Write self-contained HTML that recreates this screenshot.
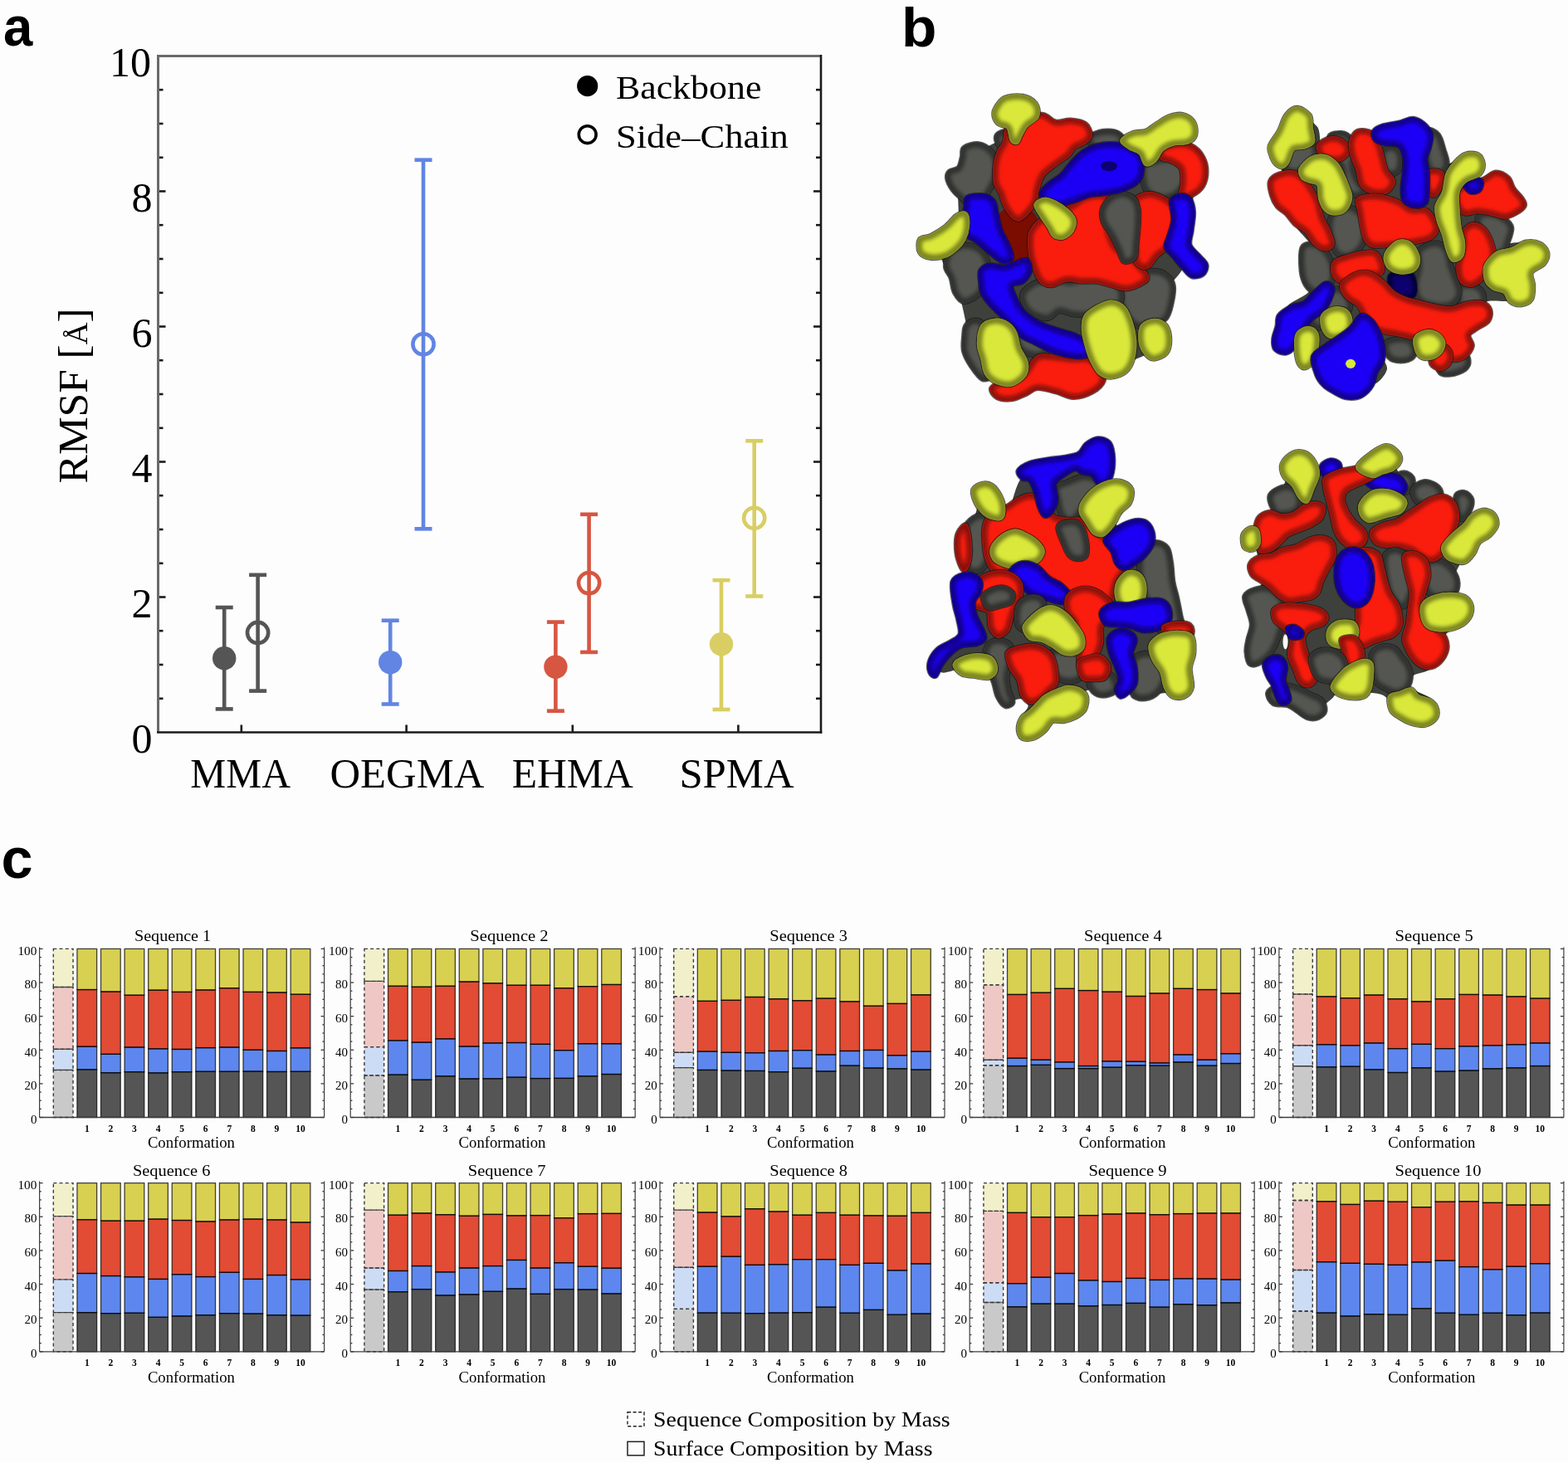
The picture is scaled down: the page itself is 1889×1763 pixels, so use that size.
<!DOCTYPE html>
<html><head><meta charset="utf-8"><title>Figure</title>
<style>html,body{margin:0;padding:0;background:#fdfdfd;} svg{display:block;}</style></head>
<body><svg width="1889" height="1763" viewBox="0 0 1889 1763">
<rect width="1889" height="1763" fill="#fdfdfd"/>
<text transform="translate(4.1,54.9) scale(0.94,1)" font-family="'Liberation Sans', Arial, sans-serif" font-size="67.5" font-weight="bold">a</text>
<text transform="translate(1086.0,56.0) scale(1.03,1)" font-family="'Liberation Sans', Arial, sans-serif" font-size="67.5" font-weight="bold">b</text>
<text transform="translate(1.5,1057.6)" font-family="'Liberation Sans', Arial, sans-serif" font-size="68.4" font-weight="bold">c</text>
<line x1="190.5" y1="841.8" x2="196.5" y2="841.8" stroke="#1a1a1a" stroke-width="2.6"/>
<line x1="989.0" y1="841.8" x2="983.0" y2="841.8" stroke="#1a1a1a" stroke-width="2.6"/>
<line x1="190.5" y1="801.0" x2="196.5" y2="801.0" stroke="#1a1a1a" stroke-width="2.6"/>
<line x1="989.0" y1="801.0" x2="983.0" y2="801.0" stroke="#1a1a1a" stroke-width="2.6"/>
<line x1="190.5" y1="760.2" x2="196.5" y2="760.2" stroke="#1a1a1a" stroke-width="2.6"/>
<line x1="989.0" y1="760.2" x2="983.0" y2="760.2" stroke="#1a1a1a" stroke-width="2.6"/>
<line x1="190.5" y1="719.5" x2="199.5" y2="719.5" stroke="#1a1a1a" stroke-width="2.6"/>
<line x1="989.0" y1="719.5" x2="980.0" y2="719.5" stroke="#1a1a1a" stroke-width="2.6"/>
<line x1="190.5" y1="678.8" x2="196.5" y2="678.8" stroke="#1a1a1a" stroke-width="2.6"/>
<line x1="989.0" y1="678.8" x2="983.0" y2="678.8" stroke="#1a1a1a" stroke-width="2.6"/>
<line x1="190.5" y1="638.0" x2="196.5" y2="638.0" stroke="#1a1a1a" stroke-width="2.6"/>
<line x1="989.0" y1="638.0" x2="983.0" y2="638.0" stroke="#1a1a1a" stroke-width="2.6"/>
<line x1="190.5" y1="597.2" x2="196.5" y2="597.2" stroke="#1a1a1a" stroke-width="2.6"/>
<line x1="989.0" y1="597.2" x2="983.0" y2="597.2" stroke="#1a1a1a" stroke-width="2.6"/>
<line x1="190.5" y1="556.5" x2="199.5" y2="556.5" stroke="#1a1a1a" stroke-width="2.6"/>
<line x1="989.0" y1="556.5" x2="980.0" y2="556.5" stroke="#1a1a1a" stroke-width="2.6"/>
<line x1="190.5" y1="515.8" x2="196.5" y2="515.8" stroke="#1a1a1a" stroke-width="2.6"/>
<line x1="989.0" y1="515.8" x2="983.0" y2="515.8" stroke="#1a1a1a" stroke-width="2.6"/>
<line x1="190.5" y1="475.0" x2="196.5" y2="475.0" stroke="#1a1a1a" stroke-width="2.6"/>
<line x1="989.0" y1="475.0" x2="983.0" y2="475.0" stroke="#1a1a1a" stroke-width="2.6"/>
<line x1="190.5" y1="434.2" x2="196.5" y2="434.2" stroke="#1a1a1a" stroke-width="2.6"/>
<line x1="989.0" y1="434.2" x2="983.0" y2="434.2" stroke="#1a1a1a" stroke-width="2.6"/>
<line x1="190.5" y1="393.5" x2="199.5" y2="393.5" stroke="#1a1a1a" stroke-width="2.6"/>
<line x1="989.0" y1="393.5" x2="980.0" y2="393.5" stroke="#1a1a1a" stroke-width="2.6"/>
<line x1="190.5" y1="352.8" x2="196.5" y2="352.8" stroke="#1a1a1a" stroke-width="2.6"/>
<line x1="989.0" y1="352.8" x2="983.0" y2="352.8" stroke="#1a1a1a" stroke-width="2.6"/>
<line x1="190.5" y1="312.0" x2="196.5" y2="312.0" stroke="#1a1a1a" stroke-width="2.6"/>
<line x1="989.0" y1="312.0" x2="983.0" y2="312.0" stroke="#1a1a1a" stroke-width="2.6"/>
<line x1="190.5" y1="271.2" x2="196.5" y2="271.2" stroke="#1a1a1a" stroke-width="2.6"/>
<line x1="989.0" y1="271.2" x2="983.0" y2="271.2" stroke="#1a1a1a" stroke-width="2.6"/>
<line x1="190.5" y1="230.5" x2="199.5" y2="230.5" stroke="#1a1a1a" stroke-width="2.6"/>
<line x1="989.0" y1="230.5" x2="980.0" y2="230.5" stroke="#1a1a1a" stroke-width="2.6"/>
<line x1="190.5" y1="189.8" x2="196.5" y2="189.8" stroke="#1a1a1a" stroke-width="2.6"/>
<line x1="989.0" y1="189.8" x2="983.0" y2="189.8" stroke="#1a1a1a" stroke-width="2.6"/>
<line x1="190.5" y1="149.0" x2="196.5" y2="149.0" stroke="#1a1a1a" stroke-width="2.6"/>
<line x1="989.0" y1="149.0" x2="983.0" y2="149.0" stroke="#1a1a1a" stroke-width="2.6"/>
<line x1="190.5" y1="108.2" x2="196.5" y2="108.2" stroke="#1a1a1a" stroke-width="2.6"/>
<line x1="989.0" y1="108.2" x2="983.0" y2="108.2" stroke="#1a1a1a" stroke-width="2.6"/>
<line x1="290.8" y1="882.5" x2="290.8" y2="873.5" stroke="#1a1a1a" stroke-width="2.6"/>
<line x1="489.6" y1="882.5" x2="489.6" y2="873.5" stroke="#1a1a1a" stroke-width="2.6"/>
<line x1="689.8" y1="882.5" x2="689.8" y2="873.5" stroke="#1a1a1a" stroke-width="2.6"/>
<line x1="889.4" y1="882.5" x2="889.4" y2="873.5" stroke="#1a1a1a" stroke-width="2.6"/>
<line x1="190.5" y1="67.5" x2="190.5" y2="882.5" stroke="#6a6a6a" stroke-width="3"/>
<line x1="189.0" y1="67.5" x2="990.0" y2="67.5" stroke="#6a6a6a" stroke-width="3"/>
<line x1="989.0" y1="66.0" x2="989.0" y2="883.8" stroke="#1a1a1a" stroke-width="2.6"/>
<line x1="189.0" y1="882.5" x2="990.3" y2="882.5" stroke="#1a1a1a" stroke-width="2.6"/>
<text x="183.5" y="906.5" font-family="'Liberation Serif', 'DejaVu Serif', serif" font-size="50" font-weight="normal" text-anchor="end" fill="#000">0</text>
<text x="183.5" y="743.5" font-family="'Liberation Serif', 'DejaVu Serif', serif" font-size="50" font-weight="normal" text-anchor="end" fill="#000">2</text>
<text x="183.5" y="580.5" font-family="'Liberation Serif', 'DejaVu Serif', serif" font-size="50" font-weight="normal" text-anchor="end" fill="#000">4</text>
<text x="183.5" y="417.5" font-family="'Liberation Serif', 'DejaVu Serif', serif" font-size="50" font-weight="normal" text-anchor="end" fill="#000">6</text>
<text x="183.5" y="254.5" font-family="'Liberation Serif', 'DejaVu Serif', serif" font-size="50" font-weight="normal" text-anchor="end" fill="#000">8</text>
<text x="182.0" y="91.5" font-family="'Liberation Serif', 'DejaVu Serif', serif" font-size="50" font-weight="normal" text-anchor="end" fill="#000" textLength="50.0" lengthAdjust="spacingAndGlyphs">10</text>
<text transform="translate(104.6,476.9) rotate(-90)" x="0" y="0" font-family="'Liberation Serif', 'DejaVu Serif', serif" font-size="50" text-anchor="middle" textLength="211" lengthAdjust="spacingAndGlyphs">RMSF [<tspan font-size="36">Å</tspan>]</text>
<text x="289.7" y="948.8" font-family="'Liberation Serif', 'DejaVu Serif', serif" font-size="51" font-weight="normal" text-anchor="middle" fill="#000" textLength="120.7" lengthAdjust="spacingAndGlyphs">MMA</text>
<text x="490.4" y="948.8" font-family="'Liberation Serif', 'DejaVu Serif', serif" font-size="51" font-weight="normal" text-anchor="middle" fill="#000" textLength="185.8" lengthAdjust="spacingAndGlyphs">OEGMA</text>
<text x="689.7" y="948.8" font-family="'Liberation Serif', 'DejaVu Serif', serif" font-size="51" font-weight="normal" text-anchor="middle" fill="#000" textLength="146.1" lengthAdjust="spacingAndGlyphs">EHMA</text>
<text x="887.5" y="948.8" font-family="'Liberation Serif', 'DejaVu Serif', serif" font-size="51" font-weight="normal" text-anchor="middle" fill="#000" textLength="138.2" lengthAdjust="spacingAndGlyphs">SPMA</text>
<line x1="270.2" y1="732.0" x2="270.2" y2="854.4" stroke="#555555" stroke-width="4.6"/>
<line x1="259.7" y1="732.0" x2="280.7" y2="732.0" stroke="#555555" stroke-width="4.6"/>
<line x1="259.7" y1="854.4" x2="280.7" y2="854.4" stroke="#555555" stroke-width="4.6"/>
<line x1="310.6" y1="692.8" x2="310.6" y2="832.6" stroke="#555555" stroke-width="4.6"/>
<line x1="300.1" y1="692.8" x2="321.1" y2="692.8" stroke="#555555" stroke-width="4.6"/>
<line x1="300.1" y1="832.6" x2="321.1" y2="832.6" stroke="#555555" stroke-width="4.6"/>
<circle cx="270.2" cy="793.2" r="14.2" fill="#555555"/>
<circle cx="310.6" cy="762.5" r="12.6" fill="none" stroke="#555555" stroke-width="4.6"/>
<line x1="470.2" y1="747.7" x2="470.2" y2="848.5" stroke="#6285e3" stroke-width="4.6"/>
<line x1="459.7" y1="747.7" x2="480.7" y2="747.7" stroke="#6285e3" stroke-width="4.6"/>
<line x1="459.7" y1="848.5" x2="480.7" y2="848.5" stroke="#6285e3" stroke-width="4.6"/>
<line x1="510.0" y1="192.7" x2="510.0" y2="637.3" stroke="#6285e3" stroke-width="4.6"/>
<line x1="499.5" y1="192.7" x2="520.5" y2="192.7" stroke="#6285e3" stroke-width="4.6"/>
<line x1="499.5" y1="637.3" x2="520.5" y2="637.3" stroke="#6285e3" stroke-width="4.6"/>
<circle cx="470.2" cy="798.1" r="14.2" fill="#6285e3"/>
<circle cx="510.0" cy="414.8" r="12.6" fill="none" stroke="#6285e3" stroke-width="4.6"/>
<line x1="669.4" y1="749.6" x2="669.4" y2="856.7" stroke="#d65642" stroke-width="4.6"/>
<line x1="658.9" y1="749.6" x2="679.9" y2="749.6" stroke="#d65642" stroke-width="4.6"/>
<line x1="658.9" y1="856.7" x2="679.9" y2="856.7" stroke="#d65642" stroke-width="4.6"/>
<line x1="709.6" y1="619.8" x2="709.6" y2="785.9" stroke="#d65642" stroke-width="4.6"/>
<line x1="699.1" y1="619.8" x2="720.1" y2="619.8" stroke="#d65642" stroke-width="4.6"/>
<line x1="699.1" y1="785.9" x2="720.1" y2="785.9" stroke="#d65642" stroke-width="4.6"/>
<circle cx="669.4" cy="803.6" r="14.2" fill="#d65642"/>
<circle cx="709.6" cy="702.6" r="12.6" fill="none" stroke="#d65642" stroke-width="4.6"/>
<line x1="869.0" y1="699.2" x2="869.0" y2="855.0" stroke="#d8ce64" stroke-width="4.6"/>
<line x1="858.5" y1="699.2" x2="879.5" y2="699.2" stroke="#d8ce64" stroke-width="4.6"/>
<line x1="858.5" y1="855.0" x2="879.5" y2="855.0" stroke="#d8ce64" stroke-width="4.6"/>
<line x1="908.7" y1="531.3" x2="908.7" y2="718.5" stroke="#d8ce64" stroke-width="4.6"/>
<line x1="898.2" y1="531.3" x2="919.2" y2="531.3" stroke="#d8ce64" stroke-width="4.6"/>
<line x1="898.2" y1="718.5" x2="919.2" y2="718.5" stroke="#d8ce64" stroke-width="4.6"/>
<circle cx="869.0" cy="776.3" r="14.2" fill="#d8ce64"/>
<circle cx="908.7" cy="624.3" r="12.6" fill="none" stroke="#d8ce64" stroke-width="4.6"/>
<circle cx="707.7" cy="103.7" r="12.6" fill="#000"/>
<circle cx="707.7" cy="162.2" r="10.4" fill="none" stroke="#000" stroke-width="3.6"/>
<text x="741.9" y="118.5" font-family="'Liberation Serif', 'DejaVu Serif', serif" font-size="41" font-weight="normal" text-anchor="start" fill="#000" textLength="175.5" lengthAdjust="spacingAndGlyphs">Backbone</text>
<text x="741.9" y="177.9" font-family="'Liberation Serif', 'DejaVu Serif', serif" font-size="41" font-weight="normal" text-anchor="start" fill="#000" textLength="208.0" lengthAdjust="spacingAndGlyphs">Side–Chain</text>
<defs><filter id="soft" x="-5%" y="-5%" width="110%" height="110%"><feGaussianBlur stdDeviation="3"/></filter><filter id="ish" x="-20%" y="-20%" width="140%" height="140%"><feGaussianBlur stdDeviation="9"/></filter></defs>
<defs><path id="p1" d="M300,330C315,318 355,307 380,310C405,313 433,332 450,350C467,368 477,395 480,420C483,445 477,477 470,500C463,523 452,540 440,560C428,580 418,607 400,620C382,633 350,643 330,640C310,637 295,613 280,600C265,587 252,577 240,560C228,543 213,517 210,500C207,483 210,470 220,460C230,450 258,453 270,440C282,427 285,398 290,380C295,362 285,342 300,330Z"/><path id="p2" d="M480,260C488,250 515,238 530,240C545,242 565,255 570,270C575,285 570,318 560,330C550,342 523,345 510,340C497,335 485,313 480,300C475,287 472,270 480,260Z"/><path id="p3" d="M980,270C992,259 1033,243 1060,240C1087,237 1122,240 1140,250C1158,260 1177,287 1170,300C1163,313 1125,325 1100,330C1075,335 1039,334 1020,330C1001,326 992,315 985,305C978,295 968,281 980,270Z"/><path id="p4" d="M220,900C237,880 273,863 300,860C327,857 358,865 380,880C402,895 423,922 430,950C437,978 428,1020 420,1050C412,1080 400,1110 380,1130C360,1150 322,1172 300,1170C278,1168 262,1142 250,1120C238,1098 238,1063 230,1040C222,1017 202,1003 200,980C198,957 203,920 220,900Z"/><path id="p5" d="M310,1300C320,1285 343,1270 360,1270C377,1270 398,1278 410,1300C422,1322 427,1367 430,1400C433,1433 427,1472 430,1500C433,1528 455,1555 450,1570C445,1585 418,1598 400,1590C382,1582 357,1545 340,1520C323,1495 307,1467 300,1440C293,1413 298,1383 300,1360C302,1337 300,1315 310,1300Z"/><path id="p6" d="M1160,1060C1175,1037 1212,1030 1240,1020C1268,1010 1303,1000 1330,1000C1357,1000 1382,1007 1400,1020C1418,1033 1435,1053 1440,1080C1445,1107 1437,1150 1430,1180C1423,1210 1418,1240 1400,1260C1382,1280 1347,1293 1320,1300C1293,1307 1263,1310 1240,1300C1217,1290 1195,1263 1180,1240C1165,1217 1153,1190 1150,1160C1147,1130 1145,1083 1160,1060Z"/><path id="p7" d="M620,1120C632,1098 670,1072 700,1060C730,1048 770,1050 800,1050C830,1050 853,1062 880,1060C907,1058 930,1043 960,1040C990,1037 1030,1033 1060,1040C1090,1047 1123,1060 1140,1080C1157,1100 1167,1137 1160,1160C1153,1183 1127,1207 1100,1220C1073,1233 1033,1237 1000,1240C967,1243 930,1243 900,1240C870,1237 843,1217 820,1220C797,1223 783,1257 760,1260C737,1263 702,1252 680,1240C658,1228 640,1210 630,1190C620,1170 608,1142 620,1120Z"/><path id="p8" d="M600,1330C615,1325 653,1355 680,1370C707,1385 753,1405 760,1420C767,1435 740,1455 720,1460C700,1465 662,1460 640,1450C618,1440 597,1420 590,1400C583,1380 585,1335 600,1330Z"/><path id="p9" d="M1280,420C1292,407 1317,405 1340,400C1363,395 1395,387 1420,390C1445,393 1475,402 1490,420C1505,438 1512,477 1510,500C1508,523 1495,543 1480,560C1465,577 1442,593 1420,600C1398,607 1372,607 1350,600C1328,593 1303,580 1290,560C1277,540 1272,503 1270,480C1268,457 1268,433 1280,420Z"/><path id="p10" d="M540,210C557,187 588,170 620,160C652,150 700,145 730,150C760,155 775,185 800,190C825,195 853,178 880,180C907,182 942,187 960,200C978,213 990,243 990,260C990,277 975,288 960,300C945,312 915,318 900,330C885,342 887,355 870,370C853,385 823,402 800,420C777,438 747,457 730,480C713,503 707,537 700,560C693,583 698,600 690,620C682,640 665,663 650,680C635,697 615,717 600,720C585,723 573,713 560,700C547,687 530,660 520,640C510,620 508,600 500,580C492,560 475,547 470,520C465,493 467,448 470,420C473,392 482,370 490,350C498,330 512,323 520,300C528,277 523,233 540,210Z"/><path id="p11" d="M660,800C667,773 683,757 700,740C717,723 740,710 760,700C780,690 797,690 820,680C843,670 877,653 900,640C923,627 933,608 960,600C987,592 1037,583 1060,590C1083,597 1097,618 1100,640C1103,662 1082,693 1080,720C1078,747 1082,773 1090,800C1098,827 1112,860 1130,880C1148,900 1178,903 1200,920C1222,937 1243,960 1260,980C1277,1000 1302,1023 1300,1040C1298,1057 1270,1070 1250,1080C1230,1090 1205,1100 1180,1100C1155,1100 1127,1087 1100,1080C1073,1073 1047,1063 1020,1060C993,1057 967,1062 940,1060C913,1058 887,1047 860,1050C833,1053 803,1078 780,1080C757,1082 737,1077 720,1060C703,1043 690,1007 680,980C670,953 663,930 660,900C657,870 653,827 660,800Z"/><path id="p12" d="M1220,620C1237,600 1273,583 1300,580C1327,577 1355,587 1380,600C1405,613 1435,637 1450,660C1465,683 1472,713 1470,740C1468,767 1452,797 1440,820C1428,843 1415,863 1400,880C1385,897 1367,903 1350,920C1333,937 1318,973 1300,980C1282,987 1252,980 1240,960C1228,940 1233,890 1230,860C1227,830 1225,807 1220,780C1215,753 1200,727 1200,700C1200,673 1203,640 1220,620Z"/><path id="p13" d="M1370,340C1382,327 1422,313 1450,310C1478,307 1515,308 1540,320C1565,332 1587,357 1600,380C1613,403 1620,433 1620,460C1620,487 1613,518 1600,540C1587,562 1560,580 1540,590C1520,600 1488,612 1480,600C1472,588 1490,547 1490,520C1490,493 1492,460 1480,440C1468,420 1437,408 1420,400C1403,392 1388,400 1380,390C1372,380 1358,353 1370,340Z"/><path id="p14" d="M450,1640C457,1625 492,1612 520,1600C548,1588 590,1592 620,1570C650,1548 670,1487 700,1470C730,1453 767,1468 800,1470C833,1472 870,1478 900,1480C930,1482 957,1470 980,1480C1003,1490 1027,1520 1040,1540C1053,1560 1067,1580 1060,1600C1053,1620 1027,1645 1000,1660C973,1675 933,1690 900,1690C867,1690 833,1668 800,1660C767,1652 727,1638 700,1640C673,1642 663,1660 640,1670C617,1680 587,1697 560,1700C533,1703 498,1700 480,1690C462,1680 443,1655 450,1640Z"/><path id="p15" d="M1080,620C1097,603 1127,583 1150,580C1173,577 1203,587 1220,600C1237,613 1245,633 1250,660C1255,687 1252,727 1250,760C1248,793 1243,832 1240,860C1237,888 1242,915 1230,930C1218,945 1185,958 1170,950C1155,942 1152,905 1140,880C1128,855 1113,823 1100,800C1087,777 1068,760 1060,740C1052,720 1047,700 1050,680C1053,660 1063,637 1080,620Z"/><path id="p16" d="M720,580C722,563 742,547 760,530C778,513 810,498 830,480C850,462 862,440 880,420C898,400 917,377 940,360C963,343 990,328 1020,320C1050,312 1090,308 1120,310C1150,312 1177,318 1200,330C1223,342 1248,358 1260,380C1272,402 1273,437 1270,460C1267,483 1258,503 1240,520C1222,537 1190,550 1160,560C1130,570 1090,575 1060,580C1030,585 1007,583 980,590C953,597 927,612 900,620C873,628 845,638 820,640C795,642 767,640 750,630C733,620 718,597 720,580Z"/><path id="p17" d="M320,600C335,590 377,587 400,590C423,593 447,602 460,620C473,638 473,673 480,700C487,727 490,753 500,780C510,807 530,835 540,860C550,885 565,915 560,930C555,945 530,955 510,950C490,945 463,918 440,900C417,882 392,857 370,840C348,823 322,820 310,800C298,780 300,745 300,720C300,695 307,670 310,650C313,630 305,610 320,600Z"/><path id="p18" d="M1430,620C1437,598 1463,592 1480,590C1497,588 1518,595 1530,610C1542,625 1548,652 1550,680C1552,708 1543,750 1540,780C1537,810 1523,837 1530,860C1537,883 1565,902 1580,920C1595,938 1617,953 1620,970C1623,987 1613,1010 1600,1020C1587,1030 1558,1037 1540,1030C1522,1023 1507,998 1490,980C1473,962 1455,938 1440,920C1425,902 1403,890 1400,870C1397,850 1413,825 1420,800C1427,775 1438,750 1440,720C1442,690 1423,642 1430,620Z"/><path id="p19" d="M390,1000C398,985 418,973 440,970C462,967 497,982 520,980C543,978 560,967 580,960C600,953 627,933 640,940C653,947 663,980 660,1000C657,1020 637,1047 620,1060C603,1073 567,1065 560,1080C553,1095 570,1127 580,1150C590,1173 600,1198 620,1220C640,1242 670,1263 700,1280C730,1297 767,1308 800,1320C833,1332 870,1337 900,1350C930,1363 965,1383 980,1400C995,1417 997,1438 990,1450C983,1462 963,1468 940,1470C917,1472 880,1467 850,1460C820,1453 788,1442 760,1430C732,1418 703,1402 680,1390C657,1378 640,1375 620,1360C600,1345 580,1320 560,1300C540,1280 520,1260 500,1240C480,1220 457,1200 440,1180C423,1160 408,1140 400,1120C392,1100 392,1080 390,1060C388,1040 382,1015 390,1000Z"/><path id="p20" d="M470,120C479,103 495,72 520,60C545,48 592,45 620,50C648,55 677,72 690,90C703,108 708,140 700,160C692,180 655,193 640,210C625,227 618,245 610,260C602,275 598,295 590,300C582,305 568,303 560,290C552,277 552,235 540,220C528,205 502,210 490,200C478,190 468,173 465,160C462,147 461,137 470,120Z"/><path id="p21" d="M60,830C70,815 97,822 120,810C143,798 177,778 200,760C223,742 242,712 260,700C278,688 300,680 310,690C320,700 322,737 320,760C318,783 310,810 300,830C290,850 277,865 260,880C243,895 223,912 200,920C177,928 143,933 120,930C97,927 70,917 60,900C50,883 50,845 60,830Z"/><path id="p22" d="M690,640C693,625 722,612 740,610C758,608 780,620 800,630C820,640 843,655 860,670C877,685 895,702 900,720C905,738 900,763 890,780C880,797 857,815 840,820C823,825 803,820 790,810C777,800 772,778 760,760C748,742 732,720 720,700C708,680 687,655 690,640Z"/><path id="p23" d="M1160,290C1163,277 1198,258 1220,250C1242,242 1268,248 1290,240C1312,232 1328,213 1350,200C1372,187 1397,168 1420,160C1443,152 1468,145 1490,150C1512,155 1538,172 1550,190C1562,208 1565,242 1560,260C1555,278 1540,292 1520,300C1500,308 1463,303 1440,310C1417,317 1397,325 1380,340C1363,355 1355,387 1340,400C1325,413 1303,427 1290,420C1277,413 1275,375 1260,360C1245,345 1217,342 1200,330C1183,318 1157,303 1160,290Z"/><path id="p24" d="M400,1300C415,1278 447,1272 470,1270C493,1268 522,1278 540,1290C558,1302 570,1318 580,1340C590,1362 590,1393 600,1420C610,1447 635,1475 640,1500C645,1525 643,1550 630,1570C617,1590 585,1613 560,1620C535,1627 503,1620 480,1610C457,1600 433,1582 420,1560C407,1538 407,1507 400,1480C393,1453 380,1430 380,1400C380,1370 385,1322 400,1300Z"/><path id="p25" d="M960,1250C972,1228 997,1213 1020,1200C1043,1187 1075,1170 1100,1170C1125,1170 1152,1182 1170,1200C1188,1218 1200,1250 1210,1280C1220,1310 1228,1347 1230,1380C1232,1413 1228,1452 1220,1480C1212,1508 1200,1533 1180,1550C1160,1567 1123,1578 1100,1580C1077,1582 1057,1573 1040,1560C1023,1547 1012,1523 1000,1500C988,1477 978,1448 970,1420C962,1392 952,1358 950,1330C948,1302 948,1272 960,1250Z"/><path id="p26" d="M1270,1300C1283,1282 1318,1270 1340,1270C1362,1270 1387,1282 1400,1300C1413,1318 1420,1355 1420,1380C1420,1405 1415,1433 1400,1450C1385,1467 1350,1482 1330,1480C1310,1478 1292,1457 1280,1440C1268,1423 1262,1403 1260,1380C1258,1357 1257,1318 1270,1300Z"/><path id="p27" d="M160,290C173,267 207,255 230,250C253,245 283,248 300,260C317,272 330,300 330,320C330,340 313,363 300,380C287,397 268,412 250,420C232,428 207,435 190,430C173,425 155,413 150,390C145,367 147,313 160,290Z"/><path id="p28" d="M400,230C408,210 450,208 470,210C490,212 508,222 520,240C532,258 538,293 540,320C542,347 527,373 530,400C533,427 548,458 560,480C572,502 600,517 600,530C600,543 577,558 560,560C543,562 513,553 500,540C487,527 485,503 480,480C475,457 480,425 470,400C460,375 432,358 420,330C408,302 392,250 400,230Z"/><path id="p29" d="M700,310C710,292 743,285 760,290C777,295 795,318 800,340C805,362 800,403 790,420C780,437 755,443 740,440C725,437 707,422 700,400C693,378 690,328 700,310Z"/><path id="p30" d="M950,200C962,180 995,203 1010,220C1025,237 1032,273 1040,300C1048,327 1062,358 1060,380C1058,402 1045,423 1030,430C1015,437 985,435 970,420C955,405 943,377 940,340C937,303 938,220 950,200Z"/><path id="p31" d="M420,660C433,643 458,623 480,620C502,617 530,627 550,640C570,653 592,673 600,700C608,727 607,772 600,800C593,828 577,853 560,870C543,887 520,898 500,900C480,902 455,897 440,880C425,863 417,827 410,800C403,773 398,743 400,720C402,697 407,677 420,660Z"/><path id="p32" d="M250,850C262,825 298,827 320,830C342,833 363,850 380,870C397,890 413,923 420,950C427,977 425,1007 420,1030C415,1053 407,1078 390,1090C373,1102 340,1105 320,1100C300,1095 282,1080 270,1060C258,1040 248,1015 245,980C242,945 238,875 250,850Z"/><path id="p33" d="M1230,680C1240,663 1275,658 1300,660C1325,662 1360,677 1380,690C1400,703 1417,718 1420,740C1423,762 1408,797 1400,820C1392,843 1387,870 1370,880C1353,890 1318,890 1300,880C1282,870 1270,840 1260,820C1250,800 1245,783 1240,760C1235,737 1220,697 1230,680Z"/><path id="p34" d="M1120,1080C1130,1057 1177,1057 1200,1060C1223,1063 1250,1080 1260,1100C1270,1120 1270,1160 1260,1180C1250,1200 1220,1217 1200,1220C1180,1223 1153,1223 1140,1200C1127,1177 1110,1103 1120,1080Z"/><path id="p35" d="M1000,1480C1007,1462 1035,1447 1060,1440C1085,1433 1130,1433 1150,1440C1170,1447 1178,1465 1180,1480C1182,1495 1177,1517 1160,1530C1143,1543 1103,1557 1080,1560C1057,1563 1033,1563 1020,1550C1007,1537 993,1498 1000,1480Z"/><path id="p36" d="M720,1380C733,1367 777,1360 800,1360C823,1360 847,1367 860,1380C873,1393 883,1423 880,1440C877,1457 860,1473 840,1480C820,1487 780,1487 760,1480C740,1473 727,1457 720,1440C713,1423 707,1393 720,1380Z"/><path id="p37" d="M320,1200C337,1173 378,1120 400,1100C422,1080 433,1077 450,1080C467,1083 488,1103 500,1120C512,1137 523,1160 520,1180C517,1200 500,1223 480,1240C460,1257 423,1270 400,1280C377,1290 357,1303 340,1300C323,1297 303,1277 300,1260C297,1243 303,1227 320,1200Z"/><path id="p38" d="M70,480C77,460 98,448 120,440C142,432 177,425 200,430C223,435 242,452 260,470C278,488 297,518 310,540C323,562 332,577 340,600C348,623 350,653 360,680C370,707 390,735 400,760C410,785 423,813 420,830C417,847 397,860 380,860C363,860 338,847 320,830C302,813 288,778 270,760C252,742 228,737 210,720C192,703 177,677 160,660C143,643 123,637 110,620C97,603 87,583 80,560C73,537 63,500 70,480Z"/><path id="p39" d="M340,280C347,263 378,245 400,240C422,235 452,240 470,250C488,260 508,283 510,300C512,317 495,340 480,350C465,360 440,362 420,360C400,358 373,353 360,340C347,327 333,297 340,280Z"/><path id="p40" d="M520,260C525,237 540,208 560,200C580,192 620,197 640,210C660,223 670,257 680,280C690,303 693,327 700,350C707,373 710,398 720,420C730,442 760,460 760,480C760,500 740,530 720,540C700,550 663,547 640,540C617,533 593,520 580,500C567,480 568,447 560,420C552,393 537,367 530,340C523,313 515,283 520,260Z"/><path id="p41" d="M560,580C572,565 613,562 640,560C667,558 693,563 720,570C747,577 777,588 800,600C823,612 837,633 860,640C883,647 918,630 940,640C962,650 980,680 990,700C1000,720 1005,743 1000,760C995,777 980,790 960,800C940,810 907,815 880,820C853,825 827,827 800,830C773,833 747,838 720,840C693,842 660,847 640,840C620,833 610,820 600,800C590,780 585,745 580,720C575,695 573,673 570,650C567,627 548,595 560,580Z"/><path id="p42" d="M940,440C948,423 983,418 1000,420C1017,422 1037,433 1040,450C1043,467 1030,502 1020,520C1010,538 992,560 980,560C968,560 957,540 950,520C943,500 932,457 940,440Z"/><path id="p43" d="M430,930C443,915 475,908 500,900C525,892 553,883 580,880C607,877 640,867 660,880C680,893 697,940 700,960C703,980 693,993 680,1000C667,1007 638,995 620,1000C602,1005 587,1022 570,1030C553,1038 538,1048 520,1050C502,1052 477,1050 460,1040C443,1030 425,1008 420,990C415,972 417,945 430,930Z"/><path id="p44" d="M900,870C910,848 940,837 960,830C980,823 1003,823 1020,830C1037,837 1050,850 1060,870C1070,890 1072,923 1080,950C1088,977 1102,1005 1110,1030C1118,1055 1132,1078 1130,1100C1128,1122 1115,1147 1100,1160C1085,1173 1063,1178 1040,1180C1017,1182 983,1177 960,1170C937,1163 913,1158 900,1140C887,1122 880,1090 880,1060C880,1030 897,992 900,960C903,928 890,892 900,870Z"/><path id="p45" d="M740,1010C748,992 780,992 800,990C820,988 847,988 860,1000C873,1012 878,1040 880,1060C882,1080 883,1108 870,1120C857,1132 820,1133 800,1130C780,1127 760,1120 750,1100C740,1080 732,1028 740,1010Z"/><path id="p46" d="M720,880C730,860 760,830 780,820C800,810 823,813 840,820C857,827 870,843 880,860C890,877 900,902 900,920C900,938 893,958 880,970C867,982 840,988 820,990C800,992 777,988 760,980C743,972 727,957 720,940C713,923 710,900 720,880Z"/><path id="p47" d="M1110,540C1118,520 1145,512 1170,500C1195,488 1233,482 1260,470C1287,458 1307,432 1330,430C1353,428 1383,445 1400,460C1417,475 1417,500 1430,520C1443,540 1470,563 1480,580C1490,597 1497,607 1490,620C1483,633 1458,650 1440,660C1422,670 1403,680 1380,680C1357,680 1325,665 1300,660C1275,655 1253,650 1230,650C1207,650 1178,665 1160,660C1142,655 1128,640 1120,620C1112,600 1102,560 1110,540Z"/><path id="p48" d="M1160,500C1162,488 1185,473 1200,470C1215,467 1243,470 1250,480C1257,490 1250,520 1240,530C1230,540 1203,545 1190,540C1177,535 1158,512 1160,500Z"/><path id="p49" d="M1150,760C1158,743 1182,723 1200,720C1218,717 1243,727 1260,740C1277,753 1290,777 1300,800C1310,823 1320,853 1320,880C1320,907 1310,937 1300,960C1290,983 1277,1003 1260,1020C1243,1037 1220,1057 1200,1060C1180,1063 1153,1057 1140,1040C1127,1023 1120,987 1120,960C1120,933 1135,903 1140,880C1145,857 1148,840 1150,820C1152,800 1142,777 1150,760Z"/><path id="p50" d="M1000,620C1005,593 1030,570 1040,540C1050,510 1050,467 1060,440C1070,413 1083,398 1100,380C1117,362 1138,338 1160,330C1182,322 1213,322 1230,330C1247,338 1258,362 1260,380C1262,398 1257,423 1240,440C1223,457 1180,463 1160,480C1140,497 1127,513 1120,540C1113,567 1118,607 1120,640C1122,673 1125,710 1130,740C1135,770 1148,793 1150,820C1152,847 1150,883 1140,900C1130,917 1103,927 1090,920C1077,913 1068,883 1060,860C1052,837 1048,807 1040,780C1032,753 1017,727 1010,700C1003,673 995,647 1000,620Z"/><path id="p51" d="M1280,940C1292,923 1317,893 1340,880C1363,867 1393,870 1420,860C1447,850 1473,825 1500,820C1527,815 1560,820 1580,830C1600,840 1617,862 1620,880C1623,898 1615,922 1600,940C1585,958 1540,970 1530,990C1520,1010 1540,1035 1540,1060C1540,1085 1542,1122 1530,1140C1518,1158 1490,1168 1470,1170C1450,1172 1425,1162 1410,1150C1395,1138 1395,1112 1380,1100C1365,1088 1337,1090 1320,1080C1303,1070 1288,1057 1280,1040C1272,1023 1270,997 1270,980C1270,963 1268,957 1280,940Z"/><path id="p52" d="M470,1060C477,1038 515,1012 540,1000C565,988 593,983 620,990C647,997 677,1022 700,1040C723,1058 737,1083 760,1100C783,1117 813,1130 840,1140C867,1150 893,1153 920,1160C947,1167 973,1175 1000,1180C1027,1185 1050,1193 1080,1190C1110,1187 1150,1165 1180,1160C1210,1155 1240,1153 1260,1160C1280,1167 1295,1183 1300,1200C1305,1217 1302,1243 1290,1260C1278,1277 1248,1287 1230,1300C1212,1313 1185,1323 1180,1340C1175,1357 1203,1380 1200,1400C1197,1420 1177,1447 1160,1460C1143,1473 1123,1480 1100,1480C1077,1480 1043,1473 1020,1460C997,1447 983,1417 960,1400C937,1383 907,1370 880,1360C853,1350 830,1347 800,1340C770,1333 727,1327 700,1320C673,1313 657,1313 640,1300C623,1287 613,1262 600,1240C587,1218 577,1188 560,1170C543,1152 515,1148 500,1130C485,1112 463,1082 470,1060Z"/><path id="p53" d="M980,1440C992,1423 1023,1400 1040,1400C1057,1400 1075,1423 1080,1440C1085,1457 1080,1485 1070,1500C1060,1515 1037,1530 1020,1530C1003,1530 977,1515 970,1500C963,1485 968,1457 980,1440Z"/><path id="p54" d="M880,1360C887,1338 920,1325 940,1320C960,1315 983,1320 1000,1330C1017,1340 1037,1362 1040,1380C1043,1398 1033,1425 1020,1440C1007,1455 980,1468 960,1470C940,1472 913,1468 900,1450C887,1432 873,1382 880,1360Z"/><path id="p55" d="M650,200C657,187 675,178 700,170C725,162 772,157 800,150C828,143 848,128 870,130C892,132 913,145 930,160C947,175 965,198 970,220C975,242 965,268 960,290C955,312 942,327 940,350C938,373 948,402 950,430C952,458 952,492 950,520C948,548 952,583 940,600C928,617 900,622 880,620C860,618 832,607 820,590C808,573 810,547 810,520C810,493 818,460 820,430C822,400 825,365 820,340C815,315 807,292 790,280C773,268 742,275 720,270C698,265 672,262 660,250C648,238 643,213 650,200Z"/><path id="p56" d="M70,280C78,258 105,228 120,200C135,172 143,132 160,110C177,88 198,70 220,70C242,70 277,92 290,110C303,128 297,155 300,180C303,205 317,242 310,260C303,278 278,283 260,290C242,297 215,287 200,300C185,313 180,353 170,370C160,387 152,398 140,400C128,402 111,392 100,380C89,368 80,347 75,330C70,313 62,302 70,280Z"/><path id="p57" d="M240,410C248,392 277,362 300,350C323,338 357,335 380,340C403,345 425,365 440,380C455,395 460,410 470,430C480,450 492,477 500,500C508,523 522,547 520,570C518,593 505,625 490,640C475,655 448,660 430,660C412,660 393,653 380,640C367,627 357,603 350,580C343,557 350,517 340,500C330,483 305,487 290,480C275,473 258,472 250,460C242,448 232,428 240,410Z"/><path id="p58" d="M120,1230C133,1212 167,1192 190,1180C213,1168 238,1173 260,1160C282,1147 300,1118 320,1100C340,1082 363,1053 380,1050C397,1047 417,1063 420,1080C423,1097 410,1128 400,1150C390,1172 377,1193 360,1210C343,1227 318,1232 300,1250C282,1268 265,1295 250,1320C235,1345 225,1380 210,1400C195,1420 178,1437 160,1440C142,1443 112,1433 100,1420C88,1407 88,1382 90,1360C92,1338 105,1312 110,1290C115,1268 107,1248 120,1230Z"/><path id="p59" d="M360,1240C365,1222 383,1208 400,1200C417,1192 442,1187 460,1190C478,1193 500,1203 510,1220C520,1237 525,1270 520,1290C515,1310 498,1330 480,1340C462,1350 428,1355 410,1350C392,1345 378,1328 370,1310C362,1292 355,1258 360,1240Z"/><path id="p60" d="M220,1340C230,1313 262,1302 280,1300C298,1298 322,1310 330,1330C338,1350 335,1392 330,1420C325,1448 313,1483 300,1500C287,1517 263,1527 250,1520C237,1513 225,1490 220,1460C215,1430 210,1367 220,1340Z"/><path id="p61" d="M310,1460C318,1433 358,1417 380,1400C402,1383 417,1377 440,1360C463,1343 497,1322 520,1300C543,1278 560,1237 580,1230C600,1223 623,1243 640,1260C657,1277 670,1307 680,1330C690,1353 697,1375 700,1400C703,1425 707,1455 700,1480C693,1505 670,1527 660,1550C650,1573 653,1598 640,1620C627,1642 603,1668 580,1680C557,1692 525,1693 500,1690C475,1687 452,1672 430,1660C408,1648 387,1637 370,1620C353,1603 340,1587 330,1560C320,1533 302,1487 310,1460Z"/><path id="p62" d="M760,320C768,302 797,300 820,290C843,280 877,263 900,260C923,257 943,262 960,270C977,278 997,292 1000,310C1003,328 993,362 980,380C967,398 937,407 920,420C903,433 893,447 880,460C867,473 855,498 840,500C825,502 802,487 790,470C778,453 775,425 770,400C765,375 752,338 760,320Z"/><path id="p63" d="M270,540C280,517 302,492 320,480C338,468 363,463 380,470C397,477 413,495 420,520C427,545 423,590 420,620C417,650 410,677 400,700C390,723 377,750 360,760C343,770 315,770 300,760C285,750 277,723 270,700C263,677 260,647 260,620C260,593 260,563 270,540Z"/><path id="p64" d="M240,560C248,543 270,513 280,520C290,527 297,570 300,600C303,630 305,673 300,700C295,727 280,760 270,760C260,760 247,723 240,700C233,677 230,643 230,620C230,597 232,577 240,560Z"/><path id="p65" d="M1220,640C1235,618 1268,610 1290,610C1312,610 1337,622 1350,640C1363,658 1365,690 1370,720C1375,750 1375,790 1380,820C1385,850 1393,870 1400,900C1407,930 1415,973 1420,1000C1425,1027 1437,1043 1430,1060C1423,1077 1400,1097 1380,1100C1360,1103 1327,1097 1310,1080C1293,1063 1292,1027 1280,1000C1268,973 1252,947 1240,920C1228,893 1217,870 1210,840C1203,810 1198,773 1200,740C1202,707 1205,662 1220,640Z"/><path id="p66" d="M1170,1240C1182,1207 1208,1203 1230,1200C1252,1197 1282,1203 1300,1220C1318,1237 1337,1273 1340,1300C1343,1327 1332,1358 1320,1380C1308,1402 1290,1420 1270,1430C1250,1440 1218,1445 1200,1440C1182,1435 1165,1433 1160,1400C1155,1367 1158,1273 1170,1240Z"/><path id="p67" d="M730,1200C742,1182 775,1180 800,1180C825,1180 860,1187 880,1200C900,1213 917,1240 920,1260C923,1280 912,1305 900,1320C888,1335 870,1347 850,1350C830,1353 800,1350 780,1340C760,1330 738,1313 730,1290C722,1267 718,1218 730,1200Z"/><path id="p68" d="M940,1330C950,1317 980,1302 1000,1300C1020,1298 1047,1305 1060,1320C1073,1335 1083,1373 1080,1390C1077,1407 1057,1415 1040,1420C1023,1425 997,1427 980,1420C963,1413 947,1395 940,1380C933,1365 930,1343 940,1330Z"/><path id="p69" d="M400,1150C413,1135 440,1128 460,1130C480,1132 510,1142 520,1160C530,1178 523,1213 520,1240C517,1267 502,1293 500,1320C498,1347 505,1377 510,1400C515,1423 533,1447 530,1460C527,1473 503,1485 490,1480C477,1475 460,1450 450,1430C440,1410 438,1385 430,1360C422,1335 408,1303 400,1280C392,1257 380,1242 380,1220C380,1198 387,1165 400,1150Z"/><path id="p70" d="M380,520C387,490 400,477 420,460C440,443 477,433 500,420C523,407 540,390 560,380C580,370 600,360 620,360C640,360 663,367 680,380C697,393 707,423 720,440C733,457 740,472 760,480C780,488 817,488 840,490C863,492 880,482 900,490C920,498 937,522 960,540C983,558 1013,587 1040,600C1067,613 1102,607 1120,620C1138,633 1150,657 1150,680C1150,703 1132,737 1120,760C1108,783 1090,797 1080,820C1070,843 1067,877 1060,900C1053,923 1053,947 1040,960C1027,973 1003,975 980,980C957,985 923,992 900,990C877,988 857,985 840,970C823,955 813,922 800,900C787,878 777,857 760,840C743,823 720,813 700,800C680,787 663,767 640,760C617,753 583,758 560,760C537,762 520,768 500,770C480,772 457,778 440,770C423,762 410,742 400,720C390,698 383,673 380,640C377,607 373,550 380,520Z"/><path id="p71" d="M770,530C775,510 810,502 830,500C850,498 875,503 890,520C905,537 915,573 920,600C925,627 927,663 920,680C913,697 895,700 880,700C865,700 843,693 830,680C817,667 810,645 800,620C790,595 765,550 770,530Z"/><path id="p72" d="M420,640C427,620 450,595 470,580C490,565 518,552 540,550C562,548 580,560 600,570C620,580 645,595 660,610C675,625 690,643 690,660C690,677 675,700 660,710C645,720 620,715 600,720C580,725 560,738 540,740C520,742 498,737 480,730C462,723 440,715 430,700C420,685 413,660 420,640Z"/><path id="p73" d="M520,760C527,745 557,723 580,720C603,717 637,727 660,740C683,753 698,783 720,800C742,817 772,825 790,840C808,855 828,875 830,890C832,905 815,925 800,930C785,935 760,925 740,920C720,915 700,907 680,900C660,893 637,890 620,880C603,870 593,852 580,840C567,828 550,823 540,810C530,797 513,775 520,760Z"/><path id="p74" d="M300,870C310,847 337,817 360,800C383,783 413,773 440,770C467,767 498,770 520,780C542,790 562,810 570,830C578,850 575,878 570,900C565,922 548,940 540,960C532,980 527,1000 520,1020C513,1040 512,1065 500,1080C488,1095 465,1113 450,1110C435,1107 418,1082 410,1060C402,1038 410,997 400,980C390,963 367,967 350,960C333,953 308,955 300,940C292,925 290,893 300,870Z"/><path id="p75" d="M370,900C373,883 402,868 420,860C438,852 462,847 480,850C498,853 523,867 530,880C537,893 532,918 520,930C508,942 480,945 460,950C440,955 415,968 400,960C385,952 367,917 370,900Z"/><path id="p76" d="M560,940C572,917 600,905 620,900C640,895 667,900 680,910C693,920 700,942 700,960C700,978 690,1003 680,1020C670,1037 655,1050 640,1060C625,1070 605,1083 590,1080C575,1077 555,1063 550,1040C545,1017 548,963 560,940Z"/><path id="p77" d="M820,900C830,880 858,867 880,860C902,853 927,853 950,860C973,867 1002,883 1020,900C1038,917 1057,940 1060,960C1063,980 1050,1003 1040,1020C1030,1037 1007,1040 1000,1060C993,1080 1003,1117 1000,1140C997,1163 990,1180 980,1200C970,1220 953,1243 940,1260C927,1277 910,1303 900,1300C890,1297 883,1260 880,1240C877,1220 885,1200 880,1180C875,1160 853,1143 850,1120C847,1097 865,1063 860,1040C855,1017 827,1003 820,980C813,957 810,920 820,900Z"/><path id="p78" d="M590,1060C593,1040 622,1017 640,1000C658,983 680,967 700,960C720,953 740,953 760,960C780,967 802,983 820,1000C838,1017 857,1042 870,1060C883,1078 895,1092 900,1110C905,1128 907,1155 900,1170C893,1185 877,1195 860,1200C843,1205 820,1207 800,1200C780,1193 760,1172 740,1160C720,1148 700,1137 680,1130C660,1123 635,1132 620,1120C605,1108 587,1080 590,1060Z"/><path id="p79" d="M1020,600C1023,580 1057,557 1080,540C1103,523 1135,507 1160,500C1185,493 1212,492 1230,500C1248,508 1263,530 1270,550C1277,570 1277,598 1270,620C1263,642 1245,663 1230,680C1215,697 1198,708 1180,720C1162,732 1137,750 1120,750C1103,750 1090,735 1080,720C1070,705 1070,680 1060,660C1050,640 1017,620 1020,600Z"/><path id="p80" d="M1090,820C1100,800 1122,777 1140,770C1158,763 1185,768 1200,780C1215,792 1227,817 1230,840C1233,863 1230,900 1220,920C1210,940 1188,955 1170,960C1152,965 1125,962 1110,950C1095,938 1083,912 1080,890C1077,868 1080,840 1090,820Z"/><path id="p81" d="M1000,980C1007,963 1037,947 1060,940C1083,933 1110,943 1140,940C1170,937 1210,923 1240,920C1270,917 1300,913 1320,920C1340,927 1353,942 1360,960C1367,978 1370,1012 1360,1030C1350,1048 1323,1062 1300,1070C1277,1078 1243,1082 1220,1080C1197,1078 1183,1065 1160,1060C1137,1055 1103,1053 1080,1050C1057,1047 1033,1052 1020,1040C1007,1028 993,997 1000,980Z"/><path id="p82" d="M1330,1060C1337,1047 1377,1042 1400,1040C1423,1038 1457,1040 1470,1050C1483,1060 1487,1087 1480,1100C1473,1113 1450,1127 1430,1130C1410,1133 1377,1132 1360,1120C1343,1108 1323,1073 1330,1060Z"/><path id="p83" d="M1270,1140C1282,1127 1305,1108 1330,1100C1355,1092 1395,1088 1420,1090C1445,1092 1468,1092 1480,1110C1492,1128 1492,1172 1490,1200C1488,1228 1472,1250 1470,1280C1468,1310 1485,1355 1480,1380C1475,1405 1457,1422 1440,1430C1423,1438 1397,1438 1380,1430C1363,1422 1350,1402 1340,1380C1330,1358 1330,1323 1320,1300C1310,1277 1290,1260 1280,1240C1270,1220 1262,1197 1260,1180C1258,1163 1258,1153 1270,1140Z"/><path id="p84" d="M1040,1120C1047,1100 1072,1085 1090,1080C1108,1075 1135,1082 1150,1090C1165,1098 1178,1112 1180,1130C1182,1148 1160,1175 1160,1200C1160,1225 1177,1253 1180,1280C1183,1307 1187,1338 1180,1360C1173,1382 1153,1398 1140,1410C1127,1422 1110,1433 1100,1430C1090,1427 1080,1405 1080,1390C1080,1375 1100,1360 1100,1340C1100,1320 1088,1293 1080,1270C1072,1247 1057,1225 1050,1200C1043,1175 1033,1140 1040,1120Z"/><path id="p85" d="M500,1200C507,1182 537,1177 560,1170C583,1163 617,1158 640,1160C663,1162 683,1170 700,1180C717,1190 730,1202 740,1220C750,1238 757,1267 760,1290C763,1313 767,1342 760,1360C753,1378 733,1387 720,1400C707,1413 697,1430 680,1440C663,1450 637,1463 620,1460C603,1457 590,1440 580,1420C570,1400 570,1363 560,1340C550,1317 530,1303 520,1280C510,1257 493,1218 500,1200Z"/><path id="p86" d="M880,1250C887,1232 920,1225 940,1220C960,1215 983,1212 1000,1220C1017,1228 1037,1252 1040,1270C1043,1288 1033,1318 1020,1330C1007,1342 980,1340 960,1340C940,1340 913,1345 900,1330C887,1315 873,1268 880,1250Z"/><path id="p87" d="M210,820C218,793 250,785 270,780C290,775 315,782 330,790C345,798 357,815 360,830C363,845 357,863 350,880C343,897 323,910 320,930C317,950 323,978 330,1000C337,1022 352,1040 360,1060C368,1080 383,1105 380,1120C377,1135 360,1143 340,1150C320,1157 283,1152 260,1160C237,1168 218,1183 200,1200C182,1217 163,1240 150,1260C137,1280 130,1313 120,1320C110,1327 95,1313 90,1300C85,1287 83,1260 90,1240C97,1220 112,1197 130,1180C148,1163 180,1153 200,1140C220,1127 243,1120 250,1100C257,1080 245,1047 240,1020C235,993 225,973 220,940C215,907 202,847 210,820Z"/><path id="p88" d="M220,1260C223,1245 257,1228 280,1220C303,1212 337,1208 360,1210C383,1212 407,1217 420,1230C433,1243 443,1273 440,1290C437,1307 420,1325 400,1330C380,1335 343,1323 320,1320C297,1317 277,1320 260,1310C243,1300 217,1275 220,1260Z"/><path id="p89" d="M560,1600C560,1582 570,1555 580,1540C590,1525 607,1522 620,1510C633,1498 647,1483 660,1470C673,1457 683,1442 700,1430C717,1418 740,1408 760,1400C780,1392 800,1382 820,1380C840,1378 863,1382 880,1390C897,1398 915,1412 920,1430C925,1448 920,1482 910,1500C900,1518 878,1530 860,1540C842,1550 820,1557 800,1560C780,1563 757,1552 740,1560C723,1568 717,1595 700,1610C683,1625 660,1643 640,1650C620,1657 593,1658 580,1650C567,1642 560,1618 560,1600Z"/><path id="p90" d="M560,230C567,217 593,200 620,190C647,180 690,175 720,170C750,165 773,165 800,160C827,155 860,152 880,140C900,128 903,103 920,90C937,77 960,62 980,60C1000,58 1027,67 1040,80C1053,93 1057,117 1060,140C1063,163 1063,197 1060,220C1057,243 1052,267 1040,280C1028,293 1005,305 990,300C975,295 965,260 950,250C935,240 915,245 900,240C885,235 878,217 860,220C842,223 808,247 790,260C772,273 755,280 750,300C745,320 762,357 760,380C758,403 750,425 740,440C730,455 712,473 700,470C688,467 678,442 670,420C662,398 658,363 650,340C642,317 632,292 620,280C608,268 590,278 580,270C570,262 553,243 560,230Z"/><path id="p91" d="M900,400C912,380 937,348 960,330C983,312 1015,297 1040,290C1065,283 1090,283 1110,290C1130,297 1153,312 1160,330C1167,348 1160,380 1150,400C1140,420 1115,430 1100,450C1085,470 1075,500 1060,520C1045,540 1027,563 1010,570C993,577 975,572 960,560C945,548 932,518 920,500C908,482 893,467 890,450C887,433 888,420 900,400Z"/><path id="p92" d="M320,330C327,315 353,303 370,300C387,297 405,300 420,310C435,320 450,342 460,360C470,378 478,400 480,420C482,440 480,470 470,480C460,490 437,485 420,480C403,475 385,465 370,450C355,435 338,410 330,390C322,370 313,345 320,330Z"/><path id="p93" d="M230,360C237,337 277,317 300,310C323,303 353,308 370,320C387,332 398,360 400,380C402,400 393,427 380,440C367,453 340,458 320,460C300,462 275,467 260,450C245,433 223,383 230,360Z"/><path id="p94" d="M930,260C932,242 963,230 980,230C997,230 1023,245 1030,260C1037,275 1030,307 1020,320C1010,333 985,350 970,340C955,330 928,278 930,260Z"/><path id="p95" d="M1030,320C1038,303 1068,283 1090,280C1112,277 1143,288 1160,300C1177,312 1190,333 1190,350C1190,367 1177,390 1160,400C1143,410 1110,413 1090,410C1070,407 1050,395 1040,380C1030,365 1022,337 1030,320Z"/><path id="p96" d="M1270,360C1277,340 1305,337 1320,340C1335,343 1355,363 1360,380C1365,397 1358,422 1350,440C1342,458 1322,487 1310,490C1298,493 1287,482 1280,460C1273,438 1263,380 1270,360Z"/><path id="p97" d="M90,920C97,900 127,887 150,880C173,873 205,870 230,880C255,890 287,915 300,940C313,965 312,1000 310,1030C308,1060 300,1088 290,1120C280,1152 268,1192 250,1220C232,1248 202,1277 180,1290C158,1303 133,1310 120,1300C107,1290 102,1253 100,1230C98,1207 105,1185 110,1160C115,1135 130,1107 130,1080C130,1053 117,1027 110,1000C103,973 83,940 90,920Z"/><path id="p98" d="M1100,740C1113,727 1147,717 1170,720C1193,723 1222,742 1240,760C1258,778 1275,807 1280,830C1285,853 1282,885 1270,900C1258,915 1232,917 1210,920C1188,923 1158,928 1140,920C1122,912 1108,890 1100,870C1092,850 1090,822 1090,800C1090,778 1087,753 1100,740Z"/><path id="p99" d="M220,1460C225,1443 260,1427 280,1420C300,1413 320,1417 340,1420C360,1423 380,1432 400,1440C420,1448 440,1460 460,1470C480,1480 507,1485 520,1500C533,1515 543,1543 540,1560C537,1577 517,1593 500,1600C483,1607 460,1607 440,1600C420,1593 398,1572 380,1560C362,1548 352,1537 330,1530C308,1523 268,1532 250,1520C232,1508 215,1477 220,1460Z"/><path id="p100" d="M520,190C527,177 553,162 570,160C587,158 612,168 620,180C628,192 627,217 620,230C613,243 595,258 580,260C565,262 540,252 530,240C520,228 513,203 520,190Z"/><path id="p101" d="M770,280C768,265 808,247 830,240C852,233 878,237 900,240C922,243 945,248 960,260C975,272 990,295 990,310C990,325 975,345 960,350C945,355 920,343 900,340C880,337 862,340 840,330C818,320 772,295 770,280Z"/><path id="p102" d="M170,480C183,465 208,452 230,450C252,448 278,468 300,470C322,472 340,468 360,460C380,452 400,430 420,420C440,410 462,400 480,400C498,400 523,407 530,420C537,433 530,463 520,480C510,497 490,508 470,520C450,532 423,540 400,550C377,560 348,568 330,580C312,592 305,607 290,620C275,633 258,652 240,660C222,668 195,678 180,670C165,662 155,632 150,610C145,588 147,562 150,540C153,518 157,495 170,480Z"/><path id="p103" d="M800,560C807,543 837,530 860,520C883,510 917,510 940,500C963,490 980,473 1000,460C1020,447 1040,433 1060,420C1080,407 1097,390 1120,380C1143,370 1177,357 1200,360C1223,363 1247,380 1260,400C1273,420 1280,453 1280,480C1280,507 1267,537 1260,560C1253,583 1250,600 1240,620C1230,640 1217,663 1200,680C1183,697 1160,717 1140,720C1120,723 1100,710 1080,700C1060,690 1043,670 1020,660C997,650 963,643 940,640C917,637 900,643 880,640C860,637 833,633 820,620C807,607 793,577 800,560Z"/><path id="p104" d="M540,260C553,243 590,230 620,220C650,210 690,208 720,200C750,192 780,170 800,170C820,170 837,187 840,200C843,213 837,235 820,250C803,265 767,277 740,290C713,303 677,315 660,330C643,345 640,362 640,380C640,398 650,420 660,440C670,460 683,480 700,500C717,520 750,540 760,560C770,580 770,605 760,620C750,635 720,650 700,650C680,650 657,635 640,620C623,605 610,583 600,560C590,537 587,507 580,480C573,453 567,427 560,400C553,373 543,343 540,320C537,297 527,277 540,260Z"/><path id="p105" d="M720,200C720,178 773,140 800,120C827,100 857,82 880,80C903,78 927,97 940,110C953,123 963,143 960,160C957,177 937,198 920,210C903,222 880,223 860,230C840,237 823,255 800,250C777,245 720,222 720,200Z"/><path id="p106" d="M740,400C750,380 777,352 800,340C823,328 853,327 880,330C907,333 942,348 960,360C978,372 990,385 990,400C990,415 977,438 960,450C943,462 912,463 890,470C868,477 848,485 830,490C812,495 795,505 780,500C765,495 747,477 740,460C733,443 730,420 740,400Z"/><path id="p107" d="M300,180C308,158 338,130 360,120C382,110 410,112 430,120C450,128 468,150 480,170C492,190 502,215 500,240C498,265 480,295 470,320C460,345 452,382 440,390C428,398 413,385 400,370C387,355 375,320 360,300C345,280 320,270 310,250C300,230 292,202 300,180Z"/><path id="p108" d="M80,580C85,562 107,545 120,540C133,535 152,537 160,550C168,563 173,602 170,620C167,638 153,655 140,660C127,665 100,663 90,650C80,637 75,598 80,580Z"/><path id="p109" d="M120,740C127,723 150,708 170,700C190,692 218,697 240,690C262,683 277,668 300,660C323,652 353,650 380,640C407,630 437,608 460,600C483,592 500,587 520,590C540,593 568,602 580,620C592,638 593,677 590,700C587,723 572,737 560,760C548,783 530,817 520,840C510,863 510,885 500,900C490,915 477,923 460,930C443,937 420,937 400,940C380,943 360,953 340,950C320,947 298,933 280,920C262,907 248,885 230,870C212,855 187,842 170,830C153,818 138,815 130,800C122,785 113,757 120,740Z"/><path id="p110" d="M880,680C892,667 920,657 940,660C960,663 987,682 1000,700C1013,718 1015,743 1020,770C1025,797 1032,833 1030,860C1028,887 1018,910 1010,930C1002,950 992,975 980,980C968,985 953,973 940,960C927,947 910,923 900,900C890,877 885,847 880,820C875,793 870,763 870,740C870,717 868,693 880,680Z"/><path id="p111" d="M980,700C987,677 1020,677 1040,680C1060,683 1087,700 1100,720C1113,740 1120,773 1120,800C1120,827 1107,853 1100,880C1093,907 1080,933 1080,960C1080,987 1087,1017 1100,1040C1113,1063 1142,1082 1160,1100C1178,1118 1200,1130 1210,1150C1220,1170 1225,1197 1220,1220C1215,1243 1197,1273 1180,1290C1163,1307 1140,1318 1120,1320C1100,1322 1078,1313 1060,1300C1042,1287 1023,1263 1010,1240C997,1217 982,1187 980,1160C978,1133 995,1107 1000,1080C1005,1053 1007,1030 1010,1000C1013,970 1022,930 1020,900C1018,870 1007,853 1000,820C993,787 973,723 980,700Z"/><path id="p112" d="M720,680C727,660 760,658 780,660C800,662 827,673 840,690C853,707 853,735 860,760C867,785 873,817 880,840C887,863 890,880 900,900C910,920 930,940 940,960C950,980 957,998 960,1020C963,1042 967,1070 960,1090C953,1110 937,1128 920,1140C903,1152 880,1153 860,1160C840,1167 817,1173 800,1180C783,1187 773,1200 760,1200C747,1200 730,1193 720,1180C710,1167 700,1140 700,1120C700,1100 717,1083 720,1060C723,1037 717,1003 720,980C723,957 733,942 740,920C747,898 760,873 760,850C760,827 747,808 740,780C733,752 713,700 720,680Z"/><path id="p113" d="M610,720C618,700 632,680 650,670C668,660 698,653 720,660C742,667 766,688 780,710C794,732 802,762 805,790C808,818 806,853 800,880C794,907 785,934 770,950C755,966 730,977 710,975C690,973 667,958 650,940C633,922 618,895 610,870C602,845 600,815 600,790C600,765 602,740 610,720Z"/><path id="p114" d="M1200,640C1207,622 1230,600 1250,580C1270,560 1302,538 1320,520C1338,502 1343,483 1360,470C1377,457 1400,442 1420,440C1440,438 1467,447 1480,460C1493,473 1503,500 1500,520C1497,540 1477,563 1460,580C1443,597 1415,603 1400,620C1385,637 1383,662 1370,680C1357,698 1340,723 1320,730C1300,737 1268,727 1250,720C1232,713 1218,703 1210,690C1202,677 1193,658 1200,640Z"/><path id="p115" d="M1090,960C1103,943 1132,928 1160,920C1188,912 1232,908 1260,910C1288,912 1313,917 1330,930C1347,943 1360,968 1360,990C1360,1012 1347,1042 1330,1060C1313,1078 1285,1092 1260,1100C1235,1108 1205,1112 1180,1110C1155,1108 1127,1105 1110,1090C1093,1075 1083,1042 1080,1020C1077,998 1077,977 1090,960Z"/><path id="p116" d="M250,1000C257,985 278,975 300,970C322,965 353,968 380,970C407,972 437,975 460,980C483,985 505,990 520,1000C535,1010 550,1027 550,1040C550,1053 535,1070 520,1080C505,1090 477,1088 460,1100C443,1112 423,1125 420,1150C417,1175 430,1222 440,1250C450,1278 472,1298 480,1320C488,1342 495,1363 490,1380C485,1397 465,1417 450,1420C435,1423 413,1415 400,1400C387,1385 380,1355 370,1330C360,1305 343,1278 340,1250C337,1222 355,1185 350,1160C345,1135 325,1117 310,1100C295,1083 270,1077 260,1060C250,1043 243,1015 250,1000Z"/><path id="p117" d="M330,1100C333,1090 357,1087 370,1090C383,1093 405,1110 410,1120C415,1130 410,1145 400,1150C390,1155 362,1158 350,1150C338,1142 327,1110 330,1100Z"/><path id="p118" d="M560,1110C567,1093 585,1078 600,1070C615,1062 633,1060 650,1060C667,1060 688,1060 700,1070C712,1080 720,1103 720,1120C720,1137 710,1157 700,1170C690,1183 677,1195 660,1200C643,1205 617,1205 600,1200C583,1195 567,1185 560,1170C553,1155 553,1127 560,1110Z"/><path id="p119" d="M630,1160C640,1150 682,1143 700,1150C718,1157 732,1182 740,1200C748,1218 753,1240 750,1260C747,1280 732,1310 720,1320C708,1330 692,1328 680,1320C668,1312 657,1288 650,1270C643,1252 643,1228 640,1210C637,1192 620,1170 630,1160Z"/><path id="p120" d="M460,1260C468,1242 497,1225 520,1220C543,1215 578,1220 600,1230C622,1240 640,1258 650,1280C660,1302 665,1340 660,1360C655,1380 637,1393 620,1400C603,1407 580,1403 560,1400C540,1397 515,1392 500,1380C485,1368 477,1350 470,1330C463,1310 452,1278 460,1260Z"/><path id="p121" d="M800,1240C810,1220 838,1205 860,1200C882,1195 912,1200 930,1210C948,1220 958,1245 970,1260C982,1275 992,1283 1000,1300C1008,1317 1020,1338 1020,1360C1020,1382 1013,1413 1000,1430C987,1447 960,1458 940,1460C920,1462 900,1450 880,1440C860,1430 833,1420 820,1400C807,1380 803,1347 800,1320C797,1293 790,1260 800,1240Z"/><path id="p122" d="M580,1420C587,1400 620,1360 640,1340C660,1320 680,1310 700,1300C720,1290 743,1280 760,1280C777,1280 793,1283 800,1300C807,1317 802,1357 800,1380C798,1403 797,1423 790,1440C783,1457 775,1472 760,1480C745,1488 720,1490 700,1490C680,1490 657,1485 640,1480C623,1475 610,1470 600,1460C590,1450 573,1440 580,1420Z"/><path id="p123" d="M200,1300C205,1282 233,1265 250,1260C267,1255 288,1260 300,1270C312,1280 318,1300 320,1320C322,1340 308,1368 310,1390C312,1412 325,1432 330,1450C335,1468 345,1488 340,1500C335,1512 312,1523 300,1520C288,1517 278,1497 270,1480C262,1463 258,1438 250,1420C242,1402 228,1390 220,1370C212,1350 195,1318 200,1300Z"/><path id="p124" d="M900,1480C908,1463 940,1467 960,1460C980,1453 1003,1437 1020,1440C1037,1443 1043,1470 1060,1480C1077,1490 1103,1490 1120,1500C1137,1510 1153,1523 1160,1540C1167,1557 1170,1583 1160,1600C1150,1617 1123,1635 1100,1640C1077,1645 1043,1637 1020,1630C997,1623 978,1612 960,1600C942,1588 920,1580 910,1560C900,1540 892,1497 900,1480Z"/></defs>
<g transform="translate(1095,105) scale(0.22116)" filter="url(#soft)" stroke-linejoin="round">
<path d="M506,287C563,264 630,233 711,231C791,230 897,275 990,278C1083,281 1194,261 1269,250C1343,239 1393,197 1436,213C1479,228 1510,275 1529,343C1548,411 1551,521 1548,622C1545,723 1537,862 1510,948C1484,1033 1414,1059 1390,1134C1365,1208 1393,1334 1362,1394C1331,1454 1258,1471 1204,1496C1149,1521 1075,1524 1036,1543C997,1561 1035,1597 971,1608C907,1619 732,1606 655,1608C577,1609 543,1633 506,1617C469,1602 460,1554 432,1515C404,1476 365,1448 339,1385C312,1321 301,1214 274,1134C246,1053 173,965 171,901C170,838 247,817 264,752C281,687 256,574 274,510C291,447 328,408 367,371C405,334 449,311 506,287Z" fill="#3e3f3b"/>
<use href="#p1" fill="#151515" stroke="#151515" stroke-opacity="0.7" stroke-width="30"/>
<use href="#p1" fill="#545651" stroke="#545651" stroke-width="20"/>
<mask id="m1" maskUnits="userSpaceOnUse" x="-200" y="-200" width="2200" height="2200"><use href="#p1" fill="#fff" stroke="#fff" stroke-width="20"/></mask>
<use href="#p1" mask="url(#m1)" fill="none" stroke="#000" stroke-opacity="0.42" stroke-width="40" filter="url(#ish)"/>
<use href="#p2" fill="#151515" stroke="#151515" stroke-opacity="0.7" stroke-width="30"/>
<use href="#p2" fill="#545651" stroke="#545651" stroke-width="20"/>
<mask id="m2" maskUnits="userSpaceOnUse" x="-200" y="-200" width="2200" height="2200"><use href="#p2" fill="#fff" stroke="#fff" stroke-width="20"/></mask>
<use href="#p2" mask="url(#m2)" fill="none" stroke="#000" stroke-opacity="0.42" stroke-width="40" filter="url(#ish)"/>
<use href="#p3" fill="#151515" stroke="#151515" stroke-opacity="0.7" stroke-width="30"/>
<use href="#p3" fill="#545651" stroke="#545651" stroke-width="20"/>
<mask id="m3" maskUnits="userSpaceOnUse" x="-200" y="-200" width="2200" height="2200"><use href="#p3" fill="#fff" stroke="#fff" stroke-width="20"/></mask>
<use href="#p3" mask="url(#m3)" fill="none" stroke="#000" stroke-opacity="0.42" stroke-width="40" filter="url(#ish)"/>
<use href="#p4" fill="#151515" stroke="#151515" stroke-opacity="0.7" stroke-width="30"/>
<use href="#p4" fill="#545651" stroke="#545651" stroke-width="20"/>
<mask id="m4" maskUnits="userSpaceOnUse" x="-200" y="-200" width="2200" height="2200"><use href="#p4" fill="#fff" stroke="#fff" stroke-width="20"/></mask>
<use href="#p4" mask="url(#m4)" fill="none" stroke="#000" stroke-opacity="0.42" stroke-width="40" filter="url(#ish)"/>
<use href="#p5" fill="#151515" stroke="#151515" stroke-opacity="0.7" stroke-width="30"/>
<use href="#p5" fill="#545651" stroke="#545651" stroke-width="20"/>
<mask id="m5" maskUnits="userSpaceOnUse" x="-200" y="-200" width="2200" height="2200"><use href="#p5" fill="#fff" stroke="#fff" stroke-width="20"/></mask>
<use href="#p5" mask="url(#m5)" fill="none" stroke="#000" stroke-opacity="0.42" stroke-width="40" filter="url(#ish)"/>
<use href="#p6" fill="#151515" stroke="#151515" stroke-opacity="0.7" stroke-width="30"/>
<use href="#p6" fill="#545651" stroke="#545651" stroke-width="20"/>
<mask id="m6" maskUnits="userSpaceOnUse" x="-200" y="-200" width="2200" height="2200"><use href="#p6" fill="#fff" stroke="#fff" stroke-width="20"/></mask>
<use href="#p6" mask="url(#m6)" fill="none" stroke="#000" stroke-opacity="0.42" stroke-width="40" filter="url(#ish)"/>
<use href="#p7" fill="#151515" stroke="#151515" stroke-opacity="0.7" stroke-width="30"/>
<use href="#p7" fill="#545651" stroke="#545651" stroke-width="20"/>
<mask id="m7" maskUnits="userSpaceOnUse" x="-200" y="-200" width="2200" height="2200"><use href="#p7" fill="#fff" stroke="#fff" stroke-width="20"/></mask>
<use href="#p7" mask="url(#m7)" fill="none" stroke="#000" stroke-opacity="0.42" stroke-width="40" filter="url(#ish)"/>
<use href="#p8" fill="#151515" stroke="#151515" stroke-opacity="0.7" stroke-width="30"/>
<use href="#p8" fill="#545651" stroke="#545651" stroke-width="20"/>
<mask id="m8" maskUnits="userSpaceOnUse" x="-200" y="-200" width="2200" height="2200"><use href="#p8" fill="#fff" stroke="#fff" stroke-width="20"/></mask>
<use href="#p8" mask="url(#m8)" fill="none" stroke="#000" stroke-opacity="0.42" stroke-width="40" filter="url(#ish)"/>
<use href="#p9" fill="#151515" stroke="#151515" stroke-opacity="0.7" stroke-width="30"/>
<use href="#p9" fill="#545651" stroke="#545651" stroke-width="20"/>
<mask id="m9" maskUnits="userSpaceOnUse" x="-200" y="-200" width="2200" height="2200"><use href="#p9" fill="#fff" stroke="#fff" stroke-width="20"/></mask>
<use href="#p9" mask="url(#m9)" fill="none" stroke="#000" stroke-opacity="0.42" stroke-width="40" filter="url(#ish)"/>
<path d="M500,700C515,667 570,660 600,660C630,660 663,677 680,700C697,723 700,767 700,800C700,833 693,873 680,900C667,927 642,953 620,960C598,967 568,957 550,940C532,923 518,900 510,860C502,820 485,733 500,700Z" fill="#7a0a04" stroke="#7a0a04" stroke-width="20" stroke-linejoin="round"/>
<use href="#p10" fill="#151515" stroke="#151515" stroke-opacity="0.7" stroke-width="30"/>
<use href="#p10" fill="#fa1e0c" stroke="#fa1e0c" stroke-width="20"/>
<mask id="m10" maskUnits="userSpaceOnUse" x="-200" y="-200" width="2200" height="2200"><use href="#p10" fill="#fff" stroke="#fff" stroke-width="20"/></mask>
<use href="#p10" mask="url(#m10)" fill="none" stroke="#000" stroke-opacity="0.42" stroke-width="40" filter="url(#ish)"/>
<use href="#p11" fill="#151515" stroke="#151515" stroke-opacity="0.7" stroke-width="30"/>
<use href="#p11" fill="#fa1e0c" stroke="#fa1e0c" stroke-width="20"/>
<mask id="m11" maskUnits="userSpaceOnUse" x="-200" y="-200" width="2200" height="2200"><use href="#p11" fill="#fff" stroke="#fff" stroke-width="20"/></mask>
<use href="#p11" mask="url(#m11)" fill="none" stroke="#000" stroke-opacity="0.42" stroke-width="40" filter="url(#ish)"/>
<use href="#p12" fill="#151515" stroke="#151515" stroke-opacity="0.7" stroke-width="30"/>
<use href="#p12" fill="#fa1e0c" stroke="#fa1e0c" stroke-width="20"/>
<mask id="m12" maskUnits="userSpaceOnUse" x="-200" y="-200" width="2200" height="2200"><use href="#p12" fill="#fff" stroke="#fff" stroke-width="20"/></mask>
<use href="#p12" mask="url(#m12)" fill="none" stroke="#000" stroke-opacity="0.42" stroke-width="40" filter="url(#ish)"/>
<use href="#p13" fill="#151515" stroke="#151515" stroke-opacity="0.7" stroke-width="30"/>
<use href="#p13" fill="#fa1e0c" stroke="#fa1e0c" stroke-width="20"/>
<mask id="m13" maskUnits="userSpaceOnUse" x="-200" y="-200" width="2200" height="2200"><use href="#p13" fill="#fff" stroke="#fff" stroke-width="20"/></mask>
<use href="#p13" mask="url(#m13)" fill="none" stroke="#000" stroke-opacity="0.42" stroke-width="40" filter="url(#ish)"/>
<use href="#p14" fill="#151515" stroke="#151515" stroke-opacity="0.7" stroke-width="30"/>
<use href="#p14" fill="#fa1e0c" stroke="#fa1e0c" stroke-width="20"/>
<mask id="m14" maskUnits="userSpaceOnUse" x="-200" y="-200" width="2200" height="2200"><use href="#p14" fill="#fff" stroke="#fff" stroke-width="20"/></mask>
<use href="#p14" mask="url(#m14)" fill="none" stroke="#000" stroke-opacity="0.42" stroke-width="40" filter="url(#ish)"/>
<use href="#p15" fill="#151515" stroke="#151515" stroke-opacity="0.7" stroke-width="30"/>
<use href="#p15" fill="#545651" stroke="#545651" stroke-width="20"/>
<mask id="m15" maskUnits="userSpaceOnUse" x="-200" y="-200" width="2200" height="2200"><use href="#p15" fill="#fff" stroke="#fff" stroke-width="20"/></mask>
<use href="#p15" mask="url(#m15)" fill="none" stroke="#000" stroke-opacity="0.42" stroke-width="40" filter="url(#ish)"/>
<use href="#p16" fill="#151515" stroke="#151515" stroke-opacity="0.7" stroke-width="30"/>
<use href="#p16" fill="#1e06f5" stroke="#1e06f5" stroke-width="20"/>
<mask id="m16" maskUnits="userSpaceOnUse" x="-200" y="-200" width="2200" height="2200"><use href="#p16" fill="#fff" stroke="#fff" stroke-width="20"/></mask>
<use href="#p16" mask="url(#m16)" fill="none" stroke="#000" stroke-opacity="0.42" stroke-width="40" filter="url(#ish)"/>
<ellipse cx="1090" cy="430" rx="45" ry="28" fill="#0a0070"/>
<use href="#p17" fill="#151515" stroke="#151515" stroke-opacity="0.7" stroke-width="30"/>
<use href="#p17" fill="#1e06f5" stroke="#1e06f5" stroke-width="20"/>
<mask id="m17" maskUnits="userSpaceOnUse" x="-200" y="-200" width="2200" height="2200"><use href="#p17" fill="#fff" stroke="#fff" stroke-width="20"/></mask>
<use href="#p17" mask="url(#m17)" fill="none" stroke="#000" stroke-opacity="0.42" stroke-width="40" filter="url(#ish)"/>
<use href="#p18" fill="#151515" stroke="#151515" stroke-opacity="0.7" stroke-width="30"/>
<use href="#p18" fill="#1e06f5" stroke="#1e06f5" stroke-width="20"/>
<mask id="m18" maskUnits="userSpaceOnUse" x="-200" y="-200" width="2200" height="2200"><use href="#p18" fill="#fff" stroke="#fff" stroke-width="20"/></mask>
<use href="#p18" mask="url(#m18)" fill="none" stroke="#000" stroke-opacity="0.42" stroke-width="40" filter="url(#ish)"/>
<use href="#p19" fill="#151515" stroke="#151515" stroke-opacity="0.7" stroke-width="30"/>
<use href="#p19" fill="#1e06f5" stroke="#1e06f5" stroke-width="20"/>
<mask id="m19" maskUnits="userSpaceOnUse" x="-200" y="-200" width="2200" height="2200"><use href="#p19" fill="#fff" stroke="#fff" stroke-width="20"/></mask>
<use href="#p19" mask="url(#m19)" fill="none" stroke="#000" stroke-opacity="0.42" stroke-width="40" filter="url(#ish)"/>
<use href="#p20" fill="#151515" stroke="#151515" stroke-opacity="0.7" stroke-width="30"/>
<use href="#p20" fill="#d9e83a" stroke="#d9e83a" stroke-width="20"/>
<mask id="m20" maskUnits="userSpaceOnUse" x="-200" y="-200" width="2200" height="2200"><use href="#p20" fill="#fff" stroke="#fff" stroke-width="20"/></mask>
<use href="#p20" mask="url(#m20)" fill="none" stroke="#000" stroke-opacity="0.42" stroke-width="40" filter="url(#ish)"/>
<use href="#p21" fill="#151515" stroke="#151515" stroke-opacity="0.7" stroke-width="30"/>
<use href="#p21" fill="#d9e83a" stroke="#d9e83a" stroke-width="20"/>
<mask id="m21" maskUnits="userSpaceOnUse" x="-200" y="-200" width="2200" height="2200"><use href="#p21" fill="#fff" stroke="#fff" stroke-width="20"/></mask>
<use href="#p21" mask="url(#m21)" fill="none" stroke="#000" stroke-opacity="0.42" stroke-width="40" filter="url(#ish)"/>
<use href="#p22" fill="#151515" stroke="#151515" stroke-opacity="0.7" stroke-width="30"/>
<use href="#p22" fill="#d9e83a" stroke="#d9e83a" stroke-width="20"/>
<mask id="m22" maskUnits="userSpaceOnUse" x="-200" y="-200" width="2200" height="2200"><use href="#p22" fill="#fff" stroke="#fff" stroke-width="20"/></mask>
<use href="#p22" mask="url(#m22)" fill="none" stroke="#000" stroke-opacity="0.42" stroke-width="40" filter="url(#ish)"/>
<use href="#p23" fill="#151515" stroke="#151515" stroke-opacity="0.7" stroke-width="30"/>
<use href="#p23" fill="#d9e83a" stroke="#d9e83a" stroke-width="20"/>
<mask id="m23" maskUnits="userSpaceOnUse" x="-200" y="-200" width="2200" height="2200"><use href="#p23" fill="#fff" stroke="#fff" stroke-width="20"/></mask>
<use href="#p23" mask="url(#m23)" fill="none" stroke="#000" stroke-opacity="0.42" stroke-width="40" filter="url(#ish)"/>
<use href="#p24" fill="#151515" stroke="#151515" stroke-opacity="0.7" stroke-width="30"/>
<use href="#p24" fill="#d9e83a" stroke="#d9e83a" stroke-width="20"/>
<mask id="m24" maskUnits="userSpaceOnUse" x="-200" y="-200" width="2200" height="2200"><use href="#p24" fill="#fff" stroke="#fff" stroke-width="20"/></mask>
<use href="#p24" mask="url(#m24)" fill="none" stroke="#000" stroke-opacity="0.42" stroke-width="40" filter="url(#ish)"/>
<use href="#p25" fill="#151515" stroke="#151515" stroke-opacity="0.7" stroke-width="30"/>
<use href="#p25" fill="#d9e83a" stroke="#d9e83a" stroke-width="20"/>
<mask id="m25" maskUnits="userSpaceOnUse" x="-200" y="-200" width="2200" height="2200"><use href="#p25" fill="#fff" stroke="#fff" stroke-width="20"/></mask>
<use href="#p25" mask="url(#m25)" fill="none" stroke="#000" stroke-opacity="0.42" stroke-width="40" filter="url(#ish)"/>
<use href="#p26" fill="#151515" stroke="#151515" stroke-opacity="0.7" stroke-width="30"/>
<use href="#p26" fill="#d9e83a" stroke="#d9e83a" stroke-width="20"/>
<mask id="m26" maskUnits="userSpaceOnUse" x="-200" y="-200" width="2200" height="2200"><use href="#p26" fill="#fff" stroke="#fff" stroke-width="20"/></mask>
<use href="#p26" mask="url(#m26)" fill="none" stroke="#000" stroke-opacity="0.42" stroke-width="40" filter="url(#ish)"/>
</g>
<g transform="translate(1515,115) scale(0.21557)" filter="url(#soft)" stroke-linejoin="round">
<path d="M119,313C134,268 185,150 221,127C257,104 309,146 333,174C356,202 342,279 361,295C379,310 409,274 444,267C480,259 537,257 575,248C612,239 621,222 668,211C714,200 807,180 854,183C900,186 919,212 947,230C974,247 1002,261 1021,285C1040,310 1040,366 1058,378C1077,391 1105,358 1133,360C1160,361 1210,372 1226,388C1241,403 1213,440 1226,453C1238,465 1278,453 1300,462C1322,471 1332,482 1356,509C1379,535 1435,586 1439,620C1444,654 1398,679 1384,713C1370,747 1342,806 1356,825C1370,843 1433,815 1467,825C1501,834 1546,859 1560,881C1574,902 1563,933 1551,955C1539,977 1498,980 1486,1011C1474,1042 1492,1118 1477,1141C1461,1164 1429,1147 1393,1150C1357,1153 1294,1139 1263,1160C1232,1180 1227,1234 1207,1271C1187,1308 1154,1352 1142,1383C1129,1414 1150,1435 1133,1457C1115,1479 1067,1510 1040,1513C1012,1516 990,1488 965,1476C940,1463 919,1445 891,1439C863,1432 829,1435 798,1439C767,1442 717,1442 705,1457C692,1473 730,1507 723,1532C717,1556 692,1590 668,1606C643,1621 609,1628 575,1625C540,1621 500,1606 463,1587C426,1569 382,1535 351,1513C320,1491 292,1476 277,1457C261,1439 280,1411 258,1401C237,1392 167,1412 147,1401C127,1390 136,1366 137,1336C139,1307 150,1253 156,1225C162,1197 151,1192 175,1169C198,1146 277,1121 296,1085C314,1049 283,992 286,955C289,918 327,899 314,862C302,825 241,775 212,732C182,688 151,642 137,602C123,561 127,513 128,490C130,467 147,478 147,462C147,447 133,422 128,397C123,372 103,358 119,313Z" fill="#3e3f3b"/>
<use href="#p27" fill="#151515" stroke="#151515" stroke-opacity="0.7" stroke-width="30"/>
<use href="#p27" fill="#545651" stroke="#545651" stroke-width="20"/>
<mask id="m27" maskUnits="userSpaceOnUse" x="-200" y="-200" width="2200" height="2200"><use href="#p27" fill="#fff" stroke="#fff" stroke-width="20"/></mask>
<use href="#p27" mask="url(#m27)" fill="none" stroke="#000" stroke-opacity="0.42" stroke-width="40" filter="url(#ish)"/>
<use href="#p28" fill="#151515" stroke="#151515" stroke-opacity="0.7" stroke-width="30"/>
<use href="#p28" fill="#545651" stroke="#545651" stroke-width="20"/>
<mask id="m28" maskUnits="userSpaceOnUse" x="-200" y="-200" width="2200" height="2200"><use href="#p28" fill="#fff" stroke="#fff" stroke-width="20"/></mask>
<use href="#p28" mask="url(#m28)" fill="none" stroke="#000" stroke-opacity="0.42" stroke-width="40" filter="url(#ish)"/>
<use href="#p29" fill="#151515" stroke="#151515" stroke-opacity="0.7" stroke-width="30"/>
<use href="#p29" fill="#545651" stroke="#545651" stroke-width="20"/>
<mask id="m29" maskUnits="userSpaceOnUse" x="-200" y="-200" width="2200" height="2200"><use href="#p29" fill="#fff" stroke="#fff" stroke-width="20"/></mask>
<use href="#p29" mask="url(#m29)" fill="none" stroke="#000" stroke-opacity="0.42" stroke-width="40" filter="url(#ish)"/>
<use href="#p30" fill="#151515" stroke="#151515" stroke-opacity="0.7" stroke-width="30"/>
<use href="#p30" fill="#545651" stroke="#545651" stroke-width="20"/>
<mask id="m30" maskUnits="userSpaceOnUse" x="-200" y="-200" width="2200" height="2200"><use href="#p30" fill="#fff" stroke="#fff" stroke-width="20"/></mask>
<use href="#p30" mask="url(#m30)" fill="none" stroke="#000" stroke-opacity="0.42" stroke-width="40" filter="url(#ish)"/>
<use href="#p31" fill="#151515" stroke="#151515" stroke-opacity="0.7" stroke-width="30"/>
<use href="#p31" fill="#545651" stroke="#545651" stroke-width="20"/>
<mask id="m31" maskUnits="userSpaceOnUse" x="-200" y="-200" width="2200" height="2200"><use href="#p31" fill="#fff" stroke="#fff" stroke-width="20"/></mask>
<use href="#p31" mask="url(#m31)" fill="none" stroke="#000" stroke-opacity="0.42" stroke-width="40" filter="url(#ish)"/>
<use href="#p32" fill="#151515" stroke="#151515" stroke-opacity="0.7" stroke-width="30"/>
<use href="#p32" fill="#545651" stroke="#545651" stroke-width="20"/>
<mask id="m32" maskUnits="userSpaceOnUse" x="-200" y="-200" width="2200" height="2200"><use href="#p32" fill="#fff" stroke="#fff" stroke-width="20"/></mask>
<use href="#p32" mask="url(#m32)" fill="none" stroke="#000" stroke-opacity="0.42" stroke-width="40" filter="url(#ish)"/>
<use href="#p33" fill="#151515" stroke="#151515" stroke-opacity="0.7" stroke-width="30"/>
<use href="#p33" fill="#545651" stroke="#545651" stroke-width="20"/>
<mask id="m33" maskUnits="userSpaceOnUse" x="-200" y="-200" width="2200" height="2200"><use href="#p33" fill="#fff" stroke="#fff" stroke-width="20"/></mask>
<use href="#p33" mask="url(#m33)" fill="none" stroke="#000" stroke-opacity="0.42" stroke-width="40" filter="url(#ish)"/>
<use href="#p34" fill="#151515" stroke="#151515" stroke-opacity="0.7" stroke-width="30"/>
<use href="#p34" fill="#545651" stroke="#545651" stroke-width="20"/>
<mask id="m34" maskUnits="userSpaceOnUse" x="-200" y="-200" width="2200" height="2200"><use href="#p34" fill="#fff" stroke="#fff" stroke-width="20"/></mask>
<use href="#p34" mask="url(#m34)" fill="none" stroke="#000" stroke-opacity="0.42" stroke-width="40" filter="url(#ish)"/>
<use href="#p35" fill="#151515" stroke="#151515" stroke-opacity="0.7" stroke-width="30"/>
<use href="#p35" fill="#545651" stroke="#545651" stroke-width="20"/>
<mask id="m35" maskUnits="userSpaceOnUse" x="-200" y="-200" width="2200" height="2200"><use href="#p35" fill="#fff" stroke="#fff" stroke-width="20"/></mask>
<use href="#p35" mask="url(#m35)" fill="none" stroke="#000" stroke-opacity="0.42" stroke-width="40" filter="url(#ish)"/>
<use href="#p36" fill="#151515" stroke="#151515" stroke-opacity="0.7" stroke-width="30"/>
<use href="#p36" fill="#545651" stroke="#545651" stroke-width="20"/>
<mask id="m36" maskUnits="userSpaceOnUse" x="-200" y="-200" width="2200" height="2200"><use href="#p36" fill="#fff" stroke="#fff" stroke-width="20"/></mask>
<use href="#p36" mask="url(#m36)" fill="none" stroke="#000" stroke-opacity="0.42" stroke-width="40" filter="url(#ish)"/>
<use href="#p37" fill="#151515" stroke="#151515" stroke-opacity="0.7" stroke-width="30"/>
<use href="#p37" fill="#545651" stroke="#545651" stroke-width="20"/>
<mask id="m37" maskUnits="userSpaceOnUse" x="-200" y="-200" width="2200" height="2200"><use href="#p37" fill="#fff" stroke="#fff" stroke-width="20"/></mask>
<use href="#p37" mask="url(#m37)" fill="none" stroke="#000" stroke-opacity="0.42" stroke-width="40" filter="url(#ish)"/>
<use href="#p38" fill="#151515" stroke="#151515" stroke-opacity="0.7" stroke-width="30"/>
<use href="#p38" fill="#fa1e0c" stroke="#fa1e0c" stroke-width="20"/>
<mask id="m38" maskUnits="userSpaceOnUse" x="-200" y="-200" width="2200" height="2200"><use href="#p38" fill="#fff" stroke="#fff" stroke-width="20"/></mask>
<use href="#p38" mask="url(#m38)" fill="none" stroke="#000" stroke-opacity="0.42" stroke-width="40" filter="url(#ish)"/>
<use href="#p39" fill="#151515" stroke="#151515" stroke-opacity="0.7" stroke-width="30"/>
<use href="#p39" fill="#fa1e0c" stroke="#fa1e0c" stroke-width="20"/>
<mask id="m39" maskUnits="userSpaceOnUse" x="-200" y="-200" width="2200" height="2200"><use href="#p39" fill="#fff" stroke="#fff" stroke-width="20"/></mask>
<use href="#p39" mask="url(#m39)" fill="none" stroke="#000" stroke-opacity="0.42" stroke-width="40" filter="url(#ish)"/>
<use href="#p40" fill="#151515" stroke="#151515" stroke-opacity="0.7" stroke-width="30"/>
<use href="#p40" fill="#fa1e0c" stroke="#fa1e0c" stroke-width="20"/>
<mask id="m40" maskUnits="userSpaceOnUse" x="-200" y="-200" width="2200" height="2200"><use href="#p40" fill="#fff" stroke="#fff" stroke-width="20"/></mask>
<use href="#p40" mask="url(#m40)" fill="none" stroke="#000" stroke-opacity="0.42" stroke-width="40" filter="url(#ish)"/>
<use href="#p41" fill="#151515" stroke="#151515" stroke-opacity="0.7" stroke-width="30"/>
<use href="#p41" fill="#fa1e0c" stroke="#fa1e0c" stroke-width="20"/>
<mask id="m41" maskUnits="userSpaceOnUse" x="-200" y="-200" width="2200" height="2200"><use href="#p41" fill="#fff" stroke="#fff" stroke-width="20"/></mask>
<use href="#p41" mask="url(#m41)" fill="none" stroke="#000" stroke-opacity="0.42" stroke-width="40" filter="url(#ish)"/>
<use href="#p42" fill="#151515" stroke="#151515" stroke-opacity="0.7" stroke-width="30"/>
<use href="#p42" fill="#fa1e0c" stroke="#fa1e0c" stroke-width="20"/>
<mask id="m42" maskUnits="userSpaceOnUse" x="-200" y="-200" width="2200" height="2200"><use href="#p42" fill="#fff" stroke="#fff" stroke-width="20"/></mask>
<use href="#p42" mask="url(#m42)" fill="none" stroke="#000" stroke-opacity="0.42" stroke-width="40" filter="url(#ish)"/>
<use href="#p43" fill="#151515" stroke="#151515" stroke-opacity="0.7" stroke-width="30"/>
<use href="#p43" fill="#fa1e0c" stroke="#fa1e0c" stroke-width="20"/>
<mask id="m43" maskUnits="userSpaceOnUse" x="-200" y="-200" width="2200" height="2200"><use href="#p43" fill="#fff" stroke="#fff" stroke-width="20"/></mask>
<use href="#p43" mask="url(#m43)" fill="none" stroke="#000" stroke-opacity="0.42" stroke-width="40" filter="url(#ish)"/>
<use href="#p44" fill="#151515" stroke="#151515" stroke-opacity="0.7" stroke-width="30"/>
<use href="#p44" fill="#545651" stroke="#545651" stroke-width="20"/>
<mask id="m44" maskUnits="userSpaceOnUse" x="-200" y="-200" width="2200" height="2200"><use href="#p44" fill="#fff" stroke="#fff" stroke-width="20"/></mask>
<use href="#p44" mask="url(#m44)" fill="none" stroke="#000" stroke-opacity="0.42" stroke-width="40" filter="url(#ish)"/>
<use href="#p45" fill="#151515" stroke="#151515" stroke-opacity="0.7" stroke-width="30"/>
<use href="#p45" fill="#0a0070" stroke="#0a0070" stroke-width="20"/>
<mask id="m45" maskUnits="userSpaceOnUse" x="-200" y="-200" width="2200" height="2200"><use href="#p45" fill="#fff" stroke="#fff" stroke-width="20"/></mask>
<use href="#p45" mask="url(#m45)" fill="none" stroke="#000" stroke-opacity="0.42" stroke-width="40" filter="url(#ish)"/>
<use href="#p46" fill="#151515" stroke="#151515" stroke-opacity="0.7" stroke-width="30"/>
<use href="#p46" fill="#d9e83a" stroke="#d9e83a" stroke-width="20"/>
<mask id="m46" maskUnits="userSpaceOnUse" x="-200" y="-200" width="2200" height="2200"><use href="#p46" fill="#fff" stroke="#fff" stroke-width="20"/></mask>
<use href="#p46" mask="url(#m46)" fill="none" stroke="#000" stroke-opacity="0.42" stroke-width="40" filter="url(#ish)"/>
<use href="#p47" fill="#151515" stroke="#151515" stroke-opacity="0.7" stroke-width="30"/>
<use href="#p47" fill="#fa1e0c" stroke="#fa1e0c" stroke-width="20"/>
<mask id="m47" maskUnits="userSpaceOnUse" x="-200" y="-200" width="2200" height="2200"><use href="#p47" fill="#fff" stroke="#fff" stroke-width="20"/></mask>
<use href="#p47" mask="url(#m47)" fill="none" stroke="#000" stroke-opacity="0.42" stroke-width="40" filter="url(#ish)"/>
<use href="#p48" fill="#151515" stroke="#151515" stroke-opacity="0.7" stroke-width="30"/>
<use href="#p48" fill="#1e06f5" stroke="#1e06f5" stroke-width="20"/>
<mask id="m48" maskUnits="userSpaceOnUse" x="-200" y="-200" width="2200" height="2200"><use href="#p48" fill="#fff" stroke="#fff" stroke-width="20"/></mask>
<use href="#p48" mask="url(#m48)" fill="none" stroke="#000" stroke-opacity="0.42" stroke-width="40" filter="url(#ish)"/>
<use href="#p49" fill="#151515" stroke="#151515" stroke-opacity="0.7" stroke-width="30"/>
<use href="#p49" fill="#fa1e0c" stroke="#fa1e0c" stroke-width="20"/>
<mask id="m49" maskUnits="userSpaceOnUse" x="-200" y="-200" width="2200" height="2200"><use href="#p49" fill="#fff" stroke="#fff" stroke-width="20"/></mask>
<use href="#p49" mask="url(#m49)" fill="none" stroke="#000" stroke-opacity="0.42" stroke-width="40" filter="url(#ish)"/>
<use href="#p50" fill="#151515" stroke="#151515" stroke-opacity="0.7" stroke-width="30"/>
<use href="#p50" fill="#d9e83a" stroke="#d9e83a" stroke-width="20"/>
<mask id="m50" maskUnits="userSpaceOnUse" x="-200" y="-200" width="2200" height="2200"><use href="#p50" fill="#fff" stroke="#fff" stroke-width="20"/></mask>
<use href="#p50" mask="url(#m50)" fill="none" stroke="#000" stroke-opacity="0.42" stroke-width="40" filter="url(#ish)"/>
<use href="#p51" fill="#151515" stroke="#151515" stroke-opacity="0.7" stroke-width="30"/>
<use href="#p51" fill="#d9e83a" stroke="#d9e83a" stroke-width="20"/>
<mask id="m51" maskUnits="userSpaceOnUse" x="-200" y="-200" width="2200" height="2200"><use href="#p51" fill="#fff" stroke="#fff" stroke-width="20"/></mask>
<use href="#p51" mask="url(#m51)" fill="none" stroke="#000" stroke-opacity="0.42" stroke-width="40" filter="url(#ish)"/>
<use href="#p52" fill="#151515" stroke="#151515" stroke-opacity="0.7" stroke-width="30"/>
<use href="#p52" fill="#fa1e0c" stroke="#fa1e0c" stroke-width="20"/>
<mask id="m52" maskUnits="userSpaceOnUse" x="-200" y="-200" width="2200" height="2200"><use href="#p52" fill="#fff" stroke="#fff" stroke-width="20"/></mask>
<use href="#p52" mask="url(#m52)" fill="none" stroke="#000" stroke-opacity="0.42" stroke-width="40" filter="url(#ish)"/>
<use href="#p53" fill="#151515" stroke="#151515" stroke-opacity="0.7" stroke-width="30"/>
<use href="#p53" fill="#fa1e0c" stroke="#fa1e0c" stroke-width="20"/>
<mask id="m53" maskUnits="userSpaceOnUse" x="-200" y="-200" width="2200" height="2200"><use href="#p53" fill="#fff" stroke="#fff" stroke-width="20"/></mask>
<use href="#p53" mask="url(#m53)" fill="none" stroke="#000" stroke-opacity="0.42" stroke-width="40" filter="url(#ish)"/>
<use href="#p54" fill="#151515" stroke="#151515" stroke-opacity="0.7" stroke-width="30"/>
<use href="#p54" fill="#d9e83a" stroke="#d9e83a" stroke-width="20"/>
<mask id="m54" maskUnits="userSpaceOnUse" x="-200" y="-200" width="2200" height="2200"><use href="#p54" fill="#fff" stroke="#fff" stroke-width="20"/></mask>
<use href="#p54" mask="url(#m54)" fill="none" stroke="#000" stroke-opacity="0.42" stroke-width="40" filter="url(#ish)"/>
<use href="#p55" fill="#151515" stroke="#151515" stroke-opacity="0.7" stroke-width="30"/>
<use href="#p55" fill="#1e06f5" stroke="#1e06f5" stroke-width="20"/>
<mask id="m55" maskUnits="userSpaceOnUse" x="-200" y="-200" width="2200" height="2200"><use href="#p55" fill="#fff" stroke="#fff" stroke-width="20"/></mask>
<use href="#p55" mask="url(#m55)" fill="none" stroke="#000" stroke-opacity="0.42" stroke-width="40" filter="url(#ish)"/>
<use href="#p56" fill="#151515" stroke="#151515" stroke-opacity="0.7" stroke-width="30"/>
<use href="#p56" fill="#d9e83a" stroke="#d9e83a" stroke-width="20"/>
<mask id="m56" maskUnits="userSpaceOnUse" x="-200" y="-200" width="2200" height="2200"><use href="#p56" fill="#fff" stroke="#fff" stroke-width="20"/></mask>
<use href="#p56" mask="url(#m56)" fill="none" stroke="#000" stroke-opacity="0.42" stroke-width="40" filter="url(#ish)"/>
<use href="#p57" fill="#151515" stroke="#151515" stroke-opacity="0.7" stroke-width="30"/>
<use href="#p57" fill="#d9e83a" stroke="#d9e83a" stroke-width="20"/>
<mask id="m57" maskUnits="userSpaceOnUse" x="-200" y="-200" width="2200" height="2200"><use href="#p57" fill="#fff" stroke="#fff" stroke-width="20"/></mask>
<use href="#p57" mask="url(#m57)" fill="none" stroke="#000" stroke-opacity="0.42" stroke-width="40" filter="url(#ish)"/>
<use href="#p58" fill="#151515" stroke="#151515" stroke-opacity="0.7" stroke-width="30"/>
<use href="#p58" fill="#1e06f5" stroke="#1e06f5" stroke-width="20"/>
<mask id="m58" maskUnits="userSpaceOnUse" x="-200" y="-200" width="2200" height="2200"><use href="#p58" fill="#fff" stroke="#fff" stroke-width="20"/></mask>
<use href="#p58" mask="url(#m58)" fill="none" stroke="#000" stroke-opacity="0.42" stroke-width="40" filter="url(#ish)"/>
<use href="#p59" fill="#151515" stroke="#151515" stroke-opacity="0.7" stroke-width="30"/>
<use href="#p59" fill="#d9e83a" stroke="#d9e83a" stroke-width="20"/>
<mask id="m59" maskUnits="userSpaceOnUse" x="-200" y="-200" width="2200" height="2200"><use href="#p59" fill="#fff" stroke="#fff" stroke-width="20"/></mask>
<use href="#p59" mask="url(#m59)" fill="none" stroke="#000" stroke-opacity="0.42" stroke-width="40" filter="url(#ish)"/>
<use href="#p60" fill="#151515" stroke="#151515" stroke-opacity="0.7" stroke-width="30"/>
<use href="#p60" fill="#d9e83a" stroke="#d9e83a" stroke-width="20"/>
<mask id="m60" maskUnits="userSpaceOnUse" x="-200" y="-200" width="2200" height="2200"><use href="#p60" fill="#fff" stroke="#fff" stroke-width="20"/></mask>
<use href="#p60" mask="url(#m60)" fill="none" stroke="#000" stroke-opacity="0.42" stroke-width="40" filter="url(#ish)"/>
<use href="#p61" fill="#151515" stroke="#151515" stroke-opacity="0.7" stroke-width="30"/>
<use href="#p61" fill="#1e06f5" stroke="#1e06f5" stroke-width="20"/>
<mask id="m61" maskUnits="userSpaceOnUse" x="-200" y="-200" width="2200" height="2200"><use href="#p61" fill="#fff" stroke="#fff" stroke-width="20"/></mask>
<use href="#p61" mask="url(#m61)" fill="none" stroke="#000" stroke-opacity="0.42" stroke-width="40" filter="url(#ish)"/>
<ellipse cx="520" cy="1500" rx="28" ry="26" fill="#d9e83a"/>
</g>
<g transform="translate(1100,515) scale(0.22684)" filter="url(#soft)" stroke-linejoin="round">
<path d="M267,550C278,516 316,491 332,457C347,423 341,361 360,345C378,330 420,345 444,364C467,383 478,472 499,457C521,441 540,311 574,271C608,231 651,235 704,215C757,195 843,166 890,150C936,135 960,116 983,122C1006,128 1020,156 1029,187C1039,218 1023,285 1039,308C1054,331 1107,308 1122,327C1138,345 1140,389 1132,420C1124,451 1070,494 1076,513C1082,531 1141,519 1169,531C1197,544 1222,565 1243,587C1265,609 1284,637 1299,662C1315,686 1324,696 1336,736C1349,776 1364,852 1374,903C1383,955 1381,1009 1392,1043C1403,1077 1431,1075 1439,1108C1446,1141 1440,1198 1439,1238C1437,1278 1443,1322 1429,1350C1415,1378 1383,1395 1355,1406C1327,1416 1296,1413 1262,1415C1228,1416 1184,1416 1150,1415C1116,1413 1088,1410 1057,1406C1026,1401 992,1384 964,1387C936,1390 902,1402 890,1424C878,1446 909,1495 890,1517C871,1539 812,1545 778,1554C744,1564 716,1564 685,1573C654,1582 611,1615 592,1610C574,1606 571,1567 574,1545C577,1523 611,1497 611,1480C611,1463 592,1449 574,1443C555,1437 521,1464 499,1443C478,1421 467,1340 444,1313C420,1285 388,1282 360,1275C332,1269 310,1271 276,1275C242,1280 179,1306 155,1303C132,1300 137,1277 137,1257C137,1237 138,1206 155,1182C172,1159 214,1133 239,1117C264,1102 301,1110 304,1089C307,1069 267,1027 258,996C248,965 248,934 248,903C248,872 250,832 258,810C265,789 293,798 295,773C296,748 272,699 267,662C262,624 256,584 267,550Z" fill="#3e3f3b"/>
<use href="#p62" fill="#151515" stroke="#151515" stroke-opacity="0.7" stroke-width="30"/>
<use href="#p62" fill="#545651" stroke="#545651" stroke-width="20"/>
<mask id="m62" maskUnits="userSpaceOnUse" x="-200" y="-200" width="2200" height="2200"><use href="#p62" fill="#fff" stroke="#fff" stroke-width="20"/></mask>
<use href="#p62" mask="url(#m62)" fill="none" stroke="#000" stroke-opacity="0.42" stroke-width="40" filter="url(#ish)"/>
<use href="#p63" fill="#151515" stroke="#151515" stroke-opacity="0.7" stroke-width="30"/>
<use href="#p63" fill="#545651" stroke="#545651" stroke-width="20"/>
<mask id="m63" maskUnits="userSpaceOnUse" x="-200" y="-200" width="2200" height="2200"><use href="#p63" fill="#fff" stroke="#fff" stroke-width="20"/></mask>
<use href="#p63" mask="url(#m63)" fill="none" stroke="#000" stroke-opacity="0.42" stroke-width="40" filter="url(#ish)"/>
<use href="#p64" fill="#151515" stroke="#151515" stroke-opacity="0.7" stroke-width="30"/>
<use href="#p64" fill="#fa1e0c" stroke="#fa1e0c" stroke-width="20"/>
<mask id="m64" maskUnits="userSpaceOnUse" x="-200" y="-200" width="2200" height="2200"><use href="#p64" fill="#fff" stroke="#fff" stroke-width="20"/></mask>
<use href="#p64" mask="url(#m64)" fill="none" stroke="#000" stroke-opacity="0.42" stroke-width="40" filter="url(#ish)"/>
<use href="#p65" fill="#151515" stroke="#151515" stroke-opacity="0.7" stroke-width="30"/>
<use href="#p65" fill="#545651" stroke="#545651" stroke-width="20"/>
<mask id="m65" maskUnits="userSpaceOnUse" x="-200" y="-200" width="2200" height="2200"><use href="#p65" fill="#fff" stroke="#fff" stroke-width="20"/></mask>
<use href="#p65" mask="url(#m65)" fill="none" stroke="#000" stroke-opacity="0.42" stroke-width="40" filter="url(#ish)"/>
<use href="#p66" fill="#151515" stroke="#151515" stroke-opacity="0.7" stroke-width="30"/>
<use href="#p66" fill="#545651" stroke="#545651" stroke-width="20"/>
<mask id="m66" maskUnits="userSpaceOnUse" x="-200" y="-200" width="2200" height="2200"><use href="#p66" fill="#fff" stroke="#fff" stroke-width="20"/></mask>
<use href="#p66" mask="url(#m66)" fill="none" stroke="#000" stroke-opacity="0.42" stroke-width="40" filter="url(#ish)"/>
<use href="#p67" fill="#151515" stroke="#151515" stroke-opacity="0.7" stroke-width="30"/>
<use href="#p67" fill="#545651" stroke="#545651" stroke-width="20"/>
<mask id="m67" maskUnits="userSpaceOnUse" x="-200" y="-200" width="2200" height="2200"><use href="#p67" fill="#fff" stroke="#fff" stroke-width="20"/></mask>
<use href="#p67" mask="url(#m67)" fill="none" stroke="#000" stroke-opacity="0.42" stroke-width="40" filter="url(#ish)"/>
<use href="#p68" fill="#151515" stroke="#151515" stroke-opacity="0.7" stroke-width="30"/>
<use href="#p68" fill="#545651" stroke="#545651" stroke-width="20"/>
<mask id="m68" maskUnits="userSpaceOnUse" x="-200" y="-200" width="2200" height="2200"><use href="#p68" fill="#fff" stroke="#fff" stroke-width="20"/></mask>
<use href="#p68" mask="url(#m68)" fill="none" stroke="#000" stroke-opacity="0.42" stroke-width="40" filter="url(#ish)"/>
<use href="#p69" fill="#151515" stroke="#151515" stroke-opacity="0.7" stroke-width="30"/>
<use href="#p69" fill="#545651" stroke="#545651" stroke-width="20"/>
<mask id="m69" maskUnits="userSpaceOnUse" x="-200" y="-200" width="2200" height="2200"><use href="#p69" fill="#fff" stroke="#fff" stroke-width="20"/></mask>
<use href="#p69" mask="url(#m69)" fill="none" stroke="#000" stroke-opacity="0.42" stroke-width="40" filter="url(#ish)"/>
<use href="#p70" fill="#151515" stroke="#151515" stroke-opacity="0.7" stroke-width="30"/>
<use href="#p70" fill="#fa1e0c" stroke="#fa1e0c" stroke-width="20"/>
<mask id="m70" maskUnits="userSpaceOnUse" x="-200" y="-200" width="2200" height="2200"><use href="#p70" fill="#fff" stroke="#fff" stroke-width="20"/></mask>
<use href="#p70" mask="url(#m70)" fill="none" stroke="#000" stroke-opacity="0.42" stroke-width="40" filter="url(#ish)"/>
<use href="#p71" fill="#151515" stroke="#151515" stroke-opacity="0.7" stroke-width="30"/>
<use href="#p71" fill="#545651" stroke="#545651" stroke-width="20"/>
<mask id="m71" maskUnits="userSpaceOnUse" x="-200" y="-200" width="2200" height="2200"><use href="#p71" fill="#fff" stroke="#fff" stroke-width="20"/></mask>
<use href="#p71" mask="url(#m71)" fill="none" stroke="#000" stroke-opacity="0.42" stroke-width="40" filter="url(#ish)"/>
<use href="#p72" fill="#151515" stroke="#151515" stroke-opacity="0.7" stroke-width="30"/>
<use href="#p72" fill="#d9e83a" stroke="#d9e83a" stroke-width="20"/>
<mask id="m72" maskUnits="userSpaceOnUse" x="-200" y="-200" width="2200" height="2200"><use href="#p72" fill="#fff" stroke="#fff" stroke-width="20"/></mask>
<use href="#p72" mask="url(#m72)" fill="none" stroke="#000" stroke-opacity="0.42" stroke-width="40" filter="url(#ish)"/>
<use href="#p73" fill="#151515" stroke="#151515" stroke-opacity="0.7" stroke-width="30"/>
<use href="#p73" fill="#1e06f5" stroke="#1e06f5" stroke-width="20"/>
<mask id="m73" maskUnits="userSpaceOnUse" x="-200" y="-200" width="2200" height="2200"><use href="#p73" fill="#fff" stroke="#fff" stroke-width="20"/></mask>
<use href="#p73" mask="url(#m73)" fill="none" stroke="#000" stroke-opacity="0.42" stroke-width="40" filter="url(#ish)"/>
<use href="#p74" fill="#151515" stroke="#151515" stroke-opacity="0.7" stroke-width="30"/>
<use href="#p74" fill="#fa1e0c" stroke="#fa1e0c" stroke-width="20"/>
<mask id="m74" maskUnits="userSpaceOnUse" x="-200" y="-200" width="2200" height="2200"><use href="#p74" fill="#fff" stroke="#fff" stroke-width="20"/></mask>
<use href="#p74" mask="url(#m74)" fill="none" stroke="#000" stroke-opacity="0.42" stroke-width="40" filter="url(#ish)"/>
<use href="#p75" fill="#151515" stroke="#151515" stroke-opacity="0.7" stroke-width="30"/>
<use href="#p75" fill="#545651" stroke="#545651" stroke-width="20"/>
<mask id="m75" maskUnits="userSpaceOnUse" x="-200" y="-200" width="2200" height="2200"><use href="#p75" fill="#fff" stroke="#fff" stroke-width="20"/></mask>
<use href="#p75" mask="url(#m75)" fill="none" stroke="#000" stroke-opacity="0.42" stroke-width="40" filter="url(#ish)"/>
<use href="#p76" fill="#151515" stroke="#151515" stroke-opacity="0.7" stroke-width="30"/>
<use href="#p76" fill="#545651" stroke="#545651" stroke-width="20"/>
<mask id="m76" maskUnits="userSpaceOnUse" x="-200" y="-200" width="2200" height="2200"><use href="#p76" fill="#fff" stroke="#fff" stroke-width="20"/></mask>
<use href="#p76" mask="url(#m76)" fill="none" stroke="#000" stroke-opacity="0.42" stroke-width="40" filter="url(#ish)"/>
<use href="#p77" fill="#151515" stroke="#151515" stroke-opacity="0.7" stroke-width="30"/>
<use href="#p77" fill="#fa1e0c" stroke="#fa1e0c" stroke-width="20"/>
<mask id="m77" maskUnits="userSpaceOnUse" x="-200" y="-200" width="2200" height="2200"><use href="#p77" fill="#fff" stroke="#fff" stroke-width="20"/></mask>
<use href="#p77" mask="url(#m77)" fill="none" stroke="#000" stroke-opacity="0.42" stroke-width="40" filter="url(#ish)"/>
<use href="#p78" fill="#151515" stroke="#151515" stroke-opacity="0.7" stroke-width="30"/>
<use href="#p78" fill="#d9e83a" stroke="#d9e83a" stroke-width="20"/>
<mask id="m78" maskUnits="userSpaceOnUse" x="-200" y="-200" width="2200" height="2200"><use href="#p78" fill="#fff" stroke="#fff" stroke-width="20"/></mask>
<use href="#p78" mask="url(#m78)" fill="none" stroke="#000" stroke-opacity="0.42" stroke-width="40" filter="url(#ish)"/>
<use href="#p79" fill="#151515" stroke="#151515" stroke-opacity="0.7" stroke-width="30"/>
<use href="#p79" fill="#1e06f5" stroke="#1e06f5" stroke-width="20"/>
<mask id="m79" maskUnits="userSpaceOnUse" x="-200" y="-200" width="2200" height="2200"><use href="#p79" fill="#fff" stroke="#fff" stroke-width="20"/></mask>
<use href="#p79" mask="url(#m79)" fill="none" stroke="#000" stroke-opacity="0.42" stroke-width="40" filter="url(#ish)"/>
<use href="#p80" fill="#151515" stroke="#151515" stroke-opacity="0.7" stroke-width="30"/>
<use href="#p80" fill="#d9e83a" stroke="#d9e83a" stroke-width="20"/>
<mask id="m80" maskUnits="userSpaceOnUse" x="-200" y="-200" width="2200" height="2200"><use href="#p80" fill="#fff" stroke="#fff" stroke-width="20"/></mask>
<use href="#p80" mask="url(#m80)" fill="none" stroke="#000" stroke-opacity="0.42" stroke-width="40" filter="url(#ish)"/>
<use href="#p81" fill="#151515" stroke="#151515" stroke-opacity="0.7" stroke-width="30"/>
<use href="#p81" fill="#1e06f5" stroke="#1e06f5" stroke-width="20"/>
<mask id="m81" maskUnits="userSpaceOnUse" x="-200" y="-200" width="2200" height="2200"><use href="#p81" fill="#fff" stroke="#fff" stroke-width="20"/></mask>
<use href="#p81" mask="url(#m81)" fill="none" stroke="#000" stroke-opacity="0.42" stroke-width="40" filter="url(#ish)"/>
<use href="#p82" fill="#151515" stroke="#151515" stroke-opacity="0.7" stroke-width="30"/>
<use href="#p82" fill="#fa1e0c" stroke="#fa1e0c" stroke-width="20"/>
<mask id="m82" maskUnits="userSpaceOnUse" x="-200" y="-200" width="2200" height="2200"><use href="#p82" fill="#fff" stroke="#fff" stroke-width="20"/></mask>
<use href="#p82" mask="url(#m82)" fill="none" stroke="#000" stroke-opacity="0.42" stroke-width="40" filter="url(#ish)"/>
<use href="#p83" fill="#151515" stroke="#151515" stroke-opacity="0.7" stroke-width="30"/>
<use href="#p83" fill="#d9e83a" stroke="#d9e83a" stroke-width="20"/>
<mask id="m83" maskUnits="userSpaceOnUse" x="-200" y="-200" width="2200" height="2200"><use href="#p83" fill="#fff" stroke="#fff" stroke-width="20"/></mask>
<use href="#p83" mask="url(#m83)" fill="none" stroke="#000" stroke-opacity="0.42" stroke-width="40" filter="url(#ish)"/>
<use href="#p84" fill="#151515" stroke="#151515" stroke-opacity="0.7" stroke-width="30"/>
<use href="#p84" fill="#1e06f5" stroke="#1e06f5" stroke-width="20"/>
<mask id="m84" maskUnits="userSpaceOnUse" x="-200" y="-200" width="2200" height="2200"><use href="#p84" fill="#fff" stroke="#fff" stroke-width="20"/></mask>
<use href="#p84" mask="url(#m84)" fill="none" stroke="#000" stroke-opacity="0.42" stroke-width="40" filter="url(#ish)"/>
<use href="#p85" fill="#151515" stroke="#151515" stroke-opacity="0.7" stroke-width="30"/>
<use href="#p85" fill="#fa1e0c" stroke="#fa1e0c" stroke-width="20"/>
<mask id="m85" maskUnits="userSpaceOnUse" x="-200" y="-200" width="2200" height="2200"><use href="#p85" fill="#fff" stroke="#fff" stroke-width="20"/></mask>
<use href="#p85" mask="url(#m85)" fill="none" stroke="#000" stroke-opacity="0.42" stroke-width="40" filter="url(#ish)"/>
<use href="#p86" fill="#151515" stroke="#151515" stroke-opacity="0.7" stroke-width="30"/>
<use href="#p86" fill="#fa1e0c" stroke="#fa1e0c" stroke-width="20"/>
<mask id="m86" maskUnits="userSpaceOnUse" x="-200" y="-200" width="2200" height="2200"><use href="#p86" fill="#fff" stroke="#fff" stroke-width="20"/></mask>
<use href="#p86" mask="url(#m86)" fill="none" stroke="#000" stroke-opacity="0.42" stroke-width="40" filter="url(#ish)"/>
<use href="#p87" fill="#151515" stroke="#151515" stroke-opacity="0.7" stroke-width="30"/>
<use href="#p87" fill="#1e06f5" stroke="#1e06f5" stroke-width="20"/>
<mask id="m87" maskUnits="userSpaceOnUse" x="-200" y="-200" width="2200" height="2200"><use href="#p87" fill="#fff" stroke="#fff" stroke-width="20"/></mask>
<use href="#p87" mask="url(#m87)" fill="none" stroke="#000" stroke-opacity="0.42" stroke-width="40" filter="url(#ish)"/>
<use href="#p88" fill="#151515" stroke="#151515" stroke-opacity="0.7" stroke-width="30"/>
<use href="#p88" fill="#d9e83a" stroke="#d9e83a" stroke-width="20"/>
<mask id="m88" maskUnits="userSpaceOnUse" x="-200" y="-200" width="2200" height="2200"><use href="#p88" fill="#fff" stroke="#fff" stroke-width="20"/></mask>
<use href="#p88" mask="url(#m88)" fill="none" stroke="#000" stroke-opacity="0.42" stroke-width="40" filter="url(#ish)"/>
<use href="#p89" fill="#151515" stroke="#151515" stroke-opacity="0.7" stroke-width="30"/>
<use href="#p89" fill="#d9e83a" stroke="#d9e83a" stroke-width="20"/>
<mask id="m89" maskUnits="userSpaceOnUse" x="-200" y="-200" width="2200" height="2200"><use href="#p89" fill="#fff" stroke="#fff" stroke-width="20"/></mask>
<use href="#p89" mask="url(#m89)" fill="none" stroke="#000" stroke-opacity="0.42" stroke-width="40" filter="url(#ish)"/>
<use href="#p90" fill="#151515" stroke="#151515" stroke-opacity="0.7" stroke-width="30"/>
<use href="#p90" fill="#1e06f5" stroke="#1e06f5" stroke-width="20"/>
<mask id="m90" maskUnits="userSpaceOnUse" x="-200" y="-200" width="2200" height="2200"><use href="#p90" fill="#fff" stroke="#fff" stroke-width="20"/></mask>
<use href="#p90" mask="url(#m90)" fill="none" stroke="#000" stroke-opacity="0.42" stroke-width="40" filter="url(#ish)"/>
<use href="#p91" fill="#151515" stroke="#151515" stroke-opacity="0.7" stroke-width="30"/>
<use href="#p91" fill="#d9e83a" stroke="#d9e83a" stroke-width="20"/>
<mask id="m91" maskUnits="userSpaceOnUse" x="-200" y="-200" width="2200" height="2200"><use href="#p91" fill="#fff" stroke="#fff" stroke-width="20"/></mask>
<use href="#p91" mask="url(#m91)" fill="none" stroke="#000" stroke-opacity="0.42" stroke-width="40" filter="url(#ish)"/>
<use href="#p92" fill="#151515" stroke="#151515" stroke-opacity="0.7" stroke-width="30"/>
<use href="#p92" fill="#d9e83a" stroke="#d9e83a" stroke-width="20"/>
<mask id="m92" maskUnits="userSpaceOnUse" x="-200" y="-200" width="2200" height="2200"><use href="#p92" fill="#fff" stroke="#fff" stroke-width="20"/></mask>
<use href="#p92" mask="url(#m92)" fill="none" stroke="#000" stroke-opacity="0.42" stroke-width="40" filter="url(#ish)"/>
</g>
<g transform="translate(1480,520) scale(0.21560)" filter="url(#soft)" stroke-linejoin="round">
<path d="M145,586C155,558 189,524 210,493C232,462 255,440 276,400C296,359 307,288 331,251C356,214 390,183 424,176C458,170 502,200 536,214C570,227 595,262 629,260C663,258 700,224 741,204C781,184 838,139 871,139C903,139 917,179 936,204C954,229 965,268 982,288C999,308 1010,316 1038,325C1066,334 1113,334 1150,344C1187,353 1230,362 1261,381C1292,400 1308,437 1336,455C1364,474 1410,474 1429,493C1447,511 1457,539 1447,567C1438,595 1398,632 1373,660C1348,688 1317,706 1299,734C1280,762 1264,796 1261,827C1258,858 1271,892 1280,920C1289,948 1314,970 1317,995C1320,1020 1316,1046 1299,1069C1282,1092 1233,1106 1215,1134C1196,1162 1202,1204 1187,1237C1171,1269 1148,1308 1122,1330C1096,1351 1046,1350 1029,1367C1012,1384 1004,1412 1020,1432C1035,1452 1103,1467 1122,1488C1140,1508 1139,1536 1131,1553C1123,1570 1106,1590 1075,1590C1044,1590 979,1571 945,1553C911,1534 896,1494 871,1478C846,1463 818,1463 796,1460C775,1457 768,1463 741,1460C713,1457 657,1435 629,1441C601,1447 598,1478 573,1497C548,1516 516,1556 480,1553C445,1550 393,1489 359,1478C325,1467 293,1498 276,1488C259,1477 254,1440 257,1413C260,1387 300,1353 294,1330C288,1306 243,1285 220,1274C197,1263 167,1280 155,1264C142,1249 145,1210 145,1181C145,1151 156,1125 155,1088C153,1051 139,989 136,958C133,927 127,922 136,902C145,882 186,865 192,837C198,809 179,764 173,734C167,705 159,685 155,660C150,635 136,613 145,586Z" fill="#3e3f3b"/>
<use href="#p93" fill="#151515" stroke="#151515" stroke-opacity="0.7" stroke-width="30"/>
<use href="#p93" fill="#545651" stroke="#545651" stroke-width="20"/>
<mask id="m93" maskUnits="userSpaceOnUse" x="-200" y="-200" width="2200" height="2200"><use href="#p93" fill="#fff" stroke="#fff" stroke-width="20"/></mask>
<use href="#p93" mask="url(#m93)" fill="none" stroke="#000" stroke-opacity="0.42" stroke-width="40" filter="url(#ish)"/>
<use href="#p94" fill="#151515" stroke="#151515" stroke-opacity="0.7" stroke-width="30"/>
<use href="#p94" fill="#545651" stroke="#545651" stroke-width="20"/>
<mask id="m94" maskUnits="userSpaceOnUse" x="-200" y="-200" width="2200" height="2200"><use href="#p94" fill="#fff" stroke="#fff" stroke-width="20"/></mask>
<use href="#p94" mask="url(#m94)" fill="none" stroke="#000" stroke-opacity="0.42" stroke-width="40" filter="url(#ish)"/>
<use href="#p95" fill="#151515" stroke="#151515" stroke-opacity="0.7" stroke-width="30"/>
<use href="#p95" fill="#545651" stroke="#545651" stroke-width="20"/>
<mask id="m95" maskUnits="userSpaceOnUse" x="-200" y="-200" width="2200" height="2200"><use href="#p95" fill="#fff" stroke="#fff" stroke-width="20"/></mask>
<use href="#p95" mask="url(#m95)" fill="none" stroke="#000" stroke-opacity="0.42" stroke-width="40" filter="url(#ish)"/>
<use href="#p96" fill="#151515" stroke="#151515" stroke-opacity="0.7" stroke-width="30"/>
<use href="#p96" fill="#545651" stroke="#545651" stroke-width="20"/>
<mask id="m96" maskUnits="userSpaceOnUse" x="-200" y="-200" width="2200" height="2200"><use href="#p96" fill="#fff" stroke="#fff" stroke-width="20"/></mask>
<use href="#p96" mask="url(#m96)" fill="none" stroke="#000" stroke-opacity="0.42" stroke-width="40" filter="url(#ish)"/>
<use href="#p97" fill="#151515" stroke="#151515" stroke-opacity="0.7" stroke-width="30"/>
<use href="#p97" fill="#545651" stroke="#545651" stroke-width="20"/>
<mask id="m97" maskUnits="userSpaceOnUse" x="-200" y="-200" width="2200" height="2200"><use href="#p97" fill="#fff" stroke="#fff" stroke-width="20"/></mask>
<use href="#p97" mask="url(#m97)" fill="none" stroke="#000" stroke-opacity="0.42" stroke-width="40" filter="url(#ish)"/>
<use href="#p98" fill="#151515" stroke="#151515" stroke-opacity="0.7" stroke-width="30"/>
<use href="#p98" fill="#545651" stroke="#545651" stroke-width="20"/>
<mask id="m98" maskUnits="userSpaceOnUse" x="-200" y="-200" width="2200" height="2200"><use href="#p98" fill="#fff" stroke="#fff" stroke-width="20"/></mask>
<use href="#p98" mask="url(#m98)" fill="none" stroke="#000" stroke-opacity="0.42" stroke-width="40" filter="url(#ish)"/>
<use href="#p99" fill="#151515" stroke="#151515" stroke-opacity="0.7" stroke-width="30"/>
<use href="#p99" fill="#545651" stroke="#545651" stroke-width="20"/>
<mask id="m99" maskUnits="userSpaceOnUse" x="-200" y="-200" width="2200" height="2200"><use href="#p99" fill="#fff" stroke="#fff" stroke-width="20"/></mask>
<use href="#p99" mask="url(#m99)" fill="none" stroke="#000" stroke-opacity="0.42" stroke-width="40" filter="url(#ish)"/>
<use href="#p100" fill="#151515" stroke="#151515" stroke-opacity="0.7" stroke-width="30"/>
<use href="#p100" fill="#1e06f5" stroke="#1e06f5" stroke-width="20"/>
<mask id="m100" maskUnits="userSpaceOnUse" x="-200" y="-200" width="2200" height="2200"><use href="#p100" fill="#fff" stroke="#fff" stroke-width="20"/></mask>
<use href="#p100" mask="url(#m100)" fill="none" stroke="#000" stroke-opacity="0.42" stroke-width="40" filter="url(#ish)"/>
<use href="#p101" fill="#151515" stroke="#151515" stroke-opacity="0.7" stroke-width="30"/>
<use href="#p101" fill="#1e06f5" stroke="#1e06f5" stroke-width="20"/>
<mask id="m101" maskUnits="userSpaceOnUse" x="-200" y="-200" width="2200" height="2200"><use href="#p101" fill="#fff" stroke="#fff" stroke-width="20"/></mask>
<use href="#p101" mask="url(#m101)" fill="none" stroke="#000" stroke-opacity="0.42" stroke-width="40" filter="url(#ish)"/>
<use href="#p102" fill="#151515" stroke="#151515" stroke-opacity="0.7" stroke-width="30"/>
<use href="#p102" fill="#fa1e0c" stroke="#fa1e0c" stroke-width="20"/>
<mask id="m102" maskUnits="userSpaceOnUse" x="-200" y="-200" width="2200" height="2200"><use href="#p102" fill="#fff" stroke="#fff" stroke-width="20"/></mask>
<use href="#p102" mask="url(#m102)" fill="none" stroke="#000" stroke-opacity="0.42" stroke-width="40" filter="url(#ish)"/>
<use href="#p103" fill="#151515" stroke="#151515" stroke-opacity="0.7" stroke-width="30"/>
<use href="#p103" fill="#fa1e0c" stroke="#fa1e0c" stroke-width="20"/>
<mask id="m103" maskUnits="userSpaceOnUse" x="-200" y="-200" width="2200" height="2200"><use href="#p103" fill="#fff" stroke="#fff" stroke-width="20"/></mask>
<use href="#p103" mask="url(#m103)" fill="none" stroke="#000" stroke-opacity="0.42" stroke-width="40" filter="url(#ish)"/>
<use href="#p104" fill="#151515" stroke="#151515" stroke-opacity="0.7" stroke-width="30"/>
<use href="#p104" fill="#fa1e0c" stroke="#fa1e0c" stroke-width="20"/>
<mask id="m104" maskUnits="userSpaceOnUse" x="-200" y="-200" width="2200" height="2200"><use href="#p104" fill="#fff" stroke="#fff" stroke-width="20"/></mask>
<use href="#p104" mask="url(#m104)" fill="none" stroke="#000" stroke-opacity="0.42" stroke-width="40" filter="url(#ish)"/>
<use href="#p105" fill="#151515" stroke="#151515" stroke-opacity="0.7" stroke-width="30"/>
<use href="#p105" fill="#d9e83a" stroke="#d9e83a" stroke-width="20"/>
<mask id="m105" maskUnits="userSpaceOnUse" x="-200" y="-200" width="2200" height="2200"><use href="#p105" fill="#fff" stroke="#fff" stroke-width="20"/></mask>
<use href="#p105" mask="url(#m105)" fill="none" stroke="#000" stroke-opacity="0.42" stroke-width="40" filter="url(#ish)"/>
<use href="#p106" fill="#151515" stroke="#151515" stroke-opacity="0.7" stroke-width="30"/>
<use href="#p106" fill="#d9e83a" stroke="#d9e83a" stroke-width="20"/>
<mask id="m106" maskUnits="userSpaceOnUse" x="-200" y="-200" width="2200" height="2200"><use href="#p106" fill="#fff" stroke="#fff" stroke-width="20"/></mask>
<use href="#p106" mask="url(#m106)" fill="none" stroke="#000" stroke-opacity="0.42" stroke-width="40" filter="url(#ish)"/>
<use href="#p107" fill="#151515" stroke="#151515" stroke-opacity="0.7" stroke-width="30"/>
<use href="#p107" fill="#d9e83a" stroke="#d9e83a" stroke-width="20"/>
<mask id="m107" maskUnits="userSpaceOnUse" x="-200" y="-200" width="2200" height="2200"><use href="#p107" fill="#fff" stroke="#fff" stroke-width="20"/></mask>
<use href="#p107" mask="url(#m107)" fill="none" stroke="#000" stroke-opacity="0.42" stroke-width="40" filter="url(#ish)"/>
<use href="#p108" fill="#151515" stroke="#151515" stroke-opacity="0.7" stroke-width="30"/>
<use href="#p108" fill="#d9e83a" stroke="#d9e83a" stroke-width="20"/>
<mask id="m108" maskUnits="userSpaceOnUse" x="-200" y="-200" width="2200" height="2200"><use href="#p108" fill="#fff" stroke="#fff" stroke-width="20"/></mask>
<use href="#p108" mask="url(#m108)" fill="none" stroke="#000" stroke-opacity="0.42" stroke-width="40" filter="url(#ish)"/>
<use href="#p109" fill="#151515" stroke="#151515" stroke-opacity="0.7" stroke-width="30"/>
<use href="#p109" fill="#fa1e0c" stroke="#fa1e0c" stroke-width="20"/>
<mask id="m109" maskUnits="userSpaceOnUse" x="-200" y="-200" width="2200" height="2200"><use href="#p109" fill="#fff" stroke="#fff" stroke-width="20"/></mask>
<use href="#p109" mask="url(#m109)" fill="none" stroke="#000" stroke-opacity="0.42" stroke-width="40" filter="url(#ish)"/>
<use href="#p110" fill="#151515" stroke="#151515" stroke-opacity="0.7" stroke-width="30"/>
<use href="#p110" fill="#545651" stroke="#545651" stroke-width="20"/>
<mask id="m110" maskUnits="userSpaceOnUse" x="-200" y="-200" width="2200" height="2200"><use href="#p110" fill="#fff" stroke="#fff" stroke-width="20"/></mask>
<use href="#p110" mask="url(#m110)" fill="none" stroke="#000" stroke-opacity="0.42" stroke-width="40" filter="url(#ish)"/>
<use href="#p111" fill="#151515" stroke="#151515" stroke-opacity="0.7" stroke-width="30"/>
<use href="#p111" fill="#fa1e0c" stroke="#fa1e0c" stroke-width="20"/>
<mask id="m111" maskUnits="userSpaceOnUse" x="-200" y="-200" width="2200" height="2200"><use href="#p111" fill="#fff" stroke="#fff" stroke-width="20"/></mask>
<use href="#p111" mask="url(#m111)" fill="none" stroke="#000" stroke-opacity="0.42" stroke-width="40" filter="url(#ish)"/>
<use href="#p112" fill="#151515" stroke="#151515" stroke-opacity="0.7" stroke-width="30"/>
<use href="#p112" fill="#fa1e0c" stroke="#fa1e0c" stroke-width="20"/>
<mask id="m112" maskUnits="userSpaceOnUse" x="-200" y="-200" width="2200" height="2200"><use href="#p112" fill="#fff" stroke="#fff" stroke-width="20"/></mask>
<use href="#p112" mask="url(#m112)" fill="none" stroke="#000" stroke-opacity="0.42" stroke-width="40" filter="url(#ish)"/>
<use href="#p113" fill="#151515" stroke="#151515" stroke-opacity="0.7" stroke-width="30"/>
<use href="#p113" fill="#1e06f5" stroke="#1e06f5" stroke-width="20"/>
<mask id="m113" maskUnits="userSpaceOnUse" x="-200" y="-200" width="2200" height="2200"><use href="#p113" fill="#fff" stroke="#fff" stroke-width="20"/></mask>
<use href="#p113" mask="url(#m113)" fill="none" stroke="#000" stroke-opacity="0.42" stroke-width="40" filter="url(#ish)"/>
<use href="#p114" fill="#151515" stroke="#151515" stroke-opacity="0.7" stroke-width="30"/>
<use href="#p114" fill="#d9e83a" stroke="#d9e83a" stroke-width="20"/>
<mask id="m114" maskUnits="userSpaceOnUse" x="-200" y="-200" width="2200" height="2200"><use href="#p114" fill="#fff" stroke="#fff" stroke-width="20"/></mask>
<use href="#p114" mask="url(#m114)" fill="none" stroke="#000" stroke-opacity="0.42" stroke-width="40" filter="url(#ish)"/>
<use href="#p115" fill="#151515" stroke="#151515" stroke-opacity="0.7" stroke-width="30"/>
<use href="#p115" fill="#d9e83a" stroke="#d9e83a" stroke-width="20"/>
<mask id="m115" maskUnits="userSpaceOnUse" x="-200" y="-200" width="2200" height="2200"><use href="#p115" fill="#fff" stroke="#fff" stroke-width="20"/></mask>
<use href="#p115" mask="url(#m115)" fill="none" stroke="#000" stroke-opacity="0.42" stroke-width="40" filter="url(#ish)"/>
<use href="#p116" fill="#151515" stroke="#151515" stroke-opacity="0.7" stroke-width="30"/>
<use href="#p116" fill="#fa1e0c" stroke="#fa1e0c" stroke-width="20"/>
<mask id="m116" maskUnits="userSpaceOnUse" x="-200" y="-200" width="2200" height="2200"><use href="#p116" fill="#fff" stroke="#fff" stroke-width="20"/></mask>
<use href="#p116" mask="url(#m116)" fill="none" stroke="#000" stroke-opacity="0.42" stroke-width="40" filter="url(#ish)"/>
<use href="#p117" fill="#151515" stroke="#151515" stroke-opacity="0.7" stroke-width="30"/>
<use href="#p117" fill="#1e06f5" stroke="#1e06f5" stroke-width="20"/>
<mask id="m117" maskUnits="userSpaceOnUse" x="-200" y="-200" width="2200" height="2200"><use href="#p117" fill="#fff" stroke="#fff" stroke-width="20"/></mask>
<use href="#p117" mask="url(#m117)" fill="none" stroke="#000" stroke-opacity="0.42" stroke-width="40" filter="url(#ish)"/>
<use href="#p118" fill="#151515" stroke="#151515" stroke-opacity="0.7" stroke-width="30"/>
<use href="#p118" fill="#d9e83a" stroke="#d9e83a" stroke-width="20"/>
<mask id="m118" maskUnits="userSpaceOnUse" x="-200" y="-200" width="2200" height="2200"><use href="#p118" fill="#fff" stroke="#fff" stroke-width="20"/></mask>
<use href="#p118" mask="url(#m118)" fill="none" stroke="#000" stroke-opacity="0.42" stroke-width="40" filter="url(#ish)"/>
<use href="#p119" fill="#151515" stroke="#151515" stroke-opacity="0.7" stroke-width="30"/>
<use href="#p119" fill="#fa1e0c" stroke="#fa1e0c" stroke-width="20"/>
<mask id="m119" maskUnits="userSpaceOnUse" x="-200" y="-200" width="2200" height="2200"><use href="#p119" fill="#fff" stroke="#fff" stroke-width="20"/></mask>
<use href="#p119" mask="url(#m119)" fill="none" stroke="#000" stroke-opacity="0.42" stroke-width="40" filter="url(#ish)"/>
<use href="#p120" fill="#151515" stroke="#151515" stroke-opacity="0.7" stroke-width="30"/>
<use href="#p120" fill="#545651" stroke="#545651" stroke-width="20"/>
<mask id="m120" maskUnits="userSpaceOnUse" x="-200" y="-200" width="2200" height="2200"><use href="#p120" fill="#fff" stroke="#fff" stroke-width="20"/></mask>
<use href="#p120" mask="url(#m120)" fill="none" stroke="#000" stroke-opacity="0.42" stroke-width="40" filter="url(#ish)"/>
<use href="#p121" fill="#151515" stroke="#151515" stroke-opacity="0.7" stroke-width="30"/>
<use href="#p121" fill="#545651" stroke="#545651" stroke-width="20"/>
<mask id="m121" maskUnits="userSpaceOnUse" x="-200" y="-200" width="2200" height="2200"><use href="#p121" fill="#fff" stroke="#fff" stroke-width="20"/></mask>
<use href="#p121" mask="url(#m121)" fill="none" stroke="#000" stroke-opacity="0.42" stroke-width="40" filter="url(#ish)"/>
<use href="#p122" fill="#151515" stroke="#151515" stroke-opacity="0.7" stroke-width="30"/>
<use href="#p122" fill="#d9e83a" stroke="#d9e83a" stroke-width="20"/>
<mask id="m122" maskUnits="userSpaceOnUse" x="-200" y="-200" width="2200" height="2200"><use href="#p122" fill="#fff" stroke="#fff" stroke-width="20"/></mask>
<use href="#p122" mask="url(#m122)" fill="none" stroke="#000" stroke-opacity="0.42" stroke-width="40" filter="url(#ish)"/>
<use href="#p123" fill="#151515" stroke="#151515" stroke-opacity="0.7" stroke-width="30"/>
<use href="#p123" fill="#1e06f5" stroke="#1e06f5" stroke-width="20"/>
<mask id="m123" maskUnits="userSpaceOnUse" x="-200" y="-200" width="2200" height="2200"><use href="#p123" fill="#fff" stroke="#fff" stroke-width="20"/></mask>
<use href="#p123" mask="url(#m123)" fill="none" stroke="#000" stroke-opacity="0.42" stroke-width="40" filter="url(#ish)"/>
<ellipse cx="318" cy="1175" rx="14" ry="42" fill="#fdfdfd"/>
<use href="#p124" fill="#151515" stroke="#151515" stroke-opacity="0.7" stroke-width="30"/>
<use href="#p124" fill="#d9e83a" stroke="#d9e83a" stroke-width="20"/>
<mask id="m124" maskUnits="userSpaceOnUse" x="-200" y="-200" width="2200" height="2200"><use href="#p124" fill="#fff" stroke="#fff" stroke-width="20"/></mask>
<use href="#p124" mask="url(#m124)" fill="none" stroke="#000" stroke-opacity="0.42" stroke-width="40" filter="url(#ish)"/>
</g>
<rect x="64.33" y="1289.43" width="23.70" height="57.07" fill="#c9c9c9"/>
<rect x="64.33" y="1264.24" width="23.70" height="25.18" fill="#cddcf5"/>
<rect x="64.33" y="1189.50" width="23.70" height="74.74" fill="#eec8c4"/>
<rect x="64.33" y="1143.40" width="23.70" height="46.10" fill="#f1f0ca"/>
<rect x="64.33" y="1289.43" width="23.70" height="57.07" fill="none" stroke="#3a3a3a" stroke-width="1.4" stroke-dasharray="4,3.2"/>
<rect x="64.33" y="1264.24" width="23.70" height="25.18" fill="none" stroke="#3a3a3a" stroke-width="1.4" stroke-dasharray="4,3.2"/>
<rect x="64.33" y="1189.50" width="23.70" height="74.74" fill="none" stroke="#3a3a3a" stroke-width="1.4" stroke-dasharray="4,3.2"/>
<rect x="64.33" y="1143.40" width="23.70" height="46.10" fill="none" stroke="#3a3a3a" stroke-width="1.4" stroke-dasharray="4,3.2"/>
<rect x="92.92" y="1288.82" width="23.70" height="57.68" fill="#555555"/>
<rect x="92.92" y="1261.20" width="23.70" height="27.62" fill="#5d87ee"/>
<rect x="92.92" y="1192.55" width="23.70" height="68.65" fill="#e24b34"/>
<rect x="92.92" y="1143.40" width="23.70" height="49.15" fill="#d8d050"/>
<rect x="92.92" y="1288.82" width="23.70" height="57.68" fill="none" stroke="#000" stroke-opacity="0.72" stroke-width="1.3"/>
<rect x="92.92" y="1261.20" width="23.70" height="27.62" fill="none" stroke="#000" stroke-opacity="0.72" stroke-width="1.3"/>
<rect x="92.92" y="1192.55" width="23.70" height="68.65" fill="none" stroke="#000" stroke-opacity="0.72" stroke-width="1.3"/>
<rect x="92.92" y="1143.40" width="23.70" height="49.15" fill="none" stroke="#000" stroke-opacity="0.72" stroke-width="1.3"/>
<text x="104.8" y="1363.5" font-family="'Liberation Serif', 'DejaVu Serif', serif" font-size="11.5" font-weight="bold" text-anchor="middle" fill="#000">1</text>
<rect x="121.50" y="1292.68" width="23.70" height="53.82" fill="#555555"/>
<rect x="121.50" y="1270.34" width="23.70" height="22.34" fill="#5d87ee"/>
<rect x="121.50" y="1194.99" width="23.70" height="75.35" fill="#e24b34"/>
<rect x="121.50" y="1143.40" width="23.70" height="51.59" fill="#d8d050"/>
<rect x="121.50" y="1292.68" width="23.70" height="53.82" fill="none" stroke="#000" stroke-opacity="0.72" stroke-width="1.3"/>
<rect x="121.50" y="1270.34" width="23.70" height="22.34" fill="none" stroke="#000" stroke-opacity="0.72" stroke-width="1.3"/>
<rect x="121.50" y="1194.99" width="23.70" height="75.35" fill="none" stroke="#000" stroke-opacity="0.72" stroke-width="1.3"/>
<rect x="121.50" y="1143.40" width="23.70" height="51.59" fill="none" stroke="#000" stroke-opacity="0.72" stroke-width="1.3"/>
<text x="133.3" y="1363.5" font-family="'Liberation Serif', 'DejaVu Serif', serif" font-size="11.5" font-weight="bold" text-anchor="middle" fill="#000">2</text>
<rect x="150.08" y="1291.66" width="23.70" height="54.84" fill="#555555"/>
<rect x="150.08" y="1262.01" width="23.70" height="29.65" fill="#5d87ee"/>
<rect x="150.08" y="1199.25" width="23.70" height="62.76" fill="#e24b34"/>
<rect x="150.08" y="1143.40" width="23.70" height="55.85" fill="#d8d050"/>
<rect x="150.08" y="1291.66" width="23.70" height="54.84" fill="none" stroke="#000" stroke-opacity="0.72" stroke-width="1.3"/>
<rect x="150.08" y="1262.01" width="23.70" height="29.65" fill="none" stroke="#000" stroke-opacity="0.72" stroke-width="1.3"/>
<rect x="150.08" y="1199.25" width="23.70" height="62.76" fill="none" stroke="#000" stroke-opacity="0.72" stroke-width="1.3"/>
<rect x="150.08" y="1143.40" width="23.70" height="55.85" fill="none" stroke="#000" stroke-opacity="0.72" stroke-width="1.3"/>
<text x="161.9" y="1363.5" font-family="'Liberation Serif', 'DejaVu Serif', serif" font-size="11.5" font-weight="bold" text-anchor="middle" fill="#000">3</text>
<rect x="178.67" y="1292.88" width="23.70" height="53.62" fill="#555555"/>
<rect x="178.67" y="1263.84" width="23.70" height="29.04" fill="#5d87ee"/>
<rect x="178.67" y="1193.16" width="23.70" height="70.68" fill="#e24b34"/>
<rect x="178.67" y="1143.40" width="23.70" height="49.76" fill="#d8d050"/>
<rect x="178.67" y="1292.88" width="23.70" height="53.62" fill="none" stroke="#000" stroke-opacity="0.72" stroke-width="1.3"/>
<rect x="178.67" y="1263.84" width="23.70" height="29.04" fill="none" stroke="#000" stroke-opacity="0.72" stroke-width="1.3"/>
<rect x="178.67" y="1193.16" width="23.70" height="70.68" fill="none" stroke="#000" stroke-opacity="0.72" stroke-width="1.3"/>
<rect x="178.67" y="1143.40" width="23.70" height="49.76" fill="none" stroke="#000" stroke-opacity="0.72" stroke-width="1.3"/>
<text x="190.5" y="1363.5" font-family="'Liberation Serif', 'DejaVu Serif', serif" font-size="11.5" font-weight="bold" text-anchor="middle" fill="#000">4</text>
<rect x="207.25" y="1291.66" width="23.70" height="54.84" fill="#555555"/>
<rect x="207.25" y="1264.45" width="23.70" height="27.22" fill="#5d87ee"/>
<rect x="207.25" y="1195.39" width="23.70" height="69.05" fill="#e24b34"/>
<rect x="207.25" y="1143.40" width="23.70" height="51.99" fill="#d8d050"/>
<rect x="207.25" y="1291.66" width="23.70" height="54.84" fill="none" stroke="#000" stroke-opacity="0.72" stroke-width="1.3"/>
<rect x="207.25" y="1264.45" width="23.70" height="27.22" fill="none" stroke="#000" stroke-opacity="0.72" stroke-width="1.3"/>
<rect x="207.25" y="1195.39" width="23.70" height="69.05" fill="none" stroke="#000" stroke-opacity="0.72" stroke-width="1.3"/>
<rect x="207.25" y="1143.40" width="23.70" height="51.99" fill="none" stroke="#000" stroke-opacity="0.72" stroke-width="1.3"/>
<text x="219.1" y="1363.5" font-family="'Liberation Serif', 'DejaVu Serif', serif" font-size="11.5" font-weight="bold" text-anchor="middle" fill="#000">5</text>
<rect x="235.83" y="1291.26" width="23.70" height="55.24" fill="#555555"/>
<rect x="235.83" y="1262.62" width="23.70" height="28.64" fill="#5d87ee"/>
<rect x="235.83" y="1192.96" width="23.70" height="69.66" fill="#e24b34"/>
<rect x="235.83" y="1143.40" width="23.70" height="49.56" fill="#d8d050"/>
<rect x="235.83" y="1291.26" width="23.70" height="55.24" fill="none" stroke="#000" stroke-opacity="0.72" stroke-width="1.3"/>
<rect x="235.83" y="1262.62" width="23.70" height="28.64" fill="none" stroke="#000" stroke-opacity="0.72" stroke-width="1.3"/>
<rect x="235.83" y="1192.96" width="23.70" height="69.66" fill="none" stroke="#000" stroke-opacity="0.72" stroke-width="1.3"/>
<rect x="235.83" y="1143.40" width="23.70" height="49.56" fill="none" stroke="#000" stroke-opacity="0.72" stroke-width="1.3"/>
<text x="247.7" y="1363.5" font-family="'Liberation Serif', 'DejaVu Serif', serif" font-size="11.5" font-weight="bold" text-anchor="middle" fill="#000">6</text>
<rect x="264.42" y="1291.26" width="23.70" height="55.24" fill="#555555"/>
<rect x="264.42" y="1262.01" width="23.70" height="29.25" fill="#5d87ee"/>
<rect x="264.42" y="1190.72" width="23.70" height="71.29" fill="#e24b34"/>
<rect x="264.42" y="1143.40" width="23.70" height="47.32" fill="#d8d050"/>
<rect x="264.42" y="1291.26" width="23.70" height="55.24" fill="none" stroke="#000" stroke-opacity="0.72" stroke-width="1.3"/>
<rect x="264.42" y="1262.01" width="23.70" height="29.25" fill="none" stroke="#000" stroke-opacity="0.72" stroke-width="1.3"/>
<rect x="264.42" y="1190.72" width="23.70" height="71.29" fill="none" stroke="#000" stroke-opacity="0.72" stroke-width="1.3"/>
<rect x="264.42" y="1143.40" width="23.70" height="47.32" fill="none" stroke="#000" stroke-opacity="0.72" stroke-width="1.3"/>
<text x="276.3" y="1363.5" font-family="'Liberation Serif', 'DejaVu Serif', serif" font-size="11.5" font-weight="bold" text-anchor="middle" fill="#000">7</text>
<rect x="293.00" y="1291.05" width="23.70" height="55.45" fill="#555555"/>
<rect x="293.00" y="1265.26" width="23.70" height="25.79" fill="#5d87ee"/>
<rect x="293.00" y="1195.39" width="23.70" height="69.87" fill="#e24b34"/>
<rect x="293.00" y="1143.40" width="23.70" height="51.99" fill="#d8d050"/>
<rect x="293.00" y="1291.05" width="23.70" height="55.45" fill="none" stroke="#000" stroke-opacity="0.72" stroke-width="1.3"/>
<rect x="293.00" y="1265.26" width="23.70" height="25.79" fill="none" stroke="#000" stroke-opacity="0.72" stroke-width="1.3"/>
<rect x="293.00" y="1195.39" width="23.70" height="69.87" fill="none" stroke="#000" stroke-opacity="0.72" stroke-width="1.3"/>
<rect x="293.00" y="1143.40" width="23.70" height="51.99" fill="none" stroke="#000" stroke-opacity="0.72" stroke-width="1.3"/>
<text x="304.9" y="1363.5" font-family="'Liberation Serif', 'DejaVu Serif', serif" font-size="11.5" font-weight="bold" text-anchor="middle" fill="#000">8</text>
<rect x="321.58" y="1291.46" width="23.70" height="55.04" fill="#555555"/>
<rect x="321.58" y="1266.48" width="23.70" height="24.98" fill="#5d87ee"/>
<rect x="321.58" y="1196.00" width="23.70" height="70.48" fill="#e24b34"/>
<rect x="321.58" y="1143.40" width="23.70" height="52.60" fill="#d8d050"/>
<rect x="321.58" y="1291.46" width="23.70" height="55.04" fill="none" stroke="#000" stroke-opacity="0.72" stroke-width="1.3"/>
<rect x="321.58" y="1266.48" width="23.70" height="24.98" fill="none" stroke="#000" stroke-opacity="0.72" stroke-width="1.3"/>
<rect x="321.58" y="1196.00" width="23.70" height="70.48" fill="none" stroke="#000" stroke-opacity="0.72" stroke-width="1.3"/>
<rect x="321.58" y="1143.40" width="23.70" height="52.60" fill="none" stroke="#000" stroke-opacity="0.72" stroke-width="1.3"/>
<text x="333.4" y="1363.5" font-family="'Liberation Serif', 'DejaVu Serif', serif" font-size="11.5" font-weight="bold" text-anchor="middle" fill="#000">9</text>
<rect x="350.17" y="1291.26" width="23.70" height="55.24" fill="#555555"/>
<rect x="350.17" y="1262.82" width="23.70" height="28.43" fill="#5d87ee"/>
<rect x="350.17" y="1198.24" width="23.70" height="64.59" fill="#e24b34"/>
<rect x="350.17" y="1143.40" width="23.70" height="54.84" fill="#d8d050"/>
<rect x="350.17" y="1291.26" width="23.70" height="55.24" fill="none" stroke="#000" stroke-opacity="0.72" stroke-width="1.3"/>
<rect x="350.17" y="1262.82" width="23.70" height="28.43" fill="none" stroke="#000" stroke-opacity="0.72" stroke-width="1.3"/>
<rect x="350.17" y="1198.24" width="23.70" height="64.59" fill="none" stroke="#000" stroke-opacity="0.72" stroke-width="1.3"/>
<rect x="350.17" y="1143.40" width="23.70" height="54.84" fill="none" stroke="#000" stroke-opacity="0.72" stroke-width="1.3"/>
<text x="362.0" y="1363.5" font-family="'Liberation Serif', 'DejaVu Serif', serif" font-size="11.5" font-weight="bold" text-anchor="middle" fill="#000" textLength="11.5" lengthAdjust="spacingAndGlyphs">10</text>
<line x1="47.6" y1="1141.4" x2="47.6" y2="1346.5" stroke="#3c3c3c" stroke-width="1.2"/>
<line x1="390.6" y1="1141.4" x2="390.6" y2="1346.5" stroke="#3c3c3c" stroke-width="1.2"/>
<line x1="47.6" y1="1346.5" x2="390.6" y2="1346.5" stroke="#3c3c3c" stroke-width="1.3"/>
<line x1="47.6" y1="1346.50" x2="51.6" y2="1346.50" stroke="#3c3c3c" stroke-width="1.3"/>
<line x1="390.6" y1="1346.50" x2="386.6" y2="1346.50" stroke="#3c3c3c" stroke-width="1.3"/>
<line x1="47.6" y1="1336.35" x2="49.800000000000004" y2="1336.35" stroke="#3c3c3c" stroke-width="1.3"/>
<line x1="390.6" y1="1336.35" x2="388.40000000000003" y2="1336.35" stroke="#3c3c3c" stroke-width="1.3"/>
<line x1="47.6" y1="1326.19" x2="49.800000000000004" y2="1326.19" stroke="#3c3c3c" stroke-width="1.3"/>
<line x1="390.6" y1="1326.19" x2="388.40000000000003" y2="1326.19" stroke="#3c3c3c" stroke-width="1.3"/>
<line x1="47.6" y1="1316.04" x2="49.800000000000004" y2="1316.04" stroke="#3c3c3c" stroke-width="1.3"/>
<line x1="390.6" y1="1316.04" x2="388.40000000000003" y2="1316.04" stroke="#3c3c3c" stroke-width="1.3"/>
<line x1="47.6" y1="1305.88" x2="51.6" y2="1305.88" stroke="#3c3c3c" stroke-width="1.3"/>
<line x1="390.6" y1="1305.88" x2="386.6" y2="1305.88" stroke="#3c3c3c" stroke-width="1.3"/>
<line x1="47.6" y1="1295.72" x2="49.800000000000004" y2="1295.72" stroke="#3c3c3c" stroke-width="1.3"/>
<line x1="390.6" y1="1295.72" x2="388.40000000000003" y2="1295.72" stroke="#3c3c3c" stroke-width="1.3"/>
<line x1="47.6" y1="1285.57" x2="49.800000000000004" y2="1285.57" stroke="#3c3c3c" stroke-width="1.3"/>
<line x1="390.6" y1="1285.57" x2="388.40000000000003" y2="1285.57" stroke="#3c3c3c" stroke-width="1.3"/>
<line x1="47.6" y1="1275.41" x2="49.800000000000004" y2="1275.41" stroke="#3c3c3c" stroke-width="1.3"/>
<line x1="390.6" y1="1275.41" x2="388.40000000000003" y2="1275.41" stroke="#3c3c3c" stroke-width="1.3"/>
<line x1="47.6" y1="1265.26" x2="51.6" y2="1265.26" stroke="#3c3c3c" stroke-width="1.3"/>
<line x1="390.6" y1="1265.26" x2="386.6" y2="1265.26" stroke="#3c3c3c" stroke-width="1.3"/>
<line x1="47.6" y1="1255.11" x2="49.800000000000004" y2="1255.11" stroke="#3c3c3c" stroke-width="1.3"/>
<line x1="390.6" y1="1255.11" x2="388.40000000000003" y2="1255.11" stroke="#3c3c3c" stroke-width="1.3"/>
<line x1="47.6" y1="1244.95" x2="49.800000000000004" y2="1244.95" stroke="#3c3c3c" stroke-width="1.3"/>
<line x1="390.6" y1="1244.95" x2="388.40000000000003" y2="1244.95" stroke="#3c3c3c" stroke-width="1.3"/>
<line x1="47.6" y1="1234.80" x2="49.800000000000004" y2="1234.80" stroke="#3c3c3c" stroke-width="1.3"/>
<line x1="390.6" y1="1234.80" x2="388.40000000000003" y2="1234.80" stroke="#3c3c3c" stroke-width="1.3"/>
<line x1="47.6" y1="1224.64" x2="51.6" y2="1224.64" stroke="#3c3c3c" stroke-width="1.3"/>
<line x1="390.6" y1="1224.64" x2="386.6" y2="1224.64" stroke="#3c3c3c" stroke-width="1.3"/>
<line x1="47.6" y1="1214.49" x2="49.800000000000004" y2="1214.49" stroke="#3c3c3c" stroke-width="1.3"/>
<line x1="390.6" y1="1214.49" x2="388.40000000000003" y2="1214.49" stroke="#3c3c3c" stroke-width="1.3"/>
<line x1="47.6" y1="1204.33" x2="49.800000000000004" y2="1204.33" stroke="#3c3c3c" stroke-width="1.3"/>
<line x1="390.6" y1="1204.33" x2="388.40000000000003" y2="1204.33" stroke="#3c3c3c" stroke-width="1.3"/>
<line x1="47.6" y1="1194.18" x2="49.800000000000004" y2="1194.18" stroke="#3c3c3c" stroke-width="1.3"/>
<line x1="390.6" y1="1194.18" x2="388.40000000000003" y2="1194.18" stroke="#3c3c3c" stroke-width="1.3"/>
<line x1="47.6" y1="1184.02" x2="51.6" y2="1184.02" stroke="#3c3c3c" stroke-width="1.3"/>
<line x1="390.6" y1="1184.02" x2="386.6" y2="1184.02" stroke="#3c3c3c" stroke-width="1.3"/>
<line x1="47.6" y1="1173.87" x2="49.800000000000004" y2="1173.87" stroke="#3c3c3c" stroke-width="1.3"/>
<line x1="390.6" y1="1173.87" x2="388.40000000000003" y2="1173.87" stroke="#3c3c3c" stroke-width="1.3"/>
<line x1="47.6" y1="1163.71" x2="49.800000000000004" y2="1163.71" stroke="#3c3c3c" stroke-width="1.3"/>
<line x1="390.6" y1="1163.71" x2="388.40000000000003" y2="1163.71" stroke="#3c3c3c" stroke-width="1.3"/>
<line x1="47.6" y1="1153.56" x2="49.800000000000004" y2="1153.56" stroke="#3c3c3c" stroke-width="1.3"/>
<line x1="390.6" y1="1153.56" x2="388.40000000000003" y2="1153.56" stroke="#3c3c3c" stroke-width="1.3"/>
<line x1="47.6" y1="1143.40" x2="51.6" y2="1143.40" stroke="#3c3c3c" stroke-width="1.3"/>
<line x1="390.6" y1="1143.40" x2="386.6" y2="1143.40" stroke="#3c3c3c" stroke-width="1.3"/>
<text x="44.4" y="1353.7" font-family="'Liberation Serif', 'DejaVu Serif', serif" font-size="15" font-weight="normal" text-anchor="end" fill="#000">0</text>
<text x="44.4" y="1313.1" font-family="'Liberation Serif', 'DejaVu Serif', serif" font-size="15" font-weight="normal" text-anchor="end" fill="#000">20</text>
<text x="44.4" y="1272.5" font-family="'Liberation Serif', 'DejaVu Serif', serif" font-size="15" font-weight="normal" text-anchor="end" fill="#000">40</text>
<text x="44.4" y="1231.8" font-family="'Liberation Serif', 'DejaVu Serif', serif" font-size="15" font-weight="normal" text-anchor="end" fill="#000">60</text>
<text x="44.4" y="1191.2" font-family="'Liberation Serif', 'DejaVu Serif', serif" font-size="15" font-weight="normal" text-anchor="end" fill="#000">80</text>
<text x="44.4" y="1150.6" font-family="'Liberation Serif', 'DejaVu Serif', serif" font-size="15" font-weight="normal" text-anchor="end" fill="#000" textLength="23.0" lengthAdjust="spacingAndGlyphs">100</text>
<text x="162.0" y="1134.0" font-family="'Liberation Serif', 'DejaVu Serif', serif" font-size="19.5" font-weight="normal" text-anchor="start" fill="#000" textLength="92.1" lengthAdjust="spacingAndGlyphs">Sequence 1</text>
<text x="177.9" y="1382.7" font-family="'Liberation Serif', 'DejaVu Serif', serif" font-size="18.5" font-weight="normal" text-anchor="start" fill="#000" textLength="105.0" lengthAdjust="spacingAndGlyphs">Conformation</text>
<rect x="438.93" y="1295.93" width="23.70" height="50.57" fill="#c9c9c9"/>
<rect x="438.93" y="1261.60" width="23.70" height="34.32" fill="#cddcf5"/>
<rect x="438.93" y="1182.40" width="23.70" height="79.21" fill="#eec8c4"/>
<rect x="438.93" y="1143.40" width="23.70" height="39.00" fill="#f1f0ca"/>
<rect x="438.93" y="1295.93" width="23.70" height="50.57" fill="none" stroke="#3a3a3a" stroke-width="1.4" stroke-dasharray="4,3.2"/>
<rect x="438.93" y="1261.60" width="23.70" height="34.32" fill="none" stroke="#3a3a3a" stroke-width="1.4" stroke-dasharray="4,3.2"/>
<rect x="438.93" y="1182.40" width="23.70" height="79.21" fill="none" stroke="#3a3a3a" stroke-width="1.4" stroke-dasharray="4,3.2"/>
<rect x="438.93" y="1143.40" width="23.70" height="39.00" fill="none" stroke="#3a3a3a" stroke-width="1.4" stroke-dasharray="4,3.2"/>
<rect x="467.52" y="1295.12" width="23.70" height="51.38" fill="#555555"/>
<rect x="467.52" y="1253.89" width="23.70" height="41.23" fill="#5d87ee"/>
<rect x="467.52" y="1188.29" width="23.70" height="65.60" fill="#e24b34"/>
<rect x="467.52" y="1143.40" width="23.70" height="44.89" fill="#d8d050"/>
<rect x="467.52" y="1295.12" width="23.70" height="51.38" fill="none" stroke="#000" stroke-opacity="0.72" stroke-width="1.3"/>
<rect x="467.52" y="1253.89" width="23.70" height="41.23" fill="none" stroke="#000" stroke-opacity="0.72" stroke-width="1.3"/>
<rect x="467.52" y="1188.29" width="23.70" height="65.60" fill="none" stroke="#000" stroke-opacity="0.72" stroke-width="1.3"/>
<rect x="467.52" y="1143.40" width="23.70" height="44.89" fill="none" stroke="#000" stroke-opacity="0.72" stroke-width="1.3"/>
<text x="479.4" y="1363.5" font-family="'Liberation Serif', 'DejaVu Serif', serif" font-size="11.5" font-weight="bold" text-anchor="middle" fill="#000">1</text>
<rect x="496.10" y="1301.21" width="23.70" height="45.29" fill="#555555"/>
<rect x="496.10" y="1256.12" width="23.70" height="45.09" fill="#5d87ee"/>
<rect x="496.10" y="1189.30" width="23.70" height="66.82" fill="#e24b34"/>
<rect x="496.10" y="1143.40" width="23.70" height="45.90" fill="#d8d050"/>
<rect x="496.10" y="1301.21" width="23.70" height="45.29" fill="none" stroke="#000" stroke-opacity="0.72" stroke-width="1.3"/>
<rect x="496.10" y="1256.12" width="23.70" height="45.09" fill="none" stroke="#000" stroke-opacity="0.72" stroke-width="1.3"/>
<rect x="496.10" y="1189.30" width="23.70" height="66.82" fill="none" stroke="#000" stroke-opacity="0.72" stroke-width="1.3"/>
<rect x="496.10" y="1143.40" width="23.70" height="45.90" fill="none" stroke="#000" stroke-opacity="0.72" stroke-width="1.3"/>
<text x="507.9" y="1363.5" font-family="'Liberation Serif', 'DejaVu Serif', serif" font-size="11.5" font-weight="bold" text-anchor="middle" fill="#000">2</text>
<rect x="524.68" y="1296.74" width="23.70" height="49.76" fill="#555555"/>
<rect x="524.68" y="1251.86" width="23.70" height="44.89" fill="#5d87ee"/>
<rect x="524.68" y="1188.29" width="23.70" height="63.57" fill="#e24b34"/>
<rect x="524.68" y="1143.40" width="23.70" height="44.89" fill="#d8d050"/>
<rect x="524.68" y="1296.74" width="23.70" height="49.76" fill="none" stroke="#000" stroke-opacity="0.72" stroke-width="1.3"/>
<rect x="524.68" y="1251.86" width="23.70" height="44.89" fill="none" stroke="#000" stroke-opacity="0.72" stroke-width="1.3"/>
<rect x="524.68" y="1188.29" width="23.70" height="63.57" fill="none" stroke="#000" stroke-opacity="0.72" stroke-width="1.3"/>
<rect x="524.68" y="1143.40" width="23.70" height="44.89" fill="none" stroke="#000" stroke-opacity="0.72" stroke-width="1.3"/>
<text x="536.5" y="1363.5" font-family="'Liberation Serif', 'DejaVu Serif', serif" font-size="11.5" font-weight="bold" text-anchor="middle" fill="#000">3</text>
<rect x="553.27" y="1299.99" width="23.70" height="46.51" fill="#555555"/>
<rect x="553.27" y="1260.99" width="23.70" height="39.00" fill="#5d87ee"/>
<rect x="553.27" y="1183.00" width="23.70" height="77.99" fill="#e24b34"/>
<rect x="553.27" y="1143.40" width="23.70" height="39.60" fill="#d8d050"/>
<rect x="553.27" y="1299.99" width="23.70" height="46.51" fill="none" stroke="#000" stroke-opacity="0.72" stroke-width="1.3"/>
<rect x="553.27" y="1260.99" width="23.70" height="39.00" fill="none" stroke="#000" stroke-opacity="0.72" stroke-width="1.3"/>
<rect x="553.27" y="1183.00" width="23.70" height="77.99" fill="none" stroke="#000" stroke-opacity="0.72" stroke-width="1.3"/>
<rect x="553.27" y="1143.40" width="23.70" height="39.60" fill="none" stroke="#000" stroke-opacity="0.72" stroke-width="1.3"/>
<text x="565.1" y="1363.5" font-family="'Liberation Serif', 'DejaVu Serif', serif" font-size="11.5" font-weight="bold" text-anchor="middle" fill="#000">4</text>
<rect x="581.85" y="1299.79" width="23.70" height="46.71" fill="#555555"/>
<rect x="581.85" y="1256.93" width="23.70" height="42.85" fill="#5d87ee"/>
<rect x="581.85" y="1184.83" width="23.70" height="72.10" fill="#e24b34"/>
<rect x="581.85" y="1143.40" width="23.70" height="41.43" fill="#d8d050"/>
<rect x="581.85" y="1299.79" width="23.70" height="46.71" fill="none" stroke="#000" stroke-opacity="0.72" stroke-width="1.3"/>
<rect x="581.85" y="1256.93" width="23.70" height="42.85" fill="none" stroke="#000" stroke-opacity="0.72" stroke-width="1.3"/>
<rect x="581.85" y="1184.83" width="23.70" height="72.10" fill="none" stroke="#000" stroke-opacity="0.72" stroke-width="1.3"/>
<rect x="581.85" y="1143.40" width="23.70" height="41.43" fill="none" stroke="#000" stroke-opacity="0.72" stroke-width="1.3"/>
<text x="593.7" y="1363.5" font-family="'Liberation Serif', 'DejaVu Serif', serif" font-size="11.5" font-weight="bold" text-anchor="middle" fill="#000">5</text>
<rect x="610.43" y="1298.16" width="23.70" height="48.34" fill="#555555"/>
<rect x="610.43" y="1256.53" width="23.70" height="41.64" fill="#5d87ee"/>
<rect x="610.43" y="1187.27" width="23.70" height="69.26" fill="#e24b34"/>
<rect x="610.43" y="1143.40" width="23.70" height="43.87" fill="#d8d050"/>
<rect x="610.43" y="1298.16" width="23.70" height="48.34" fill="none" stroke="#000" stroke-opacity="0.72" stroke-width="1.3"/>
<rect x="610.43" y="1256.53" width="23.70" height="41.64" fill="none" stroke="#000" stroke-opacity="0.72" stroke-width="1.3"/>
<rect x="610.43" y="1187.27" width="23.70" height="69.26" fill="none" stroke="#000" stroke-opacity="0.72" stroke-width="1.3"/>
<rect x="610.43" y="1143.40" width="23.70" height="43.87" fill="none" stroke="#000" stroke-opacity="0.72" stroke-width="1.3"/>
<text x="622.3" y="1363.5" font-family="'Liberation Serif', 'DejaVu Serif', serif" font-size="11.5" font-weight="bold" text-anchor="middle" fill="#000">6</text>
<rect x="639.02" y="1299.58" width="23.70" height="46.92" fill="#555555"/>
<rect x="639.02" y="1258.35" width="23.70" height="41.23" fill="#5d87ee"/>
<rect x="639.02" y="1187.27" width="23.70" height="71.09" fill="#e24b34"/>
<rect x="639.02" y="1143.40" width="23.70" height="43.87" fill="#d8d050"/>
<rect x="639.02" y="1299.58" width="23.70" height="46.92" fill="none" stroke="#000" stroke-opacity="0.72" stroke-width="1.3"/>
<rect x="639.02" y="1258.35" width="23.70" height="41.23" fill="none" stroke="#000" stroke-opacity="0.72" stroke-width="1.3"/>
<rect x="639.02" y="1187.27" width="23.70" height="71.09" fill="none" stroke="#000" stroke-opacity="0.72" stroke-width="1.3"/>
<rect x="639.02" y="1143.40" width="23.70" height="43.87" fill="none" stroke="#000" stroke-opacity="0.72" stroke-width="1.3"/>
<text x="650.9" y="1363.5" font-family="'Liberation Serif', 'DejaVu Serif', serif" font-size="11.5" font-weight="bold" text-anchor="middle" fill="#000">7</text>
<rect x="667.60" y="1299.38" width="23.70" height="47.12" fill="#555555"/>
<rect x="667.60" y="1265.67" width="23.70" height="33.71" fill="#5d87ee"/>
<rect x="667.60" y="1190.72" width="23.70" height="74.94" fill="#e24b34"/>
<rect x="667.60" y="1143.40" width="23.70" height="47.32" fill="#d8d050"/>
<rect x="667.60" y="1299.38" width="23.70" height="47.12" fill="none" stroke="#000" stroke-opacity="0.72" stroke-width="1.3"/>
<rect x="667.60" y="1265.67" width="23.70" height="33.71" fill="none" stroke="#000" stroke-opacity="0.72" stroke-width="1.3"/>
<rect x="667.60" y="1190.72" width="23.70" height="74.94" fill="none" stroke="#000" stroke-opacity="0.72" stroke-width="1.3"/>
<rect x="667.60" y="1143.40" width="23.70" height="47.32" fill="none" stroke="#000" stroke-opacity="0.72" stroke-width="1.3"/>
<text x="679.5" y="1363.5" font-family="'Liberation Serif', 'DejaVu Serif', serif" font-size="11.5" font-weight="bold" text-anchor="middle" fill="#000">8</text>
<rect x="696.18" y="1296.74" width="23.70" height="49.76" fill="#555555"/>
<rect x="696.18" y="1257.75" width="23.70" height="39.00" fill="#5d87ee"/>
<rect x="696.18" y="1188.69" width="23.70" height="69.05" fill="#e24b34"/>
<rect x="696.18" y="1143.40" width="23.70" height="45.29" fill="#d8d050"/>
<rect x="696.18" y="1296.74" width="23.70" height="49.76" fill="none" stroke="#000" stroke-opacity="0.72" stroke-width="1.3"/>
<rect x="696.18" y="1257.75" width="23.70" height="39.00" fill="none" stroke="#000" stroke-opacity="0.72" stroke-width="1.3"/>
<rect x="696.18" y="1188.69" width="23.70" height="69.05" fill="none" stroke="#000" stroke-opacity="0.72" stroke-width="1.3"/>
<rect x="696.18" y="1143.40" width="23.70" height="45.29" fill="none" stroke="#000" stroke-opacity="0.72" stroke-width="1.3"/>
<text x="708.0" y="1363.5" font-family="'Liberation Serif', 'DejaVu Serif', serif" font-size="11.5" font-weight="bold" text-anchor="middle" fill="#000">9</text>
<rect x="724.77" y="1294.51" width="23.70" height="51.99" fill="#555555"/>
<rect x="724.77" y="1257.75" width="23.70" height="36.76" fill="#5d87ee"/>
<rect x="724.77" y="1186.46" width="23.70" height="71.29" fill="#e24b34"/>
<rect x="724.77" y="1143.40" width="23.70" height="43.06" fill="#d8d050"/>
<rect x="724.77" y="1294.51" width="23.70" height="51.99" fill="none" stroke="#000" stroke-opacity="0.72" stroke-width="1.3"/>
<rect x="724.77" y="1257.75" width="23.70" height="36.76" fill="none" stroke="#000" stroke-opacity="0.72" stroke-width="1.3"/>
<rect x="724.77" y="1186.46" width="23.70" height="71.29" fill="none" stroke="#000" stroke-opacity="0.72" stroke-width="1.3"/>
<rect x="724.77" y="1143.40" width="23.70" height="43.06" fill="none" stroke="#000" stroke-opacity="0.72" stroke-width="1.3"/>
<text x="736.6" y="1363.5" font-family="'Liberation Serif', 'DejaVu Serif', serif" font-size="11.5" font-weight="bold" text-anchor="middle" fill="#000" textLength="11.5" lengthAdjust="spacingAndGlyphs">10</text>
<line x1="422.2" y1="1141.4" x2="422.2" y2="1346.5" stroke="#3c3c3c" stroke-width="1.2"/>
<line x1="765.2" y1="1141.4" x2="765.2" y2="1346.5" stroke="#3c3c3c" stroke-width="1.2"/>
<line x1="422.2" y1="1346.5" x2="765.2" y2="1346.5" stroke="#3c3c3c" stroke-width="1.3"/>
<line x1="422.2" y1="1346.50" x2="426.2" y2="1346.50" stroke="#3c3c3c" stroke-width="1.3"/>
<line x1="765.2" y1="1346.50" x2="761.2" y2="1346.50" stroke="#3c3c3c" stroke-width="1.3"/>
<line x1="422.2" y1="1336.35" x2="424.4" y2="1336.35" stroke="#3c3c3c" stroke-width="1.3"/>
<line x1="765.2" y1="1336.35" x2="763.0" y2="1336.35" stroke="#3c3c3c" stroke-width="1.3"/>
<line x1="422.2" y1="1326.19" x2="424.4" y2="1326.19" stroke="#3c3c3c" stroke-width="1.3"/>
<line x1="765.2" y1="1326.19" x2="763.0" y2="1326.19" stroke="#3c3c3c" stroke-width="1.3"/>
<line x1="422.2" y1="1316.04" x2="424.4" y2="1316.04" stroke="#3c3c3c" stroke-width="1.3"/>
<line x1="765.2" y1="1316.04" x2="763.0" y2="1316.04" stroke="#3c3c3c" stroke-width="1.3"/>
<line x1="422.2" y1="1305.88" x2="426.2" y2="1305.88" stroke="#3c3c3c" stroke-width="1.3"/>
<line x1="765.2" y1="1305.88" x2="761.2" y2="1305.88" stroke="#3c3c3c" stroke-width="1.3"/>
<line x1="422.2" y1="1295.72" x2="424.4" y2="1295.72" stroke="#3c3c3c" stroke-width="1.3"/>
<line x1="765.2" y1="1295.72" x2="763.0" y2="1295.72" stroke="#3c3c3c" stroke-width="1.3"/>
<line x1="422.2" y1="1285.57" x2="424.4" y2="1285.57" stroke="#3c3c3c" stroke-width="1.3"/>
<line x1="765.2" y1="1285.57" x2="763.0" y2="1285.57" stroke="#3c3c3c" stroke-width="1.3"/>
<line x1="422.2" y1="1275.41" x2="424.4" y2="1275.41" stroke="#3c3c3c" stroke-width="1.3"/>
<line x1="765.2" y1="1275.41" x2="763.0" y2="1275.41" stroke="#3c3c3c" stroke-width="1.3"/>
<line x1="422.2" y1="1265.26" x2="426.2" y2="1265.26" stroke="#3c3c3c" stroke-width="1.3"/>
<line x1="765.2" y1="1265.26" x2="761.2" y2="1265.26" stroke="#3c3c3c" stroke-width="1.3"/>
<line x1="422.2" y1="1255.11" x2="424.4" y2="1255.11" stroke="#3c3c3c" stroke-width="1.3"/>
<line x1="765.2" y1="1255.11" x2="763.0" y2="1255.11" stroke="#3c3c3c" stroke-width="1.3"/>
<line x1="422.2" y1="1244.95" x2="424.4" y2="1244.95" stroke="#3c3c3c" stroke-width="1.3"/>
<line x1="765.2" y1="1244.95" x2="763.0" y2="1244.95" stroke="#3c3c3c" stroke-width="1.3"/>
<line x1="422.2" y1="1234.80" x2="424.4" y2="1234.80" stroke="#3c3c3c" stroke-width="1.3"/>
<line x1="765.2" y1="1234.80" x2="763.0" y2="1234.80" stroke="#3c3c3c" stroke-width="1.3"/>
<line x1="422.2" y1="1224.64" x2="426.2" y2="1224.64" stroke="#3c3c3c" stroke-width="1.3"/>
<line x1="765.2" y1="1224.64" x2="761.2" y2="1224.64" stroke="#3c3c3c" stroke-width="1.3"/>
<line x1="422.2" y1="1214.49" x2="424.4" y2="1214.49" stroke="#3c3c3c" stroke-width="1.3"/>
<line x1="765.2" y1="1214.49" x2="763.0" y2="1214.49" stroke="#3c3c3c" stroke-width="1.3"/>
<line x1="422.2" y1="1204.33" x2="424.4" y2="1204.33" stroke="#3c3c3c" stroke-width="1.3"/>
<line x1="765.2" y1="1204.33" x2="763.0" y2="1204.33" stroke="#3c3c3c" stroke-width="1.3"/>
<line x1="422.2" y1="1194.18" x2="424.4" y2="1194.18" stroke="#3c3c3c" stroke-width="1.3"/>
<line x1="765.2" y1="1194.18" x2="763.0" y2="1194.18" stroke="#3c3c3c" stroke-width="1.3"/>
<line x1="422.2" y1="1184.02" x2="426.2" y2="1184.02" stroke="#3c3c3c" stroke-width="1.3"/>
<line x1="765.2" y1="1184.02" x2="761.2" y2="1184.02" stroke="#3c3c3c" stroke-width="1.3"/>
<line x1="422.2" y1="1173.87" x2="424.4" y2="1173.87" stroke="#3c3c3c" stroke-width="1.3"/>
<line x1="765.2" y1="1173.87" x2="763.0" y2="1173.87" stroke="#3c3c3c" stroke-width="1.3"/>
<line x1="422.2" y1="1163.71" x2="424.4" y2="1163.71" stroke="#3c3c3c" stroke-width="1.3"/>
<line x1="765.2" y1="1163.71" x2="763.0" y2="1163.71" stroke="#3c3c3c" stroke-width="1.3"/>
<line x1="422.2" y1="1153.56" x2="424.4" y2="1153.56" stroke="#3c3c3c" stroke-width="1.3"/>
<line x1="765.2" y1="1153.56" x2="763.0" y2="1153.56" stroke="#3c3c3c" stroke-width="1.3"/>
<line x1="422.2" y1="1143.40" x2="426.2" y2="1143.40" stroke="#3c3c3c" stroke-width="1.3"/>
<line x1="765.2" y1="1143.40" x2="761.2" y2="1143.40" stroke="#3c3c3c" stroke-width="1.3"/>
<text x="419.0" y="1353.7" font-family="'Liberation Serif', 'DejaVu Serif', serif" font-size="15" font-weight="normal" text-anchor="end" fill="#000">0</text>
<text x="419.0" y="1313.1" font-family="'Liberation Serif', 'DejaVu Serif', serif" font-size="15" font-weight="normal" text-anchor="end" fill="#000">20</text>
<text x="419.0" y="1272.5" font-family="'Liberation Serif', 'DejaVu Serif', serif" font-size="15" font-weight="normal" text-anchor="end" fill="#000">40</text>
<text x="419.0" y="1231.8" font-family="'Liberation Serif', 'DejaVu Serif', serif" font-size="15" font-weight="normal" text-anchor="end" fill="#000">60</text>
<text x="419.0" y="1191.2" font-family="'Liberation Serif', 'DejaVu Serif', serif" font-size="15" font-weight="normal" text-anchor="end" fill="#000">80</text>
<text x="419.0" y="1150.6" font-family="'Liberation Serif', 'DejaVu Serif', serif" font-size="15" font-weight="normal" text-anchor="end" fill="#000" textLength="23.0" lengthAdjust="spacingAndGlyphs">100</text>
<text x="566.3" y="1134.0" font-family="'Liberation Serif', 'DejaVu Serif', serif" font-size="19.5" font-weight="normal" text-anchor="start" fill="#000" textLength="94.3" lengthAdjust="spacingAndGlyphs">Sequence 2</text>
<text x="552.6" y="1382.7" font-family="'Liberation Serif', 'DejaVu Serif', serif" font-size="18.5" font-weight="normal" text-anchor="start" fill="#000" textLength="104.8" lengthAdjust="spacingAndGlyphs">Conformation</text>
<rect x="811.73" y="1286.59" width="23.70" height="59.91" fill="#c9c9c9"/>
<rect x="811.73" y="1268.31" width="23.70" height="18.28" fill="#cddcf5"/>
<rect x="811.73" y="1200.88" width="23.70" height="67.43" fill="#eec8c4"/>
<rect x="811.73" y="1143.40" width="23.70" height="57.48" fill="#f1f0ca"/>
<rect x="811.73" y="1286.59" width="23.70" height="59.91" fill="none" stroke="#3a3a3a" stroke-width="1.4" stroke-dasharray="4,3.2"/>
<rect x="811.73" y="1268.31" width="23.70" height="18.28" fill="none" stroke="#3a3a3a" stroke-width="1.4" stroke-dasharray="4,3.2"/>
<rect x="811.73" y="1200.88" width="23.70" height="67.43" fill="none" stroke="#3a3a3a" stroke-width="1.4" stroke-dasharray="4,3.2"/>
<rect x="811.73" y="1143.40" width="23.70" height="57.48" fill="none" stroke="#3a3a3a" stroke-width="1.4" stroke-dasharray="4,3.2"/>
<rect x="840.32" y="1289.43" width="23.70" height="57.07" fill="#555555"/>
<rect x="840.32" y="1267.09" width="23.70" height="22.34" fill="#5d87ee"/>
<rect x="840.32" y="1206.36" width="23.70" height="60.73" fill="#e24b34"/>
<rect x="840.32" y="1143.40" width="23.70" height="62.96" fill="#d8d050"/>
<rect x="840.32" y="1289.43" width="23.70" height="57.07" fill="none" stroke="#000" stroke-opacity="0.72" stroke-width="1.3"/>
<rect x="840.32" y="1267.09" width="23.70" height="22.34" fill="none" stroke="#000" stroke-opacity="0.72" stroke-width="1.3"/>
<rect x="840.32" y="1206.36" width="23.70" height="60.73" fill="none" stroke="#000" stroke-opacity="0.72" stroke-width="1.3"/>
<rect x="840.32" y="1143.40" width="23.70" height="62.96" fill="none" stroke="#000" stroke-opacity="0.72" stroke-width="1.3"/>
<text x="852.2" y="1363.5" font-family="'Liberation Serif', 'DejaVu Serif', serif" font-size="11.5" font-weight="bold" text-anchor="middle" fill="#000">1</text>
<rect x="868.90" y="1290.04" width="23.70" height="56.46" fill="#555555"/>
<rect x="868.90" y="1268.31" width="23.70" height="21.73" fill="#5d87ee"/>
<rect x="868.90" y="1205.35" width="23.70" height="62.96" fill="#e24b34"/>
<rect x="868.90" y="1143.40" width="23.70" height="61.95" fill="#d8d050"/>
<rect x="868.90" y="1290.04" width="23.70" height="56.46" fill="none" stroke="#000" stroke-opacity="0.72" stroke-width="1.3"/>
<rect x="868.90" y="1268.31" width="23.70" height="21.73" fill="none" stroke="#000" stroke-opacity="0.72" stroke-width="1.3"/>
<rect x="868.90" y="1205.35" width="23.70" height="62.96" fill="none" stroke="#000" stroke-opacity="0.72" stroke-width="1.3"/>
<rect x="868.90" y="1143.40" width="23.70" height="61.95" fill="none" stroke="#000" stroke-opacity="0.72" stroke-width="1.3"/>
<text x="880.8" y="1363.5" font-family="'Liberation Serif', 'DejaVu Serif', serif" font-size="11.5" font-weight="bold" text-anchor="middle" fill="#000">2</text>
<rect x="897.48" y="1290.44" width="23.70" height="56.06" fill="#555555"/>
<rect x="897.48" y="1268.71" width="23.70" height="21.73" fill="#5d87ee"/>
<rect x="897.48" y="1201.49" width="23.70" height="67.23" fill="#e24b34"/>
<rect x="897.48" y="1143.40" width="23.70" height="58.09" fill="#d8d050"/>
<rect x="897.48" y="1290.44" width="23.70" height="56.06" fill="none" stroke="#000" stroke-opacity="0.72" stroke-width="1.3"/>
<rect x="897.48" y="1268.71" width="23.70" height="21.73" fill="none" stroke="#000" stroke-opacity="0.72" stroke-width="1.3"/>
<rect x="897.48" y="1201.49" width="23.70" height="67.23" fill="none" stroke="#000" stroke-opacity="0.72" stroke-width="1.3"/>
<rect x="897.48" y="1143.40" width="23.70" height="58.09" fill="none" stroke="#000" stroke-opacity="0.72" stroke-width="1.3"/>
<text x="909.3" y="1363.5" font-family="'Liberation Serif', 'DejaVu Serif', serif" font-size="11.5" font-weight="bold" text-anchor="middle" fill="#000">3</text>
<rect x="926.07" y="1291.66" width="23.70" height="54.84" fill="#555555"/>
<rect x="926.07" y="1266.48" width="23.70" height="25.18" fill="#5d87ee"/>
<rect x="926.07" y="1203.72" width="23.70" height="62.76" fill="#e24b34"/>
<rect x="926.07" y="1143.40" width="23.70" height="60.32" fill="#d8d050"/>
<rect x="926.07" y="1291.66" width="23.70" height="54.84" fill="none" stroke="#000" stroke-opacity="0.72" stroke-width="1.3"/>
<rect x="926.07" y="1266.48" width="23.70" height="25.18" fill="none" stroke="#000" stroke-opacity="0.72" stroke-width="1.3"/>
<rect x="926.07" y="1203.72" width="23.70" height="62.76" fill="none" stroke="#000" stroke-opacity="0.72" stroke-width="1.3"/>
<rect x="926.07" y="1143.40" width="23.70" height="60.32" fill="none" stroke="#000" stroke-opacity="0.72" stroke-width="1.3"/>
<text x="937.9" y="1363.5" font-family="'Liberation Serif', 'DejaVu Serif', serif" font-size="11.5" font-weight="bold" text-anchor="middle" fill="#000">4</text>
<rect x="954.65" y="1287.19" width="23.70" height="59.31" fill="#555555"/>
<rect x="954.65" y="1265.67" width="23.70" height="21.53" fill="#5d87ee"/>
<rect x="954.65" y="1205.75" width="23.70" height="59.91" fill="#e24b34"/>
<rect x="954.65" y="1143.40" width="23.70" height="62.35" fill="#d8d050"/>
<rect x="954.65" y="1287.19" width="23.70" height="59.31" fill="none" stroke="#000" stroke-opacity="0.72" stroke-width="1.3"/>
<rect x="954.65" y="1265.67" width="23.70" height="21.53" fill="none" stroke="#000" stroke-opacity="0.72" stroke-width="1.3"/>
<rect x="954.65" y="1205.75" width="23.70" height="59.91" fill="none" stroke="#000" stroke-opacity="0.72" stroke-width="1.3"/>
<rect x="954.65" y="1143.40" width="23.70" height="62.35" fill="none" stroke="#000" stroke-opacity="0.72" stroke-width="1.3"/>
<text x="966.5" y="1363.5" font-family="'Liberation Serif', 'DejaVu Serif', serif" font-size="11.5" font-weight="bold" text-anchor="middle" fill="#000">5</text>
<rect x="983.23" y="1290.85" width="23.70" height="55.65" fill="#555555"/>
<rect x="983.23" y="1270.95" width="23.70" height="19.90" fill="#5d87ee"/>
<rect x="983.23" y="1203.11" width="23.70" height="67.84" fill="#e24b34"/>
<rect x="983.23" y="1143.40" width="23.70" height="59.71" fill="#d8d050"/>
<rect x="983.23" y="1290.85" width="23.70" height="55.65" fill="none" stroke="#000" stroke-opacity="0.72" stroke-width="1.3"/>
<rect x="983.23" y="1270.95" width="23.70" height="19.90" fill="none" stroke="#000" stroke-opacity="0.72" stroke-width="1.3"/>
<rect x="983.23" y="1203.11" width="23.70" height="67.84" fill="none" stroke="#000" stroke-opacity="0.72" stroke-width="1.3"/>
<rect x="983.23" y="1143.40" width="23.70" height="59.71" fill="none" stroke="#000" stroke-opacity="0.72" stroke-width="1.3"/>
<text x="995.1" y="1363.5" font-family="'Liberation Serif', 'DejaVu Serif', serif" font-size="11.5" font-weight="bold" text-anchor="middle" fill="#000">6</text>
<rect x="1011.82" y="1284.15" width="23.70" height="62.35" fill="#555555"/>
<rect x="1011.82" y="1266.48" width="23.70" height="17.67" fill="#5d87ee"/>
<rect x="1011.82" y="1206.87" width="23.70" height="59.61" fill="#e24b34"/>
<rect x="1011.82" y="1143.40" width="23.70" height="63.47" fill="#d8d050"/>
<rect x="1011.82" y="1284.15" width="23.70" height="62.35" fill="none" stroke="#000" stroke-opacity="0.72" stroke-width="1.3"/>
<rect x="1011.82" y="1266.48" width="23.70" height="17.67" fill="none" stroke="#000" stroke-opacity="0.72" stroke-width="1.3"/>
<rect x="1011.82" y="1206.87" width="23.70" height="59.61" fill="none" stroke="#000" stroke-opacity="0.72" stroke-width="1.3"/>
<rect x="1011.82" y="1143.40" width="23.70" height="63.47" fill="none" stroke="#000" stroke-opacity="0.72" stroke-width="1.3"/>
<text x="1023.7" y="1363.5" font-family="'Liberation Serif', 'DejaVu Serif', serif" font-size="11.5" font-weight="bold" text-anchor="middle" fill="#000">7</text>
<rect x="1040.40" y="1286.99" width="23.70" height="59.51" fill="#555555"/>
<rect x="1040.40" y="1265.46" width="23.70" height="21.53" fill="#5d87ee"/>
<rect x="1040.40" y="1212.25" width="23.70" height="53.21" fill="#e24b34"/>
<rect x="1040.40" y="1143.40" width="23.70" height="68.85" fill="#d8d050"/>
<rect x="1040.40" y="1286.99" width="23.70" height="59.51" fill="none" stroke="#000" stroke-opacity="0.72" stroke-width="1.3"/>
<rect x="1040.40" y="1265.46" width="23.70" height="21.53" fill="none" stroke="#000" stroke-opacity="0.72" stroke-width="1.3"/>
<rect x="1040.40" y="1212.25" width="23.70" height="53.21" fill="none" stroke="#000" stroke-opacity="0.72" stroke-width="1.3"/>
<rect x="1040.40" y="1143.40" width="23.70" height="68.85" fill="none" stroke="#000" stroke-opacity="0.72" stroke-width="1.3"/>
<text x="1052.2" y="1363.5" font-family="'Liberation Serif', 'DejaVu Serif', serif" font-size="11.5" font-weight="bold" text-anchor="middle" fill="#000">8</text>
<rect x="1068.98" y="1287.80" width="23.70" height="58.70" fill="#555555"/>
<rect x="1068.98" y="1271.76" width="23.70" height="16.04" fill="#5d87ee"/>
<rect x="1068.98" y="1209.41" width="23.70" height="62.35" fill="#e24b34"/>
<rect x="1068.98" y="1143.40" width="23.70" height="66.01" fill="#d8d050"/>
<rect x="1068.98" y="1287.80" width="23.70" height="58.70" fill="none" stroke="#000" stroke-opacity="0.72" stroke-width="1.3"/>
<rect x="1068.98" y="1271.76" width="23.70" height="16.04" fill="none" stroke="#000" stroke-opacity="0.72" stroke-width="1.3"/>
<rect x="1068.98" y="1209.41" width="23.70" height="62.35" fill="none" stroke="#000" stroke-opacity="0.72" stroke-width="1.3"/>
<rect x="1068.98" y="1143.40" width="23.70" height="66.01" fill="none" stroke="#000" stroke-opacity="0.72" stroke-width="1.3"/>
<text x="1080.8" y="1363.5" font-family="'Liberation Serif', 'DejaVu Serif', serif" font-size="11.5" font-weight="bold" text-anchor="middle" fill="#000">9</text>
<rect x="1097.57" y="1289.02" width="23.70" height="57.48" fill="#555555"/>
<rect x="1097.57" y="1267.09" width="23.70" height="21.93" fill="#5d87ee"/>
<rect x="1097.57" y="1198.85" width="23.70" height="68.24" fill="#e24b34"/>
<rect x="1097.57" y="1143.40" width="23.70" height="55.45" fill="#d8d050"/>
<rect x="1097.57" y="1289.02" width="23.70" height="57.48" fill="none" stroke="#000" stroke-opacity="0.72" stroke-width="1.3"/>
<rect x="1097.57" y="1267.09" width="23.70" height="21.93" fill="none" stroke="#000" stroke-opacity="0.72" stroke-width="1.3"/>
<rect x="1097.57" y="1198.85" width="23.70" height="68.24" fill="none" stroke="#000" stroke-opacity="0.72" stroke-width="1.3"/>
<rect x="1097.57" y="1143.40" width="23.70" height="55.45" fill="none" stroke="#000" stroke-opacity="0.72" stroke-width="1.3"/>
<text x="1109.4" y="1363.5" font-family="'Liberation Serif', 'DejaVu Serif', serif" font-size="11.5" font-weight="bold" text-anchor="middle" fill="#000" textLength="11.5" lengthAdjust="spacingAndGlyphs">10</text>
<line x1="795.0" y1="1141.4" x2="795.0" y2="1346.5" stroke="#3c3c3c" stroke-width="1.2"/>
<line x1="1138.0" y1="1141.4" x2="1138.0" y2="1346.5" stroke="#3c3c3c" stroke-width="1.2"/>
<line x1="795.0" y1="1346.5" x2="1138.0" y2="1346.5" stroke="#3c3c3c" stroke-width="1.3"/>
<line x1="795.0" y1="1346.50" x2="799.0" y2="1346.50" stroke="#3c3c3c" stroke-width="1.3"/>
<line x1="1138.0" y1="1346.50" x2="1134.0" y2="1346.50" stroke="#3c3c3c" stroke-width="1.3"/>
<line x1="795.0" y1="1336.35" x2="797.2" y2="1336.35" stroke="#3c3c3c" stroke-width="1.3"/>
<line x1="1138.0" y1="1336.35" x2="1135.8" y2="1336.35" stroke="#3c3c3c" stroke-width="1.3"/>
<line x1="795.0" y1="1326.19" x2="797.2" y2="1326.19" stroke="#3c3c3c" stroke-width="1.3"/>
<line x1="1138.0" y1="1326.19" x2="1135.8" y2="1326.19" stroke="#3c3c3c" stroke-width="1.3"/>
<line x1="795.0" y1="1316.04" x2="797.2" y2="1316.04" stroke="#3c3c3c" stroke-width="1.3"/>
<line x1="1138.0" y1="1316.04" x2="1135.8" y2="1316.04" stroke="#3c3c3c" stroke-width="1.3"/>
<line x1="795.0" y1="1305.88" x2="799.0" y2="1305.88" stroke="#3c3c3c" stroke-width="1.3"/>
<line x1="1138.0" y1="1305.88" x2="1134.0" y2="1305.88" stroke="#3c3c3c" stroke-width="1.3"/>
<line x1="795.0" y1="1295.72" x2="797.2" y2="1295.72" stroke="#3c3c3c" stroke-width="1.3"/>
<line x1="1138.0" y1="1295.72" x2="1135.8" y2="1295.72" stroke="#3c3c3c" stroke-width="1.3"/>
<line x1="795.0" y1="1285.57" x2="797.2" y2="1285.57" stroke="#3c3c3c" stroke-width="1.3"/>
<line x1="1138.0" y1="1285.57" x2="1135.8" y2="1285.57" stroke="#3c3c3c" stroke-width="1.3"/>
<line x1="795.0" y1="1275.41" x2="797.2" y2="1275.41" stroke="#3c3c3c" stroke-width="1.3"/>
<line x1="1138.0" y1="1275.41" x2="1135.8" y2="1275.41" stroke="#3c3c3c" stroke-width="1.3"/>
<line x1="795.0" y1="1265.26" x2="799.0" y2="1265.26" stroke="#3c3c3c" stroke-width="1.3"/>
<line x1="1138.0" y1="1265.26" x2="1134.0" y2="1265.26" stroke="#3c3c3c" stroke-width="1.3"/>
<line x1="795.0" y1="1255.11" x2="797.2" y2="1255.11" stroke="#3c3c3c" stroke-width="1.3"/>
<line x1="1138.0" y1="1255.11" x2="1135.8" y2="1255.11" stroke="#3c3c3c" stroke-width="1.3"/>
<line x1="795.0" y1="1244.95" x2="797.2" y2="1244.95" stroke="#3c3c3c" stroke-width="1.3"/>
<line x1="1138.0" y1="1244.95" x2="1135.8" y2="1244.95" stroke="#3c3c3c" stroke-width="1.3"/>
<line x1="795.0" y1="1234.80" x2="797.2" y2="1234.80" stroke="#3c3c3c" stroke-width="1.3"/>
<line x1="1138.0" y1="1234.80" x2="1135.8" y2="1234.80" stroke="#3c3c3c" stroke-width="1.3"/>
<line x1="795.0" y1="1224.64" x2="799.0" y2="1224.64" stroke="#3c3c3c" stroke-width="1.3"/>
<line x1="1138.0" y1="1224.64" x2="1134.0" y2="1224.64" stroke="#3c3c3c" stroke-width="1.3"/>
<line x1="795.0" y1="1214.49" x2="797.2" y2="1214.49" stroke="#3c3c3c" stroke-width="1.3"/>
<line x1="1138.0" y1="1214.49" x2="1135.8" y2="1214.49" stroke="#3c3c3c" stroke-width="1.3"/>
<line x1="795.0" y1="1204.33" x2="797.2" y2="1204.33" stroke="#3c3c3c" stroke-width="1.3"/>
<line x1="1138.0" y1="1204.33" x2="1135.8" y2="1204.33" stroke="#3c3c3c" stroke-width="1.3"/>
<line x1="795.0" y1="1194.18" x2="797.2" y2="1194.18" stroke="#3c3c3c" stroke-width="1.3"/>
<line x1="1138.0" y1="1194.18" x2="1135.8" y2="1194.18" stroke="#3c3c3c" stroke-width="1.3"/>
<line x1="795.0" y1="1184.02" x2="799.0" y2="1184.02" stroke="#3c3c3c" stroke-width="1.3"/>
<line x1="1138.0" y1="1184.02" x2="1134.0" y2="1184.02" stroke="#3c3c3c" stroke-width="1.3"/>
<line x1="795.0" y1="1173.87" x2="797.2" y2="1173.87" stroke="#3c3c3c" stroke-width="1.3"/>
<line x1="1138.0" y1="1173.87" x2="1135.8" y2="1173.87" stroke="#3c3c3c" stroke-width="1.3"/>
<line x1="795.0" y1="1163.71" x2="797.2" y2="1163.71" stroke="#3c3c3c" stroke-width="1.3"/>
<line x1="1138.0" y1="1163.71" x2="1135.8" y2="1163.71" stroke="#3c3c3c" stroke-width="1.3"/>
<line x1="795.0" y1="1153.56" x2="797.2" y2="1153.56" stroke="#3c3c3c" stroke-width="1.3"/>
<line x1="1138.0" y1="1153.56" x2="1135.8" y2="1153.56" stroke="#3c3c3c" stroke-width="1.3"/>
<line x1="795.0" y1="1143.40" x2="799.0" y2="1143.40" stroke="#3c3c3c" stroke-width="1.3"/>
<line x1="1138.0" y1="1143.40" x2="1134.0" y2="1143.40" stroke="#3c3c3c" stroke-width="1.3"/>
<text x="791.8" y="1353.7" font-family="'Liberation Serif', 'DejaVu Serif', serif" font-size="15" font-weight="normal" text-anchor="end" fill="#000">0</text>
<text x="791.8" y="1313.1" font-family="'Liberation Serif', 'DejaVu Serif', serif" font-size="15" font-weight="normal" text-anchor="end" fill="#000">20</text>
<text x="791.8" y="1272.5" font-family="'Liberation Serif', 'DejaVu Serif', serif" font-size="15" font-weight="normal" text-anchor="end" fill="#000">40</text>
<text x="791.8" y="1231.8" font-family="'Liberation Serif', 'DejaVu Serif', serif" font-size="15" font-weight="normal" text-anchor="end" fill="#000">60</text>
<text x="791.8" y="1191.2" font-family="'Liberation Serif', 'DejaVu Serif', serif" font-size="15" font-weight="normal" text-anchor="end" fill="#000">80</text>
<text x="791.8" y="1150.6" font-family="'Liberation Serif', 'DejaVu Serif', serif" font-size="15" font-weight="normal" text-anchor="end" fill="#000" textLength="23.0" lengthAdjust="spacingAndGlyphs">100</text>
<text x="927.3" y="1134.0" font-family="'Liberation Serif', 'DejaVu Serif', serif" font-size="19.5" font-weight="normal" text-anchor="start" fill="#000" textLength="93.6" lengthAdjust="spacingAndGlyphs">Sequence 3</text>
<text x="924.1" y="1382.7" font-family="'Liberation Serif', 'DejaVu Serif', serif" font-size="18.5" font-weight="normal" text-anchor="start" fill="#000" textLength="104.8" lengthAdjust="spacingAndGlyphs">Conformation</text>
<rect x="1184.93" y="1283.74" width="23.70" height="62.76" fill="#c9c9c9"/>
<rect x="1184.93" y="1277.24" width="23.70" height="6.50" fill="#cddcf5"/>
<rect x="1184.93" y="1186.86" width="23.70" height="90.38" fill="#eec8c4"/>
<rect x="1184.93" y="1143.40" width="23.70" height="43.46" fill="#f1f0ca"/>
<rect x="1184.93" y="1283.74" width="23.70" height="62.76" fill="none" stroke="#3a3a3a" stroke-width="1.4" stroke-dasharray="4,3.2"/>
<rect x="1184.93" y="1277.24" width="23.70" height="6.50" fill="none" stroke="#3a3a3a" stroke-width="1.4" stroke-dasharray="4,3.2"/>
<rect x="1184.93" y="1186.86" width="23.70" height="90.38" fill="none" stroke="#3a3a3a" stroke-width="1.4" stroke-dasharray="4,3.2"/>
<rect x="1184.93" y="1143.40" width="23.70" height="43.46" fill="none" stroke="#3a3a3a" stroke-width="1.4" stroke-dasharray="4,3.2"/>
<rect x="1213.52" y="1284.55" width="23.70" height="61.95" fill="#555555"/>
<rect x="1213.52" y="1275.21" width="23.70" height="9.34" fill="#5d87ee"/>
<rect x="1213.52" y="1198.44" width="23.70" height="76.77" fill="#e24b34"/>
<rect x="1213.52" y="1143.40" width="23.70" height="55.04" fill="#d8d050"/>
<rect x="1213.52" y="1284.55" width="23.70" height="61.95" fill="none" stroke="#000" stroke-opacity="0.72" stroke-width="1.3"/>
<rect x="1213.52" y="1275.21" width="23.70" height="9.34" fill="none" stroke="#000" stroke-opacity="0.72" stroke-width="1.3"/>
<rect x="1213.52" y="1198.44" width="23.70" height="76.77" fill="none" stroke="#000" stroke-opacity="0.72" stroke-width="1.3"/>
<rect x="1213.52" y="1143.40" width="23.70" height="55.04" fill="none" stroke="#000" stroke-opacity="0.72" stroke-width="1.3"/>
<text x="1225.4" y="1363.5" font-family="'Liberation Serif', 'DejaVu Serif', serif" font-size="11.5" font-weight="bold" text-anchor="middle" fill="#000">1</text>
<rect x="1242.10" y="1283.34" width="23.70" height="63.16" fill="#555555"/>
<rect x="1242.10" y="1277.24" width="23.70" height="6.09" fill="#5d87ee"/>
<rect x="1242.10" y="1196.21" width="23.70" height="81.04" fill="#e24b34"/>
<rect x="1242.10" y="1143.40" width="23.70" height="52.81" fill="#d8d050"/>
<rect x="1242.10" y="1283.34" width="23.70" height="63.16" fill="none" stroke="#000" stroke-opacity="0.72" stroke-width="1.3"/>
<rect x="1242.10" y="1277.24" width="23.70" height="6.09" fill="none" stroke="#000" stroke-opacity="0.72" stroke-width="1.3"/>
<rect x="1242.10" y="1196.21" width="23.70" height="81.04" fill="none" stroke="#000" stroke-opacity="0.72" stroke-width="1.3"/>
<rect x="1242.10" y="1143.40" width="23.70" height="52.81" fill="none" stroke="#000" stroke-opacity="0.72" stroke-width="1.3"/>
<text x="1254.0" y="1363.5" font-family="'Liberation Serif', 'DejaVu Serif', serif" font-size="11.5" font-weight="bold" text-anchor="middle" fill="#000">2</text>
<rect x="1270.68" y="1287.60" width="23.70" height="58.90" fill="#555555"/>
<rect x="1270.68" y="1279.88" width="23.70" height="7.72" fill="#5d87ee"/>
<rect x="1270.68" y="1191.33" width="23.70" height="88.55" fill="#e24b34"/>
<rect x="1270.68" y="1143.40" width="23.70" height="47.93" fill="#d8d050"/>
<rect x="1270.68" y="1287.60" width="23.70" height="58.90" fill="none" stroke="#000" stroke-opacity="0.72" stroke-width="1.3"/>
<rect x="1270.68" y="1279.88" width="23.70" height="7.72" fill="none" stroke="#000" stroke-opacity="0.72" stroke-width="1.3"/>
<rect x="1270.68" y="1191.33" width="23.70" height="88.55" fill="none" stroke="#000" stroke-opacity="0.72" stroke-width="1.3"/>
<rect x="1270.68" y="1143.40" width="23.70" height="47.93" fill="none" stroke="#000" stroke-opacity="0.72" stroke-width="1.3"/>
<text x="1282.5" y="1363.5" font-family="'Liberation Serif', 'DejaVu Serif', serif" font-size="11.5" font-weight="bold" text-anchor="middle" fill="#000">3</text>
<rect x="1299.27" y="1287.60" width="23.70" height="58.90" fill="#555555"/>
<rect x="1299.27" y="1284.55" width="23.70" height="3.05" fill="#5d87ee"/>
<rect x="1299.27" y="1193.57" width="23.70" height="90.99" fill="#e24b34"/>
<rect x="1299.27" y="1143.40" width="23.70" height="50.17" fill="#d8d050"/>
<rect x="1299.27" y="1287.60" width="23.70" height="58.90" fill="none" stroke="#000" stroke-opacity="0.72" stroke-width="1.3"/>
<rect x="1299.27" y="1284.55" width="23.70" height="3.05" fill="none" stroke="#000" stroke-opacity="0.72" stroke-width="1.3"/>
<rect x="1299.27" y="1193.57" width="23.70" height="90.99" fill="none" stroke="#000" stroke-opacity="0.72" stroke-width="1.3"/>
<rect x="1299.27" y="1143.40" width="23.70" height="50.17" fill="none" stroke="#000" stroke-opacity="0.72" stroke-width="1.3"/>
<text x="1311.1" y="1363.5" font-family="'Liberation Serif', 'DejaVu Serif', serif" font-size="11.5" font-weight="bold" text-anchor="middle" fill="#000">4</text>
<rect x="1327.85" y="1286.18" width="23.70" height="60.32" fill="#555555"/>
<rect x="1327.85" y="1278.87" width="23.70" height="7.31" fill="#5d87ee"/>
<rect x="1327.85" y="1195.19" width="23.70" height="83.68" fill="#e24b34"/>
<rect x="1327.85" y="1143.40" width="23.70" height="51.79" fill="#d8d050"/>
<rect x="1327.85" y="1286.18" width="23.70" height="60.32" fill="none" stroke="#000" stroke-opacity="0.72" stroke-width="1.3"/>
<rect x="1327.85" y="1278.87" width="23.70" height="7.31" fill="none" stroke="#000" stroke-opacity="0.72" stroke-width="1.3"/>
<rect x="1327.85" y="1195.19" width="23.70" height="83.68" fill="none" stroke="#000" stroke-opacity="0.72" stroke-width="1.3"/>
<rect x="1327.85" y="1143.40" width="23.70" height="51.79" fill="none" stroke="#000" stroke-opacity="0.72" stroke-width="1.3"/>
<text x="1339.7" y="1363.5" font-family="'Liberation Serif', 'DejaVu Serif', serif" font-size="11.5" font-weight="bold" text-anchor="middle" fill="#000">5</text>
<rect x="1356.43" y="1283.74" width="23.70" height="62.76" fill="#555555"/>
<rect x="1356.43" y="1279.27" width="23.70" height="4.47" fill="#5d87ee"/>
<rect x="1356.43" y="1200.47" width="23.70" height="78.80" fill="#e24b34"/>
<rect x="1356.43" y="1143.40" width="23.70" height="57.07" fill="#d8d050"/>
<rect x="1356.43" y="1283.74" width="23.70" height="62.76" fill="none" stroke="#000" stroke-opacity="0.72" stroke-width="1.3"/>
<rect x="1356.43" y="1279.27" width="23.70" height="4.47" fill="none" stroke="#000" stroke-opacity="0.72" stroke-width="1.3"/>
<rect x="1356.43" y="1200.47" width="23.70" height="78.80" fill="none" stroke="#000" stroke-opacity="0.72" stroke-width="1.3"/>
<rect x="1356.43" y="1143.40" width="23.70" height="57.07" fill="none" stroke="#000" stroke-opacity="0.72" stroke-width="1.3"/>
<text x="1368.3" y="1363.5" font-family="'Liberation Serif', 'DejaVu Serif', serif" font-size="11.5" font-weight="bold" text-anchor="middle" fill="#000">6</text>
<rect x="1385.02" y="1284.15" width="23.70" height="62.35" fill="#555555"/>
<rect x="1385.02" y="1280.90" width="23.70" height="3.25" fill="#5d87ee"/>
<rect x="1385.02" y="1197.02" width="23.70" height="83.88" fill="#e24b34"/>
<rect x="1385.02" y="1143.40" width="23.70" height="53.62" fill="#d8d050"/>
<rect x="1385.02" y="1284.15" width="23.70" height="62.35" fill="none" stroke="#000" stroke-opacity="0.72" stroke-width="1.3"/>
<rect x="1385.02" y="1280.90" width="23.70" height="3.25" fill="none" stroke="#000" stroke-opacity="0.72" stroke-width="1.3"/>
<rect x="1385.02" y="1197.02" width="23.70" height="83.88" fill="none" stroke="#000" stroke-opacity="0.72" stroke-width="1.3"/>
<rect x="1385.02" y="1143.40" width="23.70" height="53.62" fill="none" stroke="#000" stroke-opacity="0.72" stroke-width="1.3"/>
<text x="1396.9" y="1363.5" font-family="'Liberation Serif', 'DejaVu Serif', serif" font-size="11.5" font-weight="bold" text-anchor="middle" fill="#000">7</text>
<rect x="1413.60" y="1279.88" width="23.70" height="66.62" fill="#555555"/>
<rect x="1413.60" y="1270.95" width="23.70" height="8.94" fill="#5d87ee"/>
<rect x="1413.60" y="1191.33" width="23.70" height="79.62" fill="#e24b34"/>
<rect x="1413.60" y="1143.40" width="23.70" height="47.93" fill="#d8d050"/>
<rect x="1413.60" y="1279.88" width="23.70" height="66.62" fill="none" stroke="#000" stroke-opacity="0.72" stroke-width="1.3"/>
<rect x="1413.60" y="1270.95" width="23.70" height="8.94" fill="none" stroke="#000" stroke-opacity="0.72" stroke-width="1.3"/>
<rect x="1413.60" y="1191.33" width="23.70" height="79.62" fill="none" stroke="#000" stroke-opacity="0.72" stroke-width="1.3"/>
<rect x="1413.60" y="1143.40" width="23.70" height="47.93" fill="none" stroke="#000" stroke-opacity="0.72" stroke-width="1.3"/>
<text x="1425.5" y="1363.5" font-family="'Liberation Serif', 'DejaVu Serif', serif" font-size="11.5" font-weight="bold" text-anchor="middle" fill="#000">8</text>
<rect x="1442.18" y="1284.15" width="23.70" height="62.35" fill="#555555"/>
<rect x="1442.18" y="1277.24" width="23.70" height="6.91" fill="#5d87ee"/>
<rect x="1442.18" y="1192.55" width="23.70" height="84.69" fill="#e24b34"/>
<rect x="1442.18" y="1143.40" width="23.70" height="49.15" fill="#d8d050"/>
<rect x="1442.18" y="1284.15" width="23.70" height="62.35" fill="none" stroke="#000" stroke-opacity="0.72" stroke-width="1.3"/>
<rect x="1442.18" y="1277.24" width="23.70" height="6.91" fill="none" stroke="#000" stroke-opacity="0.72" stroke-width="1.3"/>
<rect x="1442.18" y="1192.55" width="23.70" height="84.69" fill="none" stroke="#000" stroke-opacity="0.72" stroke-width="1.3"/>
<rect x="1442.18" y="1143.40" width="23.70" height="49.15" fill="none" stroke="#000" stroke-opacity="0.72" stroke-width="1.3"/>
<text x="1454.0" y="1363.5" font-family="'Liberation Serif', 'DejaVu Serif', serif" font-size="11.5" font-weight="bold" text-anchor="middle" fill="#000">9</text>
<rect x="1470.77" y="1281.51" width="23.70" height="64.99" fill="#555555"/>
<rect x="1470.77" y="1269.73" width="23.70" height="11.78" fill="#5d87ee"/>
<rect x="1470.77" y="1197.02" width="23.70" height="72.71" fill="#e24b34"/>
<rect x="1470.77" y="1143.40" width="23.70" height="53.62" fill="#d8d050"/>
<rect x="1470.77" y="1281.51" width="23.70" height="64.99" fill="none" stroke="#000" stroke-opacity="0.72" stroke-width="1.3"/>
<rect x="1470.77" y="1269.73" width="23.70" height="11.78" fill="none" stroke="#000" stroke-opacity="0.72" stroke-width="1.3"/>
<rect x="1470.77" y="1197.02" width="23.70" height="72.71" fill="none" stroke="#000" stroke-opacity="0.72" stroke-width="1.3"/>
<rect x="1470.77" y="1143.40" width="23.70" height="53.62" fill="none" stroke="#000" stroke-opacity="0.72" stroke-width="1.3"/>
<text x="1482.6" y="1363.5" font-family="'Liberation Serif', 'DejaVu Serif', serif" font-size="11.5" font-weight="bold" text-anchor="middle" fill="#000" textLength="11.5" lengthAdjust="spacingAndGlyphs">10</text>
<line x1="1168.2" y1="1141.4" x2="1168.2" y2="1346.5" stroke="#3c3c3c" stroke-width="1.2"/>
<line x1="1511.2" y1="1141.4" x2="1511.2" y2="1346.5" stroke="#3c3c3c" stroke-width="1.2"/>
<line x1="1168.2" y1="1346.5" x2="1511.2" y2="1346.5" stroke="#3c3c3c" stroke-width="1.3"/>
<line x1="1168.2" y1="1346.50" x2="1172.2" y2="1346.50" stroke="#3c3c3c" stroke-width="1.3"/>
<line x1="1511.2" y1="1346.50" x2="1507.2" y2="1346.50" stroke="#3c3c3c" stroke-width="1.3"/>
<line x1="1168.2" y1="1336.35" x2="1170.4" y2="1336.35" stroke="#3c3c3c" stroke-width="1.3"/>
<line x1="1511.2" y1="1336.35" x2="1509.0" y2="1336.35" stroke="#3c3c3c" stroke-width="1.3"/>
<line x1="1168.2" y1="1326.19" x2="1170.4" y2="1326.19" stroke="#3c3c3c" stroke-width="1.3"/>
<line x1="1511.2" y1="1326.19" x2="1509.0" y2="1326.19" stroke="#3c3c3c" stroke-width="1.3"/>
<line x1="1168.2" y1="1316.04" x2="1170.4" y2="1316.04" stroke="#3c3c3c" stroke-width="1.3"/>
<line x1="1511.2" y1="1316.04" x2="1509.0" y2="1316.04" stroke="#3c3c3c" stroke-width="1.3"/>
<line x1="1168.2" y1="1305.88" x2="1172.2" y2="1305.88" stroke="#3c3c3c" stroke-width="1.3"/>
<line x1="1511.2" y1="1305.88" x2="1507.2" y2="1305.88" stroke="#3c3c3c" stroke-width="1.3"/>
<line x1="1168.2" y1="1295.72" x2="1170.4" y2="1295.72" stroke="#3c3c3c" stroke-width="1.3"/>
<line x1="1511.2" y1="1295.72" x2="1509.0" y2="1295.72" stroke="#3c3c3c" stroke-width="1.3"/>
<line x1="1168.2" y1="1285.57" x2="1170.4" y2="1285.57" stroke="#3c3c3c" stroke-width="1.3"/>
<line x1="1511.2" y1="1285.57" x2="1509.0" y2="1285.57" stroke="#3c3c3c" stroke-width="1.3"/>
<line x1="1168.2" y1="1275.41" x2="1170.4" y2="1275.41" stroke="#3c3c3c" stroke-width="1.3"/>
<line x1="1511.2" y1="1275.41" x2="1509.0" y2="1275.41" stroke="#3c3c3c" stroke-width="1.3"/>
<line x1="1168.2" y1="1265.26" x2="1172.2" y2="1265.26" stroke="#3c3c3c" stroke-width="1.3"/>
<line x1="1511.2" y1="1265.26" x2="1507.2" y2="1265.26" stroke="#3c3c3c" stroke-width="1.3"/>
<line x1="1168.2" y1="1255.11" x2="1170.4" y2="1255.11" stroke="#3c3c3c" stroke-width="1.3"/>
<line x1="1511.2" y1="1255.11" x2="1509.0" y2="1255.11" stroke="#3c3c3c" stroke-width="1.3"/>
<line x1="1168.2" y1="1244.95" x2="1170.4" y2="1244.95" stroke="#3c3c3c" stroke-width="1.3"/>
<line x1="1511.2" y1="1244.95" x2="1509.0" y2="1244.95" stroke="#3c3c3c" stroke-width="1.3"/>
<line x1="1168.2" y1="1234.80" x2="1170.4" y2="1234.80" stroke="#3c3c3c" stroke-width="1.3"/>
<line x1="1511.2" y1="1234.80" x2="1509.0" y2="1234.80" stroke="#3c3c3c" stroke-width="1.3"/>
<line x1="1168.2" y1="1224.64" x2="1172.2" y2="1224.64" stroke="#3c3c3c" stroke-width="1.3"/>
<line x1="1511.2" y1="1224.64" x2="1507.2" y2="1224.64" stroke="#3c3c3c" stroke-width="1.3"/>
<line x1="1168.2" y1="1214.49" x2="1170.4" y2="1214.49" stroke="#3c3c3c" stroke-width="1.3"/>
<line x1="1511.2" y1="1214.49" x2="1509.0" y2="1214.49" stroke="#3c3c3c" stroke-width="1.3"/>
<line x1="1168.2" y1="1204.33" x2="1170.4" y2="1204.33" stroke="#3c3c3c" stroke-width="1.3"/>
<line x1="1511.2" y1="1204.33" x2="1509.0" y2="1204.33" stroke="#3c3c3c" stroke-width="1.3"/>
<line x1="1168.2" y1="1194.18" x2="1170.4" y2="1194.18" stroke="#3c3c3c" stroke-width="1.3"/>
<line x1="1511.2" y1="1194.18" x2="1509.0" y2="1194.18" stroke="#3c3c3c" stroke-width="1.3"/>
<line x1="1168.2" y1="1184.02" x2="1172.2" y2="1184.02" stroke="#3c3c3c" stroke-width="1.3"/>
<line x1="1511.2" y1="1184.02" x2="1507.2" y2="1184.02" stroke="#3c3c3c" stroke-width="1.3"/>
<line x1="1168.2" y1="1173.87" x2="1170.4" y2="1173.87" stroke="#3c3c3c" stroke-width="1.3"/>
<line x1="1511.2" y1="1173.87" x2="1509.0" y2="1173.87" stroke="#3c3c3c" stroke-width="1.3"/>
<line x1="1168.2" y1="1163.71" x2="1170.4" y2="1163.71" stroke="#3c3c3c" stroke-width="1.3"/>
<line x1="1511.2" y1="1163.71" x2="1509.0" y2="1163.71" stroke="#3c3c3c" stroke-width="1.3"/>
<line x1="1168.2" y1="1153.56" x2="1170.4" y2="1153.56" stroke="#3c3c3c" stroke-width="1.3"/>
<line x1="1511.2" y1="1153.56" x2="1509.0" y2="1153.56" stroke="#3c3c3c" stroke-width="1.3"/>
<line x1="1168.2" y1="1143.40" x2="1172.2" y2="1143.40" stroke="#3c3c3c" stroke-width="1.3"/>
<line x1="1511.2" y1="1143.40" x2="1507.2" y2="1143.40" stroke="#3c3c3c" stroke-width="1.3"/>
<text x="1165.0" y="1353.7" font-family="'Liberation Serif', 'DejaVu Serif', serif" font-size="15" font-weight="normal" text-anchor="end" fill="#000">0</text>
<text x="1165.0" y="1313.1" font-family="'Liberation Serif', 'DejaVu Serif', serif" font-size="15" font-weight="normal" text-anchor="end" fill="#000">20</text>
<text x="1165.0" y="1272.5" font-family="'Liberation Serif', 'DejaVu Serif', serif" font-size="15" font-weight="normal" text-anchor="end" fill="#000">40</text>
<text x="1165.0" y="1231.8" font-family="'Liberation Serif', 'DejaVu Serif', serif" font-size="15" font-weight="normal" text-anchor="end" fill="#000">60</text>
<text x="1165.0" y="1191.2" font-family="'Liberation Serif', 'DejaVu Serif', serif" font-size="15" font-weight="normal" text-anchor="end" fill="#000">80</text>
<text x="1165.0" y="1150.6" font-family="'Liberation Serif', 'DejaVu Serif', serif" font-size="15" font-weight="normal" text-anchor="end" fill="#000" textLength="23.0" lengthAdjust="spacingAndGlyphs">100</text>
<text x="1306.1" y="1134.0" font-family="'Liberation Serif', 'DejaVu Serif', serif" font-size="19.5" font-weight="normal" text-anchor="start" fill="#000" textLength="93.6" lengthAdjust="spacingAndGlyphs">Sequence 4</text>
<text x="1299.7" y="1382.7" font-family="'Liberation Serif', 'DejaVu Serif', serif" font-size="18.5" font-weight="normal" text-anchor="start" fill="#000" textLength="104.6" lengthAdjust="spacingAndGlyphs">Conformation</text>
<rect x="1557.63" y="1284.76" width="23.70" height="61.74" fill="#c9c9c9"/>
<rect x="1557.63" y="1259.78" width="23.70" height="24.98" fill="#cddcf5"/>
<rect x="1557.63" y="1198.03" width="23.70" height="61.74" fill="#eec8c4"/>
<rect x="1557.63" y="1143.40" width="23.70" height="54.63" fill="#f1f0ca"/>
<rect x="1557.63" y="1284.76" width="23.70" height="61.74" fill="none" stroke="#3a3a3a" stroke-width="1.4" stroke-dasharray="4,3.2"/>
<rect x="1557.63" y="1259.78" width="23.70" height="24.98" fill="none" stroke="#3a3a3a" stroke-width="1.4" stroke-dasharray="4,3.2"/>
<rect x="1557.63" y="1198.03" width="23.70" height="61.74" fill="none" stroke="#3a3a3a" stroke-width="1.4" stroke-dasharray="4,3.2"/>
<rect x="1557.63" y="1143.40" width="23.70" height="54.63" fill="none" stroke="#3a3a3a" stroke-width="1.4" stroke-dasharray="4,3.2"/>
<rect x="1586.22" y="1285.77" width="23.70" height="60.73" fill="#555555"/>
<rect x="1586.22" y="1258.76" width="23.70" height="27.01" fill="#5d87ee"/>
<rect x="1586.22" y="1200.88" width="23.70" height="57.88" fill="#e24b34"/>
<rect x="1586.22" y="1143.40" width="23.70" height="57.48" fill="#d8d050"/>
<rect x="1586.22" y="1285.77" width="23.70" height="60.73" fill="none" stroke="#000" stroke-opacity="0.72" stroke-width="1.3"/>
<rect x="1586.22" y="1258.76" width="23.70" height="27.01" fill="none" stroke="#000" stroke-opacity="0.72" stroke-width="1.3"/>
<rect x="1586.22" y="1200.88" width="23.70" height="57.88" fill="none" stroke="#000" stroke-opacity="0.72" stroke-width="1.3"/>
<rect x="1586.22" y="1143.40" width="23.70" height="57.48" fill="none" stroke="#000" stroke-opacity="0.72" stroke-width="1.3"/>
<text x="1598.1" y="1363.5" font-family="'Liberation Serif', 'DejaVu Serif', serif" font-size="11.5" font-weight="bold" text-anchor="middle" fill="#000">1</text>
<rect x="1614.80" y="1285.16" width="23.70" height="61.34" fill="#555555"/>
<rect x="1614.80" y="1259.78" width="23.70" height="25.39" fill="#5d87ee"/>
<rect x="1614.80" y="1202.71" width="23.70" height="57.07" fill="#e24b34"/>
<rect x="1614.80" y="1143.40" width="23.70" height="59.31" fill="#d8d050"/>
<rect x="1614.80" y="1285.16" width="23.70" height="61.34" fill="none" stroke="#000" stroke-opacity="0.72" stroke-width="1.3"/>
<rect x="1614.80" y="1259.78" width="23.70" height="25.39" fill="none" stroke="#000" stroke-opacity="0.72" stroke-width="1.3"/>
<rect x="1614.80" y="1202.71" width="23.70" height="57.07" fill="none" stroke="#000" stroke-opacity="0.72" stroke-width="1.3"/>
<rect x="1614.80" y="1143.40" width="23.70" height="59.31" fill="none" stroke="#000" stroke-opacity="0.72" stroke-width="1.3"/>
<text x="1626.7" y="1363.5" font-family="'Liberation Serif', 'DejaVu Serif', serif" font-size="11.5" font-weight="bold" text-anchor="middle" fill="#000">2</text>
<rect x="1643.38" y="1288.82" width="23.70" height="57.68" fill="#555555"/>
<rect x="1643.38" y="1256.93" width="23.70" height="31.89" fill="#5d87ee"/>
<rect x="1643.38" y="1199.05" width="23.70" height="57.88" fill="#e24b34"/>
<rect x="1643.38" y="1143.40" width="23.70" height="55.65" fill="#d8d050"/>
<rect x="1643.38" y="1288.82" width="23.70" height="57.68" fill="none" stroke="#000" stroke-opacity="0.72" stroke-width="1.3"/>
<rect x="1643.38" y="1256.93" width="23.70" height="31.89" fill="none" stroke="#000" stroke-opacity="0.72" stroke-width="1.3"/>
<rect x="1643.38" y="1199.05" width="23.70" height="57.88" fill="none" stroke="#000" stroke-opacity="0.72" stroke-width="1.3"/>
<rect x="1643.38" y="1143.40" width="23.70" height="55.65" fill="none" stroke="#000" stroke-opacity="0.72" stroke-width="1.3"/>
<text x="1655.2" y="1363.5" font-family="'Liberation Serif', 'DejaVu Serif', serif" font-size="11.5" font-weight="bold" text-anchor="middle" fill="#000">3</text>
<rect x="1671.97" y="1292.48" width="23.70" height="54.02" fill="#555555"/>
<rect x="1671.97" y="1263.64" width="23.70" height="28.84" fill="#5d87ee"/>
<rect x="1671.97" y="1203.72" width="23.70" height="59.91" fill="#e24b34"/>
<rect x="1671.97" y="1143.40" width="23.70" height="60.32" fill="#d8d050"/>
<rect x="1671.97" y="1292.48" width="23.70" height="54.02" fill="none" stroke="#000" stroke-opacity="0.72" stroke-width="1.3"/>
<rect x="1671.97" y="1263.64" width="23.70" height="28.84" fill="none" stroke="#000" stroke-opacity="0.72" stroke-width="1.3"/>
<rect x="1671.97" y="1203.72" width="23.70" height="59.91" fill="none" stroke="#000" stroke-opacity="0.72" stroke-width="1.3"/>
<rect x="1671.97" y="1143.40" width="23.70" height="60.32" fill="none" stroke="#000" stroke-opacity="0.72" stroke-width="1.3"/>
<text x="1683.8" y="1363.5" font-family="'Liberation Serif', 'DejaVu Serif', serif" font-size="11.5" font-weight="bold" text-anchor="middle" fill="#000">4</text>
<rect x="1700.55" y="1286.79" width="23.70" height="59.71" fill="#555555"/>
<rect x="1700.55" y="1258.35" width="23.70" height="28.43" fill="#5d87ee"/>
<rect x="1700.55" y="1206.87" width="23.70" height="51.49" fill="#e24b34"/>
<rect x="1700.55" y="1143.40" width="23.70" height="63.47" fill="#d8d050"/>
<rect x="1700.55" y="1286.79" width="23.70" height="59.71" fill="none" stroke="#000" stroke-opacity="0.72" stroke-width="1.3"/>
<rect x="1700.55" y="1258.35" width="23.70" height="28.43" fill="none" stroke="#000" stroke-opacity="0.72" stroke-width="1.3"/>
<rect x="1700.55" y="1206.87" width="23.70" height="51.49" fill="none" stroke="#000" stroke-opacity="0.72" stroke-width="1.3"/>
<rect x="1700.55" y="1143.40" width="23.70" height="63.47" fill="none" stroke="#000" stroke-opacity="0.72" stroke-width="1.3"/>
<text x="1712.4" y="1363.5" font-family="'Liberation Serif', 'DejaVu Serif', serif" font-size="11.5" font-weight="bold" text-anchor="middle" fill="#000">5</text>
<rect x="1729.13" y="1291.05" width="23.70" height="55.45" fill="#555555"/>
<rect x="1729.13" y="1263.64" width="23.70" height="27.42" fill="#5d87ee"/>
<rect x="1729.13" y="1203.72" width="23.70" height="59.91" fill="#e24b34"/>
<rect x="1729.13" y="1143.40" width="23.70" height="60.32" fill="#d8d050"/>
<rect x="1729.13" y="1291.05" width="23.70" height="55.45" fill="none" stroke="#000" stroke-opacity="0.72" stroke-width="1.3"/>
<rect x="1729.13" y="1263.64" width="23.70" height="27.42" fill="none" stroke="#000" stroke-opacity="0.72" stroke-width="1.3"/>
<rect x="1729.13" y="1203.72" width="23.70" height="59.91" fill="none" stroke="#000" stroke-opacity="0.72" stroke-width="1.3"/>
<rect x="1729.13" y="1143.40" width="23.70" height="60.32" fill="none" stroke="#000" stroke-opacity="0.72" stroke-width="1.3"/>
<text x="1741.0" y="1363.5" font-family="'Liberation Serif', 'DejaVu Serif', serif" font-size="11.5" font-weight="bold" text-anchor="middle" fill="#000">6</text>
<rect x="1757.72" y="1290.04" width="23.70" height="56.46" fill="#555555"/>
<rect x="1757.72" y="1260.79" width="23.70" height="29.25" fill="#5d87ee"/>
<rect x="1757.72" y="1198.44" width="23.70" height="62.35" fill="#e24b34"/>
<rect x="1757.72" y="1143.40" width="23.70" height="55.04" fill="#d8d050"/>
<rect x="1757.72" y="1290.04" width="23.70" height="56.46" fill="none" stroke="#000" stroke-opacity="0.72" stroke-width="1.3"/>
<rect x="1757.72" y="1260.79" width="23.70" height="29.25" fill="none" stroke="#000" stroke-opacity="0.72" stroke-width="1.3"/>
<rect x="1757.72" y="1198.44" width="23.70" height="62.35" fill="none" stroke="#000" stroke-opacity="0.72" stroke-width="1.3"/>
<rect x="1757.72" y="1143.40" width="23.70" height="55.04" fill="none" stroke="#000" stroke-opacity="0.72" stroke-width="1.3"/>
<text x="1769.6" y="1363.5" font-family="'Liberation Serif', 'DejaVu Serif', serif" font-size="11.5" font-weight="bold" text-anchor="middle" fill="#000">7</text>
<rect x="1786.30" y="1287.80" width="23.70" height="58.70" fill="#555555"/>
<rect x="1786.30" y="1259.78" width="23.70" height="28.03" fill="#5d87ee"/>
<rect x="1786.30" y="1199.05" width="23.70" height="60.73" fill="#e24b34"/>
<rect x="1786.30" y="1143.40" width="23.70" height="55.65" fill="#d8d050"/>
<rect x="1786.30" y="1287.80" width="23.70" height="58.70" fill="none" stroke="#000" stroke-opacity="0.72" stroke-width="1.3"/>
<rect x="1786.30" y="1259.78" width="23.70" height="28.03" fill="none" stroke="#000" stroke-opacity="0.72" stroke-width="1.3"/>
<rect x="1786.30" y="1199.05" width="23.70" height="60.73" fill="none" stroke="#000" stroke-opacity="0.72" stroke-width="1.3"/>
<rect x="1786.30" y="1143.40" width="23.70" height="55.65" fill="none" stroke="#000" stroke-opacity="0.72" stroke-width="1.3"/>
<text x="1798.2" y="1363.5" font-family="'Liberation Serif', 'DejaVu Serif', serif" font-size="11.5" font-weight="bold" text-anchor="middle" fill="#000">8</text>
<rect x="1814.88" y="1286.79" width="23.70" height="59.71" fill="#555555"/>
<rect x="1814.88" y="1258.76" width="23.70" height="28.03" fill="#5d87ee"/>
<rect x="1814.88" y="1200.88" width="23.70" height="57.88" fill="#e24b34"/>
<rect x="1814.88" y="1143.40" width="23.70" height="57.48" fill="#d8d050"/>
<rect x="1814.88" y="1286.79" width="23.70" height="59.71" fill="none" stroke="#000" stroke-opacity="0.72" stroke-width="1.3"/>
<rect x="1814.88" y="1258.76" width="23.70" height="28.03" fill="none" stroke="#000" stroke-opacity="0.72" stroke-width="1.3"/>
<rect x="1814.88" y="1200.88" width="23.70" height="57.88" fill="none" stroke="#000" stroke-opacity="0.72" stroke-width="1.3"/>
<rect x="1814.88" y="1143.40" width="23.70" height="57.48" fill="none" stroke="#000" stroke-opacity="0.72" stroke-width="1.3"/>
<text x="1826.7" y="1363.5" font-family="'Liberation Serif', 'DejaVu Serif', serif" font-size="11.5" font-weight="bold" text-anchor="middle" fill="#000">9</text>
<rect x="1843.47" y="1284.55" width="23.70" height="61.95" fill="#555555"/>
<rect x="1843.47" y="1256.93" width="23.70" height="27.62" fill="#5d87ee"/>
<rect x="1843.47" y="1203.11" width="23.70" height="53.82" fill="#e24b34"/>
<rect x="1843.47" y="1143.40" width="23.70" height="59.71" fill="#d8d050"/>
<rect x="1843.47" y="1284.55" width="23.70" height="61.95" fill="none" stroke="#000" stroke-opacity="0.72" stroke-width="1.3"/>
<rect x="1843.47" y="1256.93" width="23.70" height="27.62" fill="none" stroke="#000" stroke-opacity="0.72" stroke-width="1.3"/>
<rect x="1843.47" y="1203.11" width="23.70" height="53.82" fill="none" stroke="#000" stroke-opacity="0.72" stroke-width="1.3"/>
<rect x="1843.47" y="1143.40" width="23.70" height="59.71" fill="none" stroke="#000" stroke-opacity="0.72" stroke-width="1.3"/>
<text x="1855.3" y="1363.5" font-family="'Liberation Serif', 'DejaVu Serif', serif" font-size="11.5" font-weight="bold" text-anchor="middle" fill="#000" textLength="11.5" lengthAdjust="spacingAndGlyphs">10</text>
<line x1="1540.9" y1="1141.4" x2="1540.9" y2="1346.5" stroke="#3c3c3c" stroke-width="1.2"/>
<line x1="1883.9" y1="1141.4" x2="1883.9" y2="1346.5" stroke="#3c3c3c" stroke-width="1.2"/>
<line x1="1540.9" y1="1346.5" x2="1883.9" y2="1346.5" stroke="#3c3c3c" stroke-width="1.3"/>
<line x1="1540.9" y1="1346.50" x2="1544.9" y2="1346.50" stroke="#3c3c3c" stroke-width="1.3"/>
<line x1="1883.9" y1="1346.50" x2="1879.9" y2="1346.50" stroke="#3c3c3c" stroke-width="1.3"/>
<line x1="1540.9" y1="1336.35" x2="1543.1000000000001" y2="1336.35" stroke="#3c3c3c" stroke-width="1.3"/>
<line x1="1883.9" y1="1336.35" x2="1881.7" y2="1336.35" stroke="#3c3c3c" stroke-width="1.3"/>
<line x1="1540.9" y1="1326.19" x2="1543.1000000000001" y2="1326.19" stroke="#3c3c3c" stroke-width="1.3"/>
<line x1="1883.9" y1="1326.19" x2="1881.7" y2="1326.19" stroke="#3c3c3c" stroke-width="1.3"/>
<line x1="1540.9" y1="1316.04" x2="1543.1000000000001" y2="1316.04" stroke="#3c3c3c" stroke-width="1.3"/>
<line x1="1883.9" y1="1316.04" x2="1881.7" y2="1316.04" stroke="#3c3c3c" stroke-width="1.3"/>
<line x1="1540.9" y1="1305.88" x2="1544.9" y2="1305.88" stroke="#3c3c3c" stroke-width="1.3"/>
<line x1="1883.9" y1="1305.88" x2="1879.9" y2="1305.88" stroke="#3c3c3c" stroke-width="1.3"/>
<line x1="1540.9" y1="1295.72" x2="1543.1000000000001" y2="1295.72" stroke="#3c3c3c" stroke-width="1.3"/>
<line x1="1883.9" y1="1295.72" x2="1881.7" y2="1295.72" stroke="#3c3c3c" stroke-width="1.3"/>
<line x1="1540.9" y1="1285.57" x2="1543.1000000000001" y2="1285.57" stroke="#3c3c3c" stroke-width="1.3"/>
<line x1="1883.9" y1="1285.57" x2="1881.7" y2="1285.57" stroke="#3c3c3c" stroke-width="1.3"/>
<line x1="1540.9" y1="1275.41" x2="1543.1000000000001" y2="1275.41" stroke="#3c3c3c" stroke-width="1.3"/>
<line x1="1883.9" y1="1275.41" x2="1881.7" y2="1275.41" stroke="#3c3c3c" stroke-width="1.3"/>
<line x1="1540.9" y1="1265.26" x2="1544.9" y2="1265.26" stroke="#3c3c3c" stroke-width="1.3"/>
<line x1="1883.9" y1="1265.26" x2="1879.9" y2="1265.26" stroke="#3c3c3c" stroke-width="1.3"/>
<line x1="1540.9" y1="1255.11" x2="1543.1000000000001" y2="1255.11" stroke="#3c3c3c" stroke-width="1.3"/>
<line x1="1883.9" y1="1255.11" x2="1881.7" y2="1255.11" stroke="#3c3c3c" stroke-width="1.3"/>
<line x1="1540.9" y1="1244.95" x2="1543.1000000000001" y2="1244.95" stroke="#3c3c3c" stroke-width="1.3"/>
<line x1="1883.9" y1="1244.95" x2="1881.7" y2="1244.95" stroke="#3c3c3c" stroke-width="1.3"/>
<line x1="1540.9" y1="1234.80" x2="1543.1000000000001" y2="1234.80" stroke="#3c3c3c" stroke-width="1.3"/>
<line x1="1883.9" y1="1234.80" x2="1881.7" y2="1234.80" stroke="#3c3c3c" stroke-width="1.3"/>
<line x1="1540.9" y1="1224.64" x2="1544.9" y2="1224.64" stroke="#3c3c3c" stroke-width="1.3"/>
<line x1="1883.9" y1="1224.64" x2="1879.9" y2="1224.64" stroke="#3c3c3c" stroke-width="1.3"/>
<line x1="1540.9" y1="1214.49" x2="1543.1000000000001" y2="1214.49" stroke="#3c3c3c" stroke-width="1.3"/>
<line x1="1883.9" y1="1214.49" x2="1881.7" y2="1214.49" stroke="#3c3c3c" stroke-width="1.3"/>
<line x1="1540.9" y1="1204.33" x2="1543.1000000000001" y2="1204.33" stroke="#3c3c3c" stroke-width="1.3"/>
<line x1="1883.9" y1="1204.33" x2="1881.7" y2="1204.33" stroke="#3c3c3c" stroke-width="1.3"/>
<line x1="1540.9" y1="1194.18" x2="1543.1000000000001" y2="1194.18" stroke="#3c3c3c" stroke-width="1.3"/>
<line x1="1883.9" y1="1194.18" x2="1881.7" y2="1194.18" stroke="#3c3c3c" stroke-width="1.3"/>
<line x1="1540.9" y1="1184.02" x2="1544.9" y2="1184.02" stroke="#3c3c3c" stroke-width="1.3"/>
<line x1="1883.9" y1="1184.02" x2="1879.9" y2="1184.02" stroke="#3c3c3c" stroke-width="1.3"/>
<line x1="1540.9" y1="1173.87" x2="1543.1000000000001" y2="1173.87" stroke="#3c3c3c" stroke-width="1.3"/>
<line x1="1883.9" y1="1173.87" x2="1881.7" y2="1173.87" stroke="#3c3c3c" stroke-width="1.3"/>
<line x1="1540.9" y1="1163.71" x2="1543.1000000000001" y2="1163.71" stroke="#3c3c3c" stroke-width="1.3"/>
<line x1="1883.9" y1="1163.71" x2="1881.7" y2="1163.71" stroke="#3c3c3c" stroke-width="1.3"/>
<line x1="1540.9" y1="1153.56" x2="1543.1000000000001" y2="1153.56" stroke="#3c3c3c" stroke-width="1.3"/>
<line x1="1883.9" y1="1153.56" x2="1881.7" y2="1153.56" stroke="#3c3c3c" stroke-width="1.3"/>
<line x1="1540.9" y1="1143.40" x2="1544.9" y2="1143.40" stroke="#3c3c3c" stroke-width="1.3"/>
<line x1="1883.9" y1="1143.40" x2="1879.9" y2="1143.40" stroke="#3c3c3c" stroke-width="1.3"/>
<text x="1537.7" y="1353.7" font-family="'Liberation Serif', 'DejaVu Serif', serif" font-size="15" font-weight="normal" text-anchor="end" fill="#000">0</text>
<text x="1537.7" y="1313.1" font-family="'Liberation Serif', 'DejaVu Serif', serif" font-size="15" font-weight="normal" text-anchor="end" fill="#000">20</text>
<text x="1537.7" y="1272.5" font-family="'Liberation Serif', 'DejaVu Serif', serif" font-size="15" font-weight="normal" text-anchor="end" fill="#000">40</text>
<text x="1537.7" y="1231.8" font-family="'Liberation Serif', 'DejaVu Serif', serif" font-size="15" font-weight="normal" text-anchor="end" fill="#000">60</text>
<text x="1537.7" y="1191.2" font-family="'Liberation Serif', 'DejaVu Serif', serif" font-size="15" font-weight="normal" text-anchor="end" fill="#000">80</text>
<text x="1537.7" y="1150.6" font-family="'Liberation Serif', 'DejaVu Serif', serif" font-size="15" font-weight="normal" text-anchor="end" fill="#000" textLength="23.0" lengthAdjust="spacingAndGlyphs">100</text>
<text x="1680.6" y="1134.0" font-family="'Liberation Serif', 'DejaVu Serif', serif" font-size="19.5" font-weight="normal" text-anchor="start" fill="#000" textLength="94.3" lengthAdjust="spacingAndGlyphs">Sequence 5</text>
<text x="1672.2" y="1382.7" font-family="'Liberation Serif', 'DejaVu Serif', serif" font-size="18.5" font-weight="normal" text-anchor="start" fill="#000" textLength="105.2" lengthAdjust="spacingAndGlyphs">Conformation</text>
<rect x="64.33" y="1581.66" width="23.70" height="47.14" fill="#c9c9c9"/>
<rect x="64.33" y="1541.83" width="23.70" height="39.83" fill="#cddcf5"/>
<rect x="64.33" y="1465.63" width="23.70" height="76.20" fill="#eec8c4"/>
<rect x="64.33" y="1425.60" width="23.70" height="40.03" fill="#f1f0ca"/>
<rect x="64.33" y="1581.66" width="23.70" height="47.14" fill="none" stroke="#3a3a3a" stroke-width="1.4" stroke-dasharray="4,3.2"/>
<rect x="64.33" y="1541.83" width="23.70" height="39.83" fill="none" stroke="#3a3a3a" stroke-width="1.4" stroke-dasharray="4,3.2"/>
<rect x="64.33" y="1465.63" width="23.70" height="76.20" fill="none" stroke="#3a3a3a" stroke-width="1.4" stroke-dasharray="4,3.2"/>
<rect x="64.33" y="1425.60" width="23.70" height="40.03" fill="none" stroke="#3a3a3a" stroke-width="1.4" stroke-dasharray="4,3.2"/>
<rect x="92.92" y="1581.66" width="23.70" height="47.14" fill="#555555"/>
<rect x="92.92" y="1534.52" width="23.70" height="47.14" fill="#5d87ee"/>
<rect x="92.92" y="1469.69" width="23.70" height="64.82" fill="#e24b34"/>
<rect x="92.92" y="1425.60" width="23.70" height="44.09" fill="#d8d050"/>
<rect x="92.92" y="1581.66" width="23.70" height="47.14" fill="none" stroke="#000" stroke-opacity="0.72" stroke-width="1.3"/>
<rect x="92.92" y="1534.52" width="23.70" height="47.14" fill="none" stroke="#000" stroke-opacity="0.72" stroke-width="1.3"/>
<rect x="92.92" y="1469.69" width="23.70" height="64.82" fill="none" stroke="#000" stroke-opacity="0.72" stroke-width="1.3"/>
<rect x="92.92" y="1425.60" width="23.70" height="44.09" fill="none" stroke="#000" stroke-opacity="0.72" stroke-width="1.3"/>
<text x="104.8" y="1646.0" font-family="'Liberation Serif', 'DejaVu Serif', serif" font-size="11.5" font-weight="bold" text-anchor="middle" fill="#000">1</text>
<rect x="121.50" y="1582.67" width="23.70" height="46.13" fill="#555555"/>
<rect x="121.50" y="1537.56" width="23.70" height="45.11" fill="#5d87ee"/>
<rect x="121.50" y="1471.12" width="23.70" height="66.45" fill="#e24b34"/>
<rect x="121.50" y="1425.60" width="23.70" height="45.52" fill="#d8d050"/>
<rect x="121.50" y="1582.67" width="23.70" height="46.13" fill="none" stroke="#000" stroke-opacity="0.72" stroke-width="1.3"/>
<rect x="121.50" y="1537.56" width="23.70" height="45.11" fill="none" stroke="#000" stroke-opacity="0.72" stroke-width="1.3"/>
<rect x="121.50" y="1471.12" width="23.70" height="66.45" fill="none" stroke="#000" stroke-opacity="0.72" stroke-width="1.3"/>
<rect x="121.50" y="1425.60" width="23.70" height="45.52" fill="none" stroke="#000" stroke-opacity="0.72" stroke-width="1.3"/>
<text x="133.3" y="1646.0" font-family="'Liberation Serif', 'DejaVu Serif', serif" font-size="11.5" font-weight="bold" text-anchor="middle" fill="#000">2</text>
<rect x="150.08" y="1582.27" width="23.70" height="46.53" fill="#555555"/>
<rect x="150.08" y="1538.78" width="23.70" height="43.48" fill="#5d87ee"/>
<rect x="150.08" y="1471.12" width="23.70" height="67.67" fill="#e24b34"/>
<rect x="150.08" y="1425.60" width="23.70" height="45.52" fill="#d8d050"/>
<rect x="150.08" y="1582.27" width="23.70" height="46.53" fill="none" stroke="#000" stroke-opacity="0.72" stroke-width="1.3"/>
<rect x="150.08" y="1538.78" width="23.70" height="43.48" fill="none" stroke="#000" stroke-opacity="0.72" stroke-width="1.3"/>
<rect x="150.08" y="1471.12" width="23.70" height="67.67" fill="none" stroke="#000" stroke-opacity="0.72" stroke-width="1.3"/>
<rect x="150.08" y="1425.60" width="23.70" height="45.52" fill="none" stroke="#000" stroke-opacity="0.72" stroke-width="1.3"/>
<text x="161.9" y="1646.0" font-family="'Liberation Serif', 'DejaVu Serif', serif" font-size="11.5" font-weight="bold" text-anchor="middle" fill="#000">3</text>
<rect x="178.67" y="1587.35" width="23.70" height="41.45" fill="#555555"/>
<rect x="178.67" y="1541.42" width="23.70" height="45.92" fill="#5d87ee"/>
<rect x="178.67" y="1469.08" width="23.70" height="72.34" fill="#e24b34"/>
<rect x="178.67" y="1425.60" width="23.70" height="43.48" fill="#d8d050"/>
<rect x="178.67" y="1587.35" width="23.70" height="41.45" fill="none" stroke="#000" stroke-opacity="0.72" stroke-width="1.3"/>
<rect x="178.67" y="1541.42" width="23.70" height="45.92" fill="none" stroke="#000" stroke-opacity="0.72" stroke-width="1.3"/>
<rect x="178.67" y="1469.08" width="23.70" height="72.34" fill="none" stroke="#000" stroke-opacity="0.72" stroke-width="1.3"/>
<rect x="178.67" y="1425.60" width="23.70" height="43.48" fill="none" stroke="#000" stroke-opacity="0.72" stroke-width="1.3"/>
<text x="190.5" y="1646.0" font-family="'Liberation Serif', 'DejaVu Serif', serif" font-size="11.5" font-weight="bold" text-anchor="middle" fill="#000">4</text>
<rect x="207.25" y="1585.92" width="23.70" height="42.88" fill="#555555"/>
<rect x="207.25" y="1535.73" width="23.70" height="50.19" fill="#5d87ee"/>
<rect x="207.25" y="1470.51" width="23.70" height="65.23" fill="#e24b34"/>
<rect x="207.25" y="1425.60" width="23.70" height="44.91" fill="#d8d050"/>
<rect x="207.25" y="1585.92" width="23.70" height="42.88" fill="none" stroke="#000" stroke-opacity="0.72" stroke-width="1.3"/>
<rect x="207.25" y="1535.73" width="23.70" height="50.19" fill="none" stroke="#000" stroke-opacity="0.72" stroke-width="1.3"/>
<rect x="207.25" y="1470.51" width="23.70" height="65.23" fill="none" stroke="#000" stroke-opacity="0.72" stroke-width="1.3"/>
<rect x="207.25" y="1425.60" width="23.70" height="44.91" fill="none" stroke="#000" stroke-opacity="0.72" stroke-width="1.3"/>
<text x="219.1" y="1646.0" font-family="'Liberation Serif', 'DejaVu Serif', serif" font-size="11.5" font-weight="bold" text-anchor="middle" fill="#000">5</text>
<rect x="235.83" y="1584.71" width="23.70" height="44.09" fill="#555555"/>
<rect x="235.83" y="1538.58" width="23.70" height="46.13" fill="#5d87ee"/>
<rect x="235.83" y="1471.93" width="23.70" height="66.65" fill="#e24b34"/>
<rect x="235.83" y="1425.60" width="23.70" height="46.33" fill="#d8d050"/>
<rect x="235.83" y="1584.71" width="23.70" height="44.09" fill="none" stroke="#000" stroke-opacity="0.72" stroke-width="1.3"/>
<rect x="235.83" y="1538.58" width="23.70" height="46.13" fill="none" stroke="#000" stroke-opacity="0.72" stroke-width="1.3"/>
<rect x="235.83" y="1471.93" width="23.70" height="66.65" fill="none" stroke="#000" stroke-opacity="0.72" stroke-width="1.3"/>
<rect x="235.83" y="1425.60" width="23.70" height="46.33" fill="none" stroke="#000" stroke-opacity="0.72" stroke-width="1.3"/>
<text x="247.7" y="1646.0" font-family="'Liberation Serif', 'DejaVu Serif', serif" font-size="11.5" font-weight="bold" text-anchor="middle" fill="#000">6</text>
<rect x="264.42" y="1582.67" width="23.70" height="46.13" fill="#555555"/>
<rect x="264.42" y="1533.30" width="23.70" height="49.38" fill="#5d87ee"/>
<rect x="264.42" y="1469.90" width="23.70" height="63.40" fill="#e24b34"/>
<rect x="264.42" y="1425.60" width="23.70" height="44.30" fill="#d8d050"/>
<rect x="264.42" y="1582.67" width="23.70" height="46.13" fill="none" stroke="#000" stroke-opacity="0.72" stroke-width="1.3"/>
<rect x="264.42" y="1533.30" width="23.70" height="49.38" fill="none" stroke="#000" stroke-opacity="0.72" stroke-width="1.3"/>
<rect x="264.42" y="1469.90" width="23.70" height="63.40" fill="none" stroke="#000" stroke-opacity="0.72" stroke-width="1.3"/>
<rect x="264.42" y="1425.60" width="23.70" height="44.30" fill="none" stroke="#000" stroke-opacity="0.72" stroke-width="1.3"/>
<text x="276.3" y="1646.0" font-family="'Liberation Serif', 'DejaVu Serif', serif" font-size="11.5" font-weight="bold" text-anchor="middle" fill="#000">7</text>
<rect x="293.00" y="1583.08" width="23.70" height="45.72" fill="#555555"/>
<rect x="293.00" y="1541.42" width="23.70" height="41.66" fill="#5d87ee"/>
<rect x="293.00" y="1469.08" width="23.70" height="72.34" fill="#e24b34"/>
<rect x="293.00" y="1425.60" width="23.70" height="43.48" fill="#d8d050"/>
<rect x="293.00" y="1583.08" width="23.70" height="45.72" fill="none" stroke="#000" stroke-opacity="0.72" stroke-width="1.3"/>
<rect x="293.00" y="1541.42" width="23.70" height="41.66" fill="none" stroke="#000" stroke-opacity="0.72" stroke-width="1.3"/>
<rect x="293.00" y="1469.08" width="23.70" height="72.34" fill="none" stroke="#000" stroke-opacity="0.72" stroke-width="1.3"/>
<rect x="293.00" y="1425.60" width="23.70" height="43.48" fill="none" stroke="#000" stroke-opacity="0.72" stroke-width="1.3"/>
<text x="304.9" y="1646.0" font-family="'Liberation Serif', 'DejaVu Serif', serif" font-size="11.5" font-weight="bold" text-anchor="middle" fill="#000">8</text>
<rect x="321.58" y="1584.71" width="23.70" height="44.09" fill="#555555"/>
<rect x="321.58" y="1536.55" width="23.70" height="48.16" fill="#5d87ee"/>
<rect x="321.58" y="1469.90" width="23.70" height="66.65" fill="#e24b34"/>
<rect x="321.58" y="1425.60" width="23.70" height="44.30" fill="#d8d050"/>
<rect x="321.58" y="1584.71" width="23.70" height="44.09" fill="none" stroke="#000" stroke-opacity="0.72" stroke-width="1.3"/>
<rect x="321.58" y="1536.55" width="23.70" height="48.16" fill="none" stroke="#000" stroke-opacity="0.72" stroke-width="1.3"/>
<rect x="321.58" y="1469.90" width="23.70" height="66.65" fill="none" stroke="#000" stroke-opacity="0.72" stroke-width="1.3"/>
<rect x="321.58" y="1425.60" width="23.70" height="44.30" fill="none" stroke="#000" stroke-opacity="0.72" stroke-width="1.3"/>
<text x="333.4" y="1646.0" font-family="'Liberation Serif', 'DejaVu Serif', serif" font-size="11.5" font-weight="bold" text-anchor="middle" fill="#000">9</text>
<rect x="350.17" y="1585.11" width="23.70" height="43.69" fill="#555555"/>
<rect x="350.17" y="1541.83" width="23.70" height="43.28" fill="#5d87ee"/>
<rect x="350.17" y="1472.95" width="23.70" height="68.88" fill="#e24b34"/>
<rect x="350.17" y="1425.60" width="23.70" height="47.35" fill="#d8d050"/>
<rect x="350.17" y="1585.11" width="23.70" height="43.69" fill="none" stroke="#000" stroke-opacity="0.72" stroke-width="1.3"/>
<rect x="350.17" y="1541.83" width="23.70" height="43.28" fill="none" stroke="#000" stroke-opacity="0.72" stroke-width="1.3"/>
<rect x="350.17" y="1472.95" width="23.70" height="68.88" fill="none" stroke="#000" stroke-opacity="0.72" stroke-width="1.3"/>
<rect x="350.17" y="1425.60" width="23.70" height="47.35" fill="none" stroke="#000" stroke-opacity="0.72" stroke-width="1.3"/>
<text x="362.0" y="1646.0" font-family="'Liberation Serif', 'DejaVu Serif', serif" font-size="11.5" font-weight="bold" text-anchor="middle" fill="#000" textLength="11.5" lengthAdjust="spacingAndGlyphs">10</text>
<line x1="47.6" y1="1423.6" x2="47.6" y2="1628.8" stroke="#3c3c3c" stroke-width="1.2"/>
<line x1="390.6" y1="1423.6" x2="390.6" y2="1628.8" stroke="#3c3c3c" stroke-width="1.2"/>
<line x1="47.6" y1="1628.8" x2="390.6" y2="1628.8" stroke="#3c3c3c" stroke-width="1.3"/>
<line x1="47.6" y1="1628.80" x2="51.6" y2="1628.80" stroke="#3c3c3c" stroke-width="1.3"/>
<line x1="390.6" y1="1628.80" x2="386.6" y2="1628.80" stroke="#3c3c3c" stroke-width="1.3"/>
<line x1="47.6" y1="1618.64" x2="49.800000000000004" y2="1618.64" stroke="#3c3c3c" stroke-width="1.3"/>
<line x1="390.6" y1="1618.64" x2="388.40000000000003" y2="1618.64" stroke="#3c3c3c" stroke-width="1.3"/>
<line x1="47.6" y1="1608.48" x2="49.800000000000004" y2="1608.48" stroke="#3c3c3c" stroke-width="1.3"/>
<line x1="390.6" y1="1608.48" x2="388.40000000000003" y2="1608.48" stroke="#3c3c3c" stroke-width="1.3"/>
<line x1="47.6" y1="1598.32" x2="49.800000000000004" y2="1598.32" stroke="#3c3c3c" stroke-width="1.3"/>
<line x1="390.6" y1="1598.32" x2="388.40000000000003" y2="1598.32" stroke="#3c3c3c" stroke-width="1.3"/>
<line x1="47.6" y1="1588.16" x2="51.6" y2="1588.16" stroke="#3c3c3c" stroke-width="1.3"/>
<line x1="390.6" y1="1588.16" x2="386.6" y2="1588.16" stroke="#3c3c3c" stroke-width="1.3"/>
<line x1="47.6" y1="1578.00" x2="49.800000000000004" y2="1578.00" stroke="#3c3c3c" stroke-width="1.3"/>
<line x1="390.6" y1="1578.00" x2="388.40000000000003" y2="1578.00" stroke="#3c3c3c" stroke-width="1.3"/>
<line x1="47.6" y1="1567.84" x2="49.800000000000004" y2="1567.84" stroke="#3c3c3c" stroke-width="1.3"/>
<line x1="390.6" y1="1567.84" x2="388.40000000000003" y2="1567.84" stroke="#3c3c3c" stroke-width="1.3"/>
<line x1="47.6" y1="1557.68" x2="49.800000000000004" y2="1557.68" stroke="#3c3c3c" stroke-width="1.3"/>
<line x1="390.6" y1="1557.68" x2="388.40000000000003" y2="1557.68" stroke="#3c3c3c" stroke-width="1.3"/>
<line x1="47.6" y1="1547.52" x2="51.6" y2="1547.52" stroke="#3c3c3c" stroke-width="1.3"/>
<line x1="390.6" y1="1547.52" x2="386.6" y2="1547.52" stroke="#3c3c3c" stroke-width="1.3"/>
<line x1="47.6" y1="1537.36" x2="49.800000000000004" y2="1537.36" stroke="#3c3c3c" stroke-width="1.3"/>
<line x1="390.6" y1="1537.36" x2="388.40000000000003" y2="1537.36" stroke="#3c3c3c" stroke-width="1.3"/>
<line x1="47.6" y1="1527.20" x2="49.800000000000004" y2="1527.20" stroke="#3c3c3c" stroke-width="1.3"/>
<line x1="390.6" y1="1527.20" x2="388.40000000000003" y2="1527.20" stroke="#3c3c3c" stroke-width="1.3"/>
<line x1="47.6" y1="1517.04" x2="49.800000000000004" y2="1517.04" stroke="#3c3c3c" stroke-width="1.3"/>
<line x1="390.6" y1="1517.04" x2="388.40000000000003" y2="1517.04" stroke="#3c3c3c" stroke-width="1.3"/>
<line x1="47.6" y1="1506.88" x2="51.6" y2="1506.88" stroke="#3c3c3c" stroke-width="1.3"/>
<line x1="390.6" y1="1506.88" x2="386.6" y2="1506.88" stroke="#3c3c3c" stroke-width="1.3"/>
<line x1="47.6" y1="1496.72" x2="49.800000000000004" y2="1496.72" stroke="#3c3c3c" stroke-width="1.3"/>
<line x1="390.6" y1="1496.72" x2="388.40000000000003" y2="1496.72" stroke="#3c3c3c" stroke-width="1.3"/>
<line x1="47.6" y1="1486.56" x2="49.800000000000004" y2="1486.56" stroke="#3c3c3c" stroke-width="1.3"/>
<line x1="390.6" y1="1486.56" x2="388.40000000000003" y2="1486.56" stroke="#3c3c3c" stroke-width="1.3"/>
<line x1="47.6" y1="1476.40" x2="49.800000000000004" y2="1476.40" stroke="#3c3c3c" stroke-width="1.3"/>
<line x1="390.6" y1="1476.40" x2="388.40000000000003" y2="1476.40" stroke="#3c3c3c" stroke-width="1.3"/>
<line x1="47.6" y1="1466.24" x2="51.6" y2="1466.24" stroke="#3c3c3c" stroke-width="1.3"/>
<line x1="390.6" y1="1466.24" x2="386.6" y2="1466.24" stroke="#3c3c3c" stroke-width="1.3"/>
<line x1="47.6" y1="1456.08" x2="49.800000000000004" y2="1456.08" stroke="#3c3c3c" stroke-width="1.3"/>
<line x1="390.6" y1="1456.08" x2="388.40000000000003" y2="1456.08" stroke="#3c3c3c" stroke-width="1.3"/>
<line x1="47.6" y1="1445.92" x2="49.800000000000004" y2="1445.92" stroke="#3c3c3c" stroke-width="1.3"/>
<line x1="390.6" y1="1445.92" x2="388.40000000000003" y2="1445.92" stroke="#3c3c3c" stroke-width="1.3"/>
<line x1="47.6" y1="1435.76" x2="49.800000000000004" y2="1435.76" stroke="#3c3c3c" stroke-width="1.3"/>
<line x1="390.6" y1="1435.76" x2="388.40000000000003" y2="1435.76" stroke="#3c3c3c" stroke-width="1.3"/>
<line x1="47.6" y1="1425.60" x2="51.6" y2="1425.60" stroke="#3c3c3c" stroke-width="1.3"/>
<line x1="390.6" y1="1425.60" x2="386.6" y2="1425.60" stroke="#3c3c3c" stroke-width="1.3"/>
<text x="44.4" y="1636.0" font-family="'Liberation Serif', 'DejaVu Serif', serif" font-size="15" font-weight="normal" text-anchor="end" fill="#000">0</text>
<text x="44.4" y="1595.4" font-family="'Liberation Serif', 'DejaVu Serif', serif" font-size="15" font-weight="normal" text-anchor="end" fill="#000">20</text>
<text x="44.4" y="1554.7" font-family="'Liberation Serif', 'DejaVu Serif', serif" font-size="15" font-weight="normal" text-anchor="end" fill="#000">40</text>
<text x="44.4" y="1514.1" font-family="'Liberation Serif', 'DejaVu Serif', serif" font-size="15" font-weight="normal" text-anchor="end" fill="#000">60</text>
<text x="44.4" y="1473.4" font-family="'Liberation Serif', 'DejaVu Serif', serif" font-size="15" font-weight="normal" text-anchor="end" fill="#000">80</text>
<text x="44.4" y="1432.8" font-family="'Liberation Serif', 'DejaVu Serif', serif" font-size="15" font-weight="normal" text-anchor="end" fill="#000" textLength="23.0" lengthAdjust="spacingAndGlyphs">100</text>
<text x="159.9" y="1417.0" font-family="'Liberation Serif', 'DejaVu Serif', serif" font-size="19.5" font-weight="normal" text-anchor="start" fill="#000" textLength="93.6" lengthAdjust="spacingAndGlyphs">Sequence 6</text>
<text x="177.9" y="1666.3" font-family="'Liberation Serif', 'DejaVu Serif', serif" font-size="18.5" font-weight="normal" text-anchor="start" fill="#000" textLength="105.0" lengthAdjust="spacingAndGlyphs">Conformation</text>
<rect x="438.93" y="1554.02" width="23.70" height="74.78" fill="#c9c9c9"/>
<rect x="438.93" y="1528.01" width="23.70" height="26.01" fill="#cddcf5"/>
<rect x="438.93" y="1458.11" width="23.70" height="69.90" fill="#eec8c4"/>
<rect x="438.93" y="1425.60" width="23.70" height="32.51" fill="#f1f0ca"/>
<rect x="438.93" y="1554.02" width="23.70" height="74.78" fill="none" stroke="#3a3a3a" stroke-width="1.4" stroke-dasharray="4,3.2"/>
<rect x="438.93" y="1528.01" width="23.70" height="26.01" fill="none" stroke="#3a3a3a" stroke-width="1.4" stroke-dasharray="4,3.2"/>
<rect x="438.93" y="1458.11" width="23.70" height="69.90" fill="none" stroke="#3a3a3a" stroke-width="1.4" stroke-dasharray="4,3.2"/>
<rect x="438.93" y="1425.60" width="23.70" height="32.51" fill="none" stroke="#3a3a3a" stroke-width="1.4" stroke-dasharray="4,3.2"/>
<rect x="467.52" y="1556.66" width="23.70" height="72.14" fill="#555555"/>
<rect x="467.52" y="1531.47" width="23.70" height="25.20" fill="#5d87ee"/>
<rect x="467.52" y="1464.21" width="23.70" height="67.26" fill="#e24b34"/>
<rect x="467.52" y="1425.60" width="23.70" height="38.61" fill="#d8d050"/>
<rect x="467.52" y="1556.66" width="23.70" height="72.14" fill="none" stroke="#000" stroke-opacity="0.72" stroke-width="1.3"/>
<rect x="467.52" y="1531.47" width="23.70" height="25.20" fill="none" stroke="#000" stroke-opacity="0.72" stroke-width="1.3"/>
<rect x="467.52" y="1464.21" width="23.70" height="67.26" fill="none" stroke="#000" stroke-opacity="0.72" stroke-width="1.3"/>
<rect x="467.52" y="1425.60" width="23.70" height="38.61" fill="none" stroke="#000" stroke-opacity="0.72" stroke-width="1.3"/>
<text x="479.4" y="1646.0" font-family="'Liberation Serif', 'DejaVu Serif', serif" font-size="11.5" font-weight="bold" text-anchor="middle" fill="#000">1</text>
<rect x="496.10" y="1553.62" width="23.70" height="75.18" fill="#555555"/>
<rect x="496.10" y="1525.57" width="23.70" height="28.04" fill="#5d87ee"/>
<rect x="496.10" y="1461.97" width="23.70" height="63.60" fill="#e24b34"/>
<rect x="496.10" y="1425.60" width="23.70" height="36.37" fill="#d8d050"/>
<rect x="496.10" y="1553.62" width="23.70" height="75.18" fill="none" stroke="#000" stroke-opacity="0.72" stroke-width="1.3"/>
<rect x="496.10" y="1525.57" width="23.70" height="28.04" fill="none" stroke="#000" stroke-opacity="0.72" stroke-width="1.3"/>
<rect x="496.10" y="1461.97" width="23.70" height="63.60" fill="none" stroke="#000" stroke-opacity="0.72" stroke-width="1.3"/>
<rect x="496.10" y="1425.60" width="23.70" height="36.37" fill="none" stroke="#000" stroke-opacity="0.72" stroke-width="1.3"/>
<text x="507.9" y="1646.0" font-family="'Liberation Serif', 'DejaVu Serif', serif" font-size="11.5" font-weight="bold" text-anchor="middle" fill="#000">2</text>
<rect x="524.68" y="1560.93" width="23.70" height="67.87" fill="#555555"/>
<rect x="524.68" y="1532.89" width="23.70" height="28.04" fill="#5d87ee"/>
<rect x="524.68" y="1463.70" width="23.70" height="69.19" fill="#e24b34"/>
<rect x="524.68" y="1425.60" width="23.70" height="38.10" fill="#d8d050"/>
<rect x="524.68" y="1560.93" width="23.70" height="67.87" fill="none" stroke="#000" stroke-opacity="0.72" stroke-width="1.3"/>
<rect x="524.68" y="1532.89" width="23.70" height="28.04" fill="none" stroke="#000" stroke-opacity="0.72" stroke-width="1.3"/>
<rect x="524.68" y="1463.70" width="23.70" height="69.19" fill="none" stroke="#000" stroke-opacity="0.72" stroke-width="1.3"/>
<rect x="524.68" y="1425.60" width="23.70" height="38.10" fill="none" stroke="#000" stroke-opacity="0.72" stroke-width="1.3"/>
<text x="536.5" y="1646.0" font-family="'Liberation Serif', 'DejaVu Serif', serif" font-size="11.5" font-weight="bold" text-anchor="middle" fill="#000">3</text>
<rect x="553.27" y="1559.92" width="23.70" height="68.88" fill="#555555"/>
<rect x="553.27" y="1528.01" width="23.70" height="31.90" fill="#5d87ee"/>
<rect x="553.27" y="1465.22" width="23.70" height="62.79" fill="#e24b34"/>
<rect x="553.27" y="1425.60" width="23.70" height="39.62" fill="#d8d050"/>
<rect x="553.27" y="1559.92" width="23.70" height="68.88" fill="none" stroke="#000" stroke-opacity="0.72" stroke-width="1.3"/>
<rect x="553.27" y="1528.01" width="23.70" height="31.90" fill="none" stroke="#000" stroke-opacity="0.72" stroke-width="1.3"/>
<rect x="553.27" y="1465.22" width="23.70" height="62.79" fill="none" stroke="#000" stroke-opacity="0.72" stroke-width="1.3"/>
<rect x="553.27" y="1425.60" width="23.70" height="39.62" fill="none" stroke="#000" stroke-opacity="0.72" stroke-width="1.3"/>
<text x="565.1" y="1646.0" font-family="'Liberation Serif', 'DejaVu Serif', serif" font-size="11.5" font-weight="bold" text-anchor="middle" fill="#000">4</text>
<rect x="581.85" y="1556.26" width="23.70" height="72.54" fill="#555555"/>
<rect x="581.85" y="1525.57" width="23.70" height="30.68" fill="#5d87ee"/>
<rect x="581.85" y="1463.40" width="23.70" height="62.18" fill="#e24b34"/>
<rect x="581.85" y="1425.60" width="23.70" height="37.80" fill="#d8d050"/>
<rect x="581.85" y="1556.26" width="23.70" height="72.54" fill="none" stroke="#000" stroke-opacity="0.72" stroke-width="1.3"/>
<rect x="581.85" y="1525.57" width="23.70" height="30.68" fill="none" stroke="#000" stroke-opacity="0.72" stroke-width="1.3"/>
<rect x="581.85" y="1463.40" width="23.70" height="62.18" fill="none" stroke="#000" stroke-opacity="0.72" stroke-width="1.3"/>
<rect x="581.85" y="1425.60" width="23.70" height="37.80" fill="none" stroke="#000" stroke-opacity="0.72" stroke-width="1.3"/>
<text x="593.7" y="1646.0" font-family="'Liberation Serif', 'DejaVu Serif', serif" font-size="11.5" font-weight="bold" text-anchor="middle" fill="#000">5</text>
<rect x="610.43" y="1553.01" width="23.70" height="75.79" fill="#555555"/>
<rect x="610.43" y="1518.46" width="23.70" height="34.54" fill="#5d87ee"/>
<rect x="610.43" y="1464.82" width="23.70" height="53.64" fill="#e24b34"/>
<rect x="610.43" y="1425.60" width="23.70" height="39.22" fill="#d8d050"/>
<rect x="610.43" y="1553.01" width="23.70" height="75.79" fill="none" stroke="#000" stroke-opacity="0.72" stroke-width="1.3"/>
<rect x="610.43" y="1518.46" width="23.70" height="34.54" fill="none" stroke="#000" stroke-opacity="0.72" stroke-width="1.3"/>
<rect x="610.43" y="1464.82" width="23.70" height="53.64" fill="none" stroke="#000" stroke-opacity="0.72" stroke-width="1.3"/>
<rect x="610.43" y="1425.60" width="23.70" height="39.22" fill="none" stroke="#000" stroke-opacity="0.72" stroke-width="1.3"/>
<text x="622.3" y="1646.0" font-family="'Liberation Serif', 'DejaVu Serif', serif" font-size="11.5" font-weight="bold" text-anchor="middle" fill="#000">6</text>
<rect x="639.02" y="1559.31" width="23.70" height="69.49" fill="#555555"/>
<rect x="639.02" y="1528.01" width="23.70" height="31.29" fill="#5d87ee"/>
<rect x="639.02" y="1464.61" width="23.70" height="63.40" fill="#e24b34"/>
<rect x="639.02" y="1425.60" width="23.70" height="39.01" fill="#d8d050"/>
<rect x="639.02" y="1559.31" width="23.70" height="69.49" fill="none" stroke="#000" stroke-opacity="0.72" stroke-width="1.3"/>
<rect x="639.02" y="1528.01" width="23.70" height="31.29" fill="none" stroke="#000" stroke-opacity="0.72" stroke-width="1.3"/>
<rect x="639.02" y="1464.61" width="23.70" height="63.40" fill="none" stroke="#000" stroke-opacity="0.72" stroke-width="1.3"/>
<rect x="639.02" y="1425.60" width="23.70" height="39.01" fill="none" stroke="#000" stroke-opacity="0.72" stroke-width="1.3"/>
<text x="650.9" y="1646.0" font-family="'Liberation Serif', 'DejaVu Serif', serif" font-size="11.5" font-weight="bold" text-anchor="middle" fill="#000">7</text>
<rect x="667.60" y="1553.62" width="23.70" height="75.18" fill="#555555"/>
<rect x="667.60" y="1521.71" width="23.70" height="31.90" fill="#5d87ee"/>
<rect x="667.60" y="1467.66" width="23.70" height="54.05" fill="#e24b34"/>
<rect x="667.60" y="1425.60" width="23.70" height="42.06" fill="#d8d050"/>
<rect x="667.60" y="1553.62" width="23.70" height="75.18" fill="none" stroke="#000" stroke-opacity="0.72" stroke-width="1.3"/>
<rect x="667.60" y="1521.71" width="23.70" height="31.90" fill="none" stroke="#000" stroke-opacity="0.72" stroke-width="1.3"/>
<rect x="667.60" y="1467.66" width="23.70" height="54.05" fill="none" stroke="#000" stroke-opacity="0.72" stroke-width="1.3"/>
<rect x="667.60" y="1425.60" width="23.70" height="42.06" fill="none" stroke="#000" stroke-opacity="0.72" stroke-width="1.3"/>
<text x="679.5" y="1646.0" font-family="'Liberation Serif', 'DejaVu Serif', serif" font-size="11.5" font-weight="bold" text-anchor="middle" fill="#000">8</text>
<rect x="696.18" y="1554.02" width="23.70" height="74.78" fill="#555555"/>
<rect x="696.18" y="1526.18" width="23.70" height="27.84" fill="#5d87ee"/>
<rect x="696.18" y="1462.58" width="23.70" height="63.60" fill="#e24b34"/>
<rect x="696.18" y="1425.60" width="23.70" height="36.98" fill="#d8d050"/>
<rect x="696.18" y="1554.02" width="23.70" height="74.78" fill="none" stroke="#000" stroke-opacity="0.72" stroke-width="1.3"/>
<rect x="696.18" y="1526.18" width="23.70" height="27.84" fill="none" stroke="#000" stroke-opacity="0.72" stroke-width="1.3"/>
<rect x="696.18" y="1462.58" width="23.70" height="63.60" fill="none" stroke="#000" stroke-opacity="0.72" stroke-width="1.3"/>
<rect x="696.18" y="1425.60" width="23.70" height="36.98" fill="none" stroke="#000" stroke-opacity="0.72" stroke-width="1.3"/>
<text x="708.0" y="1646.0" font-family="'Liberation Serif', 'DejaVu Serif', serif" font-size="11.5" font-weight="bold" text-anchor="middle" fill="#000">9</text>
<rect x="724.77" y="1558.90" width="23.70" height="69.90" fill="#555555"/>
<rect x="724.77" y="1528.22" width="23.70" height="30.68" fill="#5d87ee"/>
<rect x="724.77" y="1462.38" width="23.70" height="65.84" fill="#e24b34"/>
<rect x="724.77" y="1425.60" width="23.70" height="36.78" fill="#d8d050"/>
<rect x="724.77" y="1558.90" width="23.70" height="69.90" fill="none" stroke="#000" stroke-opacity="0.72" stroke-width="1.3"/>
<rect x="724.77" y="1528.22" width="23.70" height="30.68" fill="none" stroke="#000" stroke-opacity="0.72" stroke-width="1.3"/>
<rect x="724.77" y="1462.38" width="23.70" height="65.84" fill="none" stroke="#000" stroke-opacity="0.72" stroke-width="1.3"/>
<rect x="724.77" y="1425.60" width="23.70" height="36.78" fill="none" stroke="#000" stroke-opacity="0.72" stroke-width="1.3"/>
<text x="736.6" y="1646.0" font-family="'Liberation Serif', 'DejaVu Serif', serif" font-size="11.5" font-weight="bold" text-anchor="middle" fill="#000" textLength="11.5" lengthAdjust="spacingAndGlyphs">10</text>
<line x1="422.2" y1="1423.6" x2="422.2" y2="1628.8" stroke="#3c3c3c" stroke-width="1.2"/>
<line x1="765.2" y1="1423.6" x2="765.2" y2="1628.8" stroke="#3c3c3c" stroke-width="1.2"/>
<line x1="422.2" y1="1628.8" x2="765.2" y2="1628.8" stroke="#3c3c3c" stroke-width="1.3"/>
<line x1="422.2" y1="1628.80" x2="426.2" y2="1628.80" stroke="#3c3c3c" stroke-width="1.3"/>
<line x1="765.2" y1="1628.80" x2="761.2" y2="1628.80" stroke="#3c3c3c" stroke-width="1.3"/>
<line x1="422.2" y1="1618.64" x2="424.4" y2="1618.64" stroke="#3c3c3c" stroke-width="1.3"/>
<line x1="765.2" y1="1618.64" x2="763.0" y2="1618.64" stroke="#3c3c3c" stroke-width="1.3"/>
<line x1="422.2" y1="1608.48" x2="424.4" y2="1608.48" stroke="#3c3c3c" stroke-width="1.3"/>
<line x1="765.2" y1="1608.48" x2="763.0" y2="1608.48" stroke="#3c3c3c" stroke-width="1.3"/>
<line x1="422.2" y1="1598.32" x2="424.4" y2="1598.32" stroke="#3c3c3c" stroke-width="1.3"/>
<line x1="765.2" y1="1598.32" x2="763.0" y2="1598.32" stroke="#3c3c3c" stroke-width="1.3"/>
<line x1="422.2" y1="1588.16" x2="426.2" y2="1588.16" stroke="#3c3c3c" stroke-width="1.3"/>
<line x1="765.2" y1="1588.16" x2="761.2" y2="1588.16" stroke="#3c3c3c" stroke-width="1.3"/>
<line x1="422.2" y1="1578.00" x2="424.4" y2="1578.00" stroke="#3c3c3c" stroke-width="1.3"/>
<line x1="765.2" y1="1578.00" x2="763.0" y2="1578.00" stroke="#3c3c3c" stroke-width="1.3"/>
<line x1="422.2" y1="1567.84" x2="424.4" y2="1567.84" stroke="#3c3c3c" stroke-width="1.3"/>
<line x1="765.2" y1="1567.84" x2="763.0" y2="1567.84" stroke="#3c3c3c" stroke-width="1.3"/>
<line x1="422.2" y1="1557.68" x2="424.4" y2="1557.68" stroke="#3c3c3c" stroke-width="1.3"/>
<line x1="765.2" y1="1557.68" x2="763.0" y2="1557.68" stroke="#3c3c3c" stroke-width="1.3"/>
<line x1="422.2" y1="1547.52" x2="426.2" y2="1547.52" stroke="#3c3c3c" stroke-width="1.3"/>
<line x1="765.2" y1="1547.52" x2="761.2" y2="1547.52" stroke="#3c3c3c" stroke-width="1.3"/>
<line x1="422.2" y1="1537.36" x2="424.4" y2="1537.36" stroke="#3c3c3c" stroke-width="1.3"/>
<line x1="765.2" y1="1537.36" x2="763.0" y2="1537.36" stroke="#3c3c3c" stroke-width="1.3"/>
<line x1="422.2" y1="1527.20" x2="424.4" y2="1527.20" stroke="#3c3c3c" stroke-width="1.3"/>
<line x1="765.2" y1="1527.20" x2="763.0" y2="1527.20" stroke="#3c3c3c" stroke-width="1.3"/>
<line x1="422.2" y1="1517.04" x2="424.4" y2="1517.04" stroke="#3c3c3c" stroke-width="1.3"/>
<line x1="765.2" y1="1517.04" x2="763.0" y2="1517.04" stroke="#3c3c3c" stroke-width="1.3"/>
<line x1="422.2" y1="1506.88" x2="426.2" y2="1506.88" stroke="#3c3c3c" stroke-width="1.3"/>
<line x1="765.2" y1="1506.88" x2="761.2" y2="1506.88" stroke="#3c3c3c" stroke-width="1.3"/>
<line x1="422.2" y1="1496.72" x2="424.4" y2="1496.72" stroke="#3c3c3c" stroke-width="1.3"/>
<line x1="765.2" y1="1496.72" x2="763.0" y2="1496.72" stroke="#3c3c3c" stroke-width="1.3"/>
<line x1="422.2" y1="1486.56" x2="424.4" y2="1486.56" stroke="#3c3c3c" stroke-width="1.3"/>
<line x1="765.2" y1="1486.56" x2="763.0" y2="1486.56" stroke="#3c3c3c" stroke-width="1.3"/>
<line x1="422.2" y1="1476.40" x2="424.4" y2="1476.40" stroke="#3c3c3c" stroke-width="1.3"/>
<line x1="765.2" y1="1476.40" x2="763.0" y2="1476.40" stroke="#3c3c3c" stroke-width="1.3"/>
<line x1="422.2" y1="1466.24" x2="426.2" y2="1466.24" stroke="#3c3c3c" stroke-width="1.3"/>
<line x1="765.2" y1="1466.24" x2="761.2" y2="1466.24" stroke="#3c3c3c" stroke-width="1.3"/>
<line x1="422.2" y1="1456.08" x2="424.4" y2="1456.08" stroke="#3c3c3c" stroke-width="1.3"/>
<line x1="765.2" y1="1456.08" x2="763.0" y2="1456.08" stroke="#3c3c3c" stroke-width="1.3"/>
<line x1="422.2" y1="1445.92" x2="424.4" y2="1445.92" stroke="#3c3c3c" stroke-width="1.3"/>
<line x1="765.2" y1="1445.92" x2="763.0" y2="1445.92" stroke="#3c3c3c" stroke-width="1.3"/>
<line x1="422.2" y1="1435.76" x2="424.4" y2="1435.76" stroke="#3c3c3c" stroke-width="1.3"/>
<line x1="765.2" y1="1435.76" x2="763.0" y2="1435.76" stroke="#3c3c3c" stroke-width="1.3"/>
<line x1="422.2" y1="1425.60" x2="426.2" y2="1425.60" stroke="#3c3c3c" stroke-width="1.3"/>
<line x1="765.2" y1="1425.60" x2="761.2" y2="1425.60" stroke="#3c3c3c" stroke-width="1.3"/>
<text x="419.0" y="1636.0" font-family="'Liberation Serif', 'DejaVu Serif', serif" font-size="15" font-weight="normal" text-anchor="end" fill="#000">0</text>
<text x="419.0" y="1595.4" font-family="'Liberation Serif', 'DejaVu Serif', serif" font-size="15" font-weight="normal" text-anchor="end" fill="#000">20</text>
<text x="419.0" y="1554.7" font-family="'Liberation Serif', 'DejaVu Serif', serif" font-size="15" font-weight="normal" text-anchor="end" fill="#000">40</text>
<text x="419.0" y="1514.1" font-family="'Liberation Serif', 'DejaVu Serif', serif" font-size="15" font-weight="normal" text-anchor="end" fill="#000">60</text>
<text x="419.0" y="1473.4" font-family="'Liberation Serif', 'DejaVu Serif', serif" font-size="15" font-weight="normal" text-anchor="end" fill="#000">80</text>
<text x="419.0" y="1432.8" font-family="'Liberation Serif', 'DejaVu Serif', serif" font-size="15" font-weight="normal" text-anchor="end" fill="#000" textLength="23.0" lengthAdjust="spacingAndGlyphs">100</text>
<text x="563.8" y="1417.0" font-family="'Liberation Serif', 'DejaVu Serif', serif" font-size="19.5" font-weight="normal" text-anchor="start" fill="#000" textLength="93.6" lengthAdjust="spacingAndGlyphs">Sequence 7</text>
<text x="552.6" y="1666.3" font-family="'Liberation Serif', 'DejaVu Serif', serif" font-size="18.5" font-weight="normal" text-anchor="start" fill="#000" textLength="104.8" lengthAdjust="spacingAndGlyphs">Conformation</text>
<rect x="811.73" y="1577.39" width="23.70" height="51.41" fill="#c9c9c9"/>
<rect x="811.73" y="1527.20" width="23.70" height="50.19" fill="#cddcf5"/>
<rect x="811.73" y="1458.11" width="23.70" height="69.09" fill="#eec8c4"/>
<rect x="811.73" y="1425.60" width="23.70" height="32.51" fill="#f1f0ca"/>
<rect x="811.73" y="1577.39" width="23.70" height="51.41" fill="none" stroke="#3a3a3a" stroke-width="1.4" stroke-dasharray="4,3.2"/>
<rect x="811.73" y="1527.20" width="23.70" height="50.19" fill="none" stroke="#3a3a3a" stroke-width="1.4" stroke-dasharray="4,3.2"/>
<rect x="811.73" y="1458.11" width="23.70" height="69.09" fill="none" stroke="#3a3a3a" stroke-width="1.4" stroke-dasharray="4,3.2"/>
<rect x="811.73" y="1425.60" width="23.70" height="32.51" fill="none" stroke="#3a3a3a" stroke-width="1.4" stroke-dasharray="4,3.2"/>
<rect x="840.32" y="1582.06" width="23.70" height="46.74" fill="#555555"/>
<rect x="840.32" y="1526.18" width="23.70" height="55.88" fill="#5d87ee"/>
<rect x="840.32" y="1460.96" width="23.70" height="65.23" fill="#e24b34"/>
<rect x="840.32" y="1425.60" width="23.70" height="35.36" fill="#d8d050"/>
<rect x="840.32" y="1582.06" width="23.70" height="46.74" fill="none" stroke="#000" stroke-opacity="0.72" stroke-width="1.3"/>
<rect x="840.32" y="1526.18" width="23.70" height="55.88" fill="none" stroke="#000" stroke-opacity="0.72" stroke-width="1.3"/>
<rect x="840.32" y="1460.96" width="23.70" height="65.23" fill="none" stroke="#000" stroke-opacity="0.72" stroke-width="1.3"/>
<rect x="840.32" y="1425.60" width="23.70" height="35.36" fill="none" stroke="#000" stroke-opacity="0.72" stroke-width="1.3"/>
<text x="852.2" y="1646.0" font-family="'Liberation Serif', 'DejaVu Serif', serif" font-size="11.5" font-weight="bold" text-anchor="middle" fill="#000">1</text>
<rect x="868.90" y="1582.27" width="23.70" height="46.53" fill="#555555"/>
<rect x="868.90" y="1514.20" width="23.70" height="68.07" fill="#5d87ee"/>
<rect x="868.90" y="1465.83" width="23.70" height="48.36" fill="#e24b34"/>
<rect x="868.90" y="1425.60" width="23.70" height="40.23" fill="#d8d050"/>
<rect x="868.90" y="1582.27" width="23.70" height="46.53" fill="none" stroke="#000" stroke-opacity="0.72" stroke-width="1.3"/>
<rect x="868.90" y="1514.20" width="23.70" height="68.07" fill="none" stroke="#000" stroke-opacity="0.72" stroke-width="1.3"/>
<rect x="868.90" y="1465.83" width="23.70" height="48.36" fill="none" stroke="#000" stroke-opacity="0.72" stroke-width="1.3"/>
<rect x="868.90" y="1425.60" width="23.70" height="40.23" fill="none" stroke="#000" stroke-opacity="0.72" stroke-width="1.3"/>
<text x="880.8" y="1646.0" font-family="'Liberation Serif', 'DejaVu Serif', serif" font-size="11.5" font-weight="bold" text-anchor="middle" fill="#000">2</text>
<rect x="897.48" y="1582.67" width="23.70" height="46.13" fill="#555555"/>
<rect x="897.48" y="1524.36" width="23.70" height="58.32" fill="#5d87ee"/>
<rect x="897.48" y="1456.69" width="23.70" height="67.67" fill="#e24b34"/>
<rect x="897.48" y="1425.60" width="23.70" height="31.09" fill="#d8d050"/>
<rect x="897.48" y="1582.67" width="23.70" height="46.13" fill="none" stroke="#000" stroke-opacity="0.72" stroke-width="1.3"/>
<rect x="897.48" y="1524.36" width="23.70" height="58.32" fill="none" stroke="#000" stroke-opacity="0.72" stroke-width="1.3"/>
<rect x="897.48" y="1456.69" width="23.70" height="67.67" fill="none" stroke="#000" stroke-opacity="0.72" stroke-width="1.3"/>
<rect x="897.48" y="1425.60" width="23.70" height="31.09" fill="none" stroke="#000" stroke-opacity="0.72" stroke-width="1.3"/>
<text x="909.3" y="1646.0" font-family="'Liberation Serif', 'DejaVu Serif', serif" font-size="11.5" font-weight="bold" text-anchor="middle" fill="#000">3</text>
<rect x="926.07" y="1582.06" width="23.70" height="46.74" fill="#555555"/>
<rect x="926.07" y="1523.75" width="23.70" height="58.32" fill="#5d87ee"/>
<rect x="926.07" y="1459.94" width="23.70" height="63.80" fill="#e24b34"/>
<rect x="926.07" y="1425.60" width="23.70" height="34.34" fill="#d8d050"/>
<rect x="926.07" y="1582.06" width="23.70" height="46.74" fill="none" stroke="#000" stroke-opacity="0.72" stroke-width="1.3"/>
<rect x="926.07" y="1523.75" width="23.70" height="58.32" fill="none" stroke="#000" stroke-opacity="0.72" stroke-width="1.3"/>
<rect x="926.07" y="1459.94" width="23.70" height="63.80" fill="none" stroke="#000" stroke-opacity="0.72" stroke-width="1.3"/>
<rect x="926.07" y="1425.60" width="23.70" height="34.34" fill="none" stroke="#000" stroke-opacity="0.72" stroke-width="1.3"/>
<text x="937.9" y="1646.0" font-family="'Liberation Serif', 'DejaVu Serif', serif" font-size="11.5" font-weight="bold" text-anchor="middle" fill="#000">4</text>
<rect x="954.65" y="1581.66" width="23.70" height="47.14" fill="#555555"/>
<rect x="954.65" y="1517.65" width="23.70" height="64.01" fill="#5d87ee"/>
<rect x="954.65" y="1464.21" width="23.70" height="53.44" fill="#e24b34"/>
<rect x="954.65" y="1425.60" width="23.70" height="38.61" fill="#d8d050"/>
<rect x="954.65" y="1581.66" width="23.70" height="47.14" fill="none" stroke="#000" stroke-opacity="0.72" stroke-width="1.3"/>
<rect x="954.65" y="1517.65" width="23.70" height="64.01" fill="none" stroke="#000" stroke-opacity="0.72" stroke-width="1.3"/>
<rect x="954.65" y="1464.21" width="23.70" height="53.44" fill="none" stroke="#000" stroke-opacity="0.72" stroke-width="1.3"/>
<rect x="954.65" y="1425.60" width="23.70" height="38.61" fill="none" stroke="#000" stroke-opacity="0.72" stroke-width="1.3"/>
<text x="966.5" y="1646.0" font-family="'Liberation Serif', 'DejaVu Serif', serif" font-size="11.5" font-weight="bold" text-anchor="middle" fill="#000">5</text>
<rect x="983.23" y="1575.16" width="23.70" height="53.64" fill="#555555"/>
<rect x="983.23" y="1517.65" width="23.70" height="57.51" fill="#5d87ee"/>
<rect x="983.23" y="1461.36" width="23.70" height="56.29" fill="#e24b34"/>
<rect x="983.23" y="1425.60" width="23.70" height="35.76" fill="#d8d050"/>
<rect x="983.23" y="1575.16" width="23.70" height="53.64" fill="none" stroke="#000" stroke-opacity="0.72" stroke-width="1.3"/>
<rect x="983.23" y="1517.65" width="23.70" height="57.51" fill="none" stroke="#000" stroke-opacity="0.72" stroke-width="1.3"/>
<rect x="983.23" y="1461.36" width="23.70" height="56.29" fill="none" stroke="#000" stroke-opacity="0.72" stroke-width="1.3"/>
<rect x="983.23" y="1425.60" width="23.70" height="35.76" fill="none" stroke="#000" stroke-opacity="0.72" stroke-width="1.3"/>
<text x="995.1" y="1646.0" font-family="'Liberation Serif', 'DejaVu Serif', serif" font-size="11.5" font-weight="bold" text-anchor="middle" fill="#000">6</text>
<rect x="1011.82" y="1582.27" width="23.70" height="46.53" fill="#555555"/>
<rect x="1011.82" y="1524.36" width="23.70" height="57.91" fill="#5d87ee"/>
<rect x="1011.82" y="1464.21" width="23.70" height="60.15" fill="#e24b34"/>
<rect x="1011.82" y="1425.60" width="23.70" height="38.61" fill="#d8d050"/>
<rect x="1011.82" y="1582.27" width="23.70" height="46.53" fill="none" stroke="#000" stroke-opacity="0.72" stroke-width="1.3"/>
<rect x="1011.82" y="1524.36" width="23.70" height="57.91" fill="none" stroke="#000" stroke-opacity="0.72" stroke-width="1.3"/>
<rect x="1011.82" y="1464.21" width="23.70" height="60.15" fill="none" stroke="#000" stroke-opacity="0.72" stroke-width="1.3"/>
<rect x="1011.82" y="1425.60" width="23.70" height="38.61" fill="none" stroke="#000" stroke-opacity="0.72" stroke-width="1.3"/>
<text x="1023.7" y="1646.0" font-family="'Liberation Serif', 'DejaVu Serif', serif" font-size="11.5" font-weight="bold" text-anchor="middle" fill="#000">7</text>
<rect x="1040.40" y="1578.41" width="23.70" height="50.39" fill="#555555"/>
<rect x="1040.40" y="1522.32" width="23.70" height="56.08" fill="#5d87ee"/>
<rect x="1040.40" y="1464.82" width="23.70" height="57.51" fill="#e24b34"/>
<rect x="1040.40" y="1425.60" width="23.70" height="39.22" fill="#d8d050"/>
<rect x="1040.40" y="1578.41" width="23.70" height="50.39" fill="none" stroke="#000" stroke-opacity="0.72" stroke-width="1.3"/>
<rect x="1040.40" y="1522.32" width="23.70" height="56.08" fill="none" stroke="#000" stroke-opacity="0.72" stroke-width="1.3"/>
<rect x="1040.40" y="1464.82" width="23.70" height="57.51" fill="none" stroke="#000" stroke-opacity="0.72" stroke-width="1.3"/>
<rect x="1040.40" y="1425.60" width="23.70" height="39.22" fill="none" stroke="#000" stroke-opacity="0.72" stroke-width="1.3"/>
<text x="1052.2" y="1646.0" font-family="'Liberation Serif', 'DejaVu Serif', serif" font-size="11.5" font-weight="bold" text-anchor="middle" fill="#000">8</text>
<rect x="1068.98" y="1584.30" width="23.70" height="44.50" fill="#555555"/>
<rect x="1068.98" y="1530.86" width="23.70" height="53.44" fill="#5d87ee"/>
<rect x="1068.98" y="1465.22" width="23.70" height="65.63" fill="#e24b34"/>
<rect x="1068.98" y="1425.60" width="23.70" height="39.62" fill="#d8d050"/>
<rect x="1068.98" y="1584.30" width="23.70" height="44.50" fill="none" stroke="#000" stroke-opacity="0.72" stroke-width="1.3"/>
<rect x="1068.98" y="1530.86" width="23.70" height="53.44" fill="none" stroke="#000" stroke-opacity="0.72" stroke-width="1.3"/>
<rect x="1068.98" y="1465.22" width="23.70" height="65.63" fill="none" stroke="#000" stroke-opacity="0.72" stroke-width="1.3"/>
<rect x="1068.98" y="1425.60" width="23.70" height="39.62" fill="none" stroke="#000" stroke-opacity="0.72" stroke-width="1.3"/>
<text x="1080.8" y="1646.0" font-family="'Liberation Serif', 'DejaVu Serif', serif" font-size="11.5" font-weight="bold" text-anchor="middle" fill="#000">9</text>
<rect x="1097.57" y="1583.08" width="23.70" height="45.72" fill="#555555"/>
<rect x="1097.57" y="1522.93" width="23.70" height="60.15" fill="#5d87ee"/>
<rect x="1097.57" y="1461.36" width="23.70" height="61.57" fill="#e24b34"/>
<rect x="1097.57" y="1425.60" width="23.70" height="35.76" fill="#d8d050"/>
<rect x="1097.57" y="1583.08" width="23.70" height="45.72" fill="none" stroke="#000" stroke-opacity="0.72" stroke-width="1.3"/>
<rect x="1097.57" y="1522.93" width="23.70" height="60.15" fill="none" stroke="#000" stroke-opacity="0.72" stroke-width="1.3"/>
<rect x="1097.57" y="1461.36" width="23.70" height="61.57" fill="none" stroke="#000" stroke-opacity="0.72" stroke-width="1.3"/>
<rect x="1097.57" y="1425.60" width="23.70" height="35.76" fill="none" stroke="#000" stroke-opacity="0.72" stroke-width="1.3"/>
<text x="1109.4" y="1646.0" font-family="'Liberation Serif', 'DejaVu Serif', serif" font-size="11.5" font-weight="bold" text-anchor="middle" fill="#000" textLength="11.5" lengthAdjust="spacingAndGlyphs">10</text>
<line x1="795.0" y1="1423.6" x2="795.0" y2="1628.8" stroke="#3c3c3c" stroke-width="1.2"/>
<line x1="1138.0" y1="1423.6" x2="1138.0" y2="1628.8" stroke="#3c3c3c" stroke-width="1.2"/>
<line x1="795.0" y1="1628.8" x2="1138.0" y2="1628.8" stroke="#3c3c3c" stroke-width="1.3"/>
<line x1="795.0" y1="1628.80" x2="799.0" y2="1628.80" stroke="#3c3c3c" stroke-width="1.3"/>
<line x1="1138.0" y1="1628.80" x2="1134.0" y2="1628.80" stroke="#3c3c3c" stroke-width="1.3"/>
<line x1="795.0" y1="1618.64" x2="797.2" y2="1618.64" stroke="#3c3c3c" stroke-width="1.3"/>
<line x1="1138.0" y1="1618.64" x2="1135.8" y2="1618.64" stroke="#3c3c3c" stroke-width="1.3"/>
<line x1="795.0" y1="1608.48" x2="797.2" y2="1608.48" stroke="#3c3c3c" stroke-width="1.3"/>
<line x1="1138.0" y1="1608.48" x2="1135.8" y2="1608.48" stroke="#3c3c3c" stroke-width="1.3"/>
<line x1="795.0" y1="1598.32" x2="797.2" y2="1598.32" stroke="#3c3c3c" stroke-width="1.3"/>
<line x1="1138.0" y1="1598.32" x2="1135.8" y2="1598.32" stroke="#3c3c3c" stroke-width="1.3"/>
<line x1="795.0" y1="1588.16" x2="799.0" y2="1588.16" stroke="#3c3c3c" stroke-width="1.3"/>
<line x1="1138.0" y1="1588.16" x2="1134.0" y2="1588.16" stroke="#3c3c3c" stroke-width="1.3"/>
<line x1="795.0" y1="1578.00" x2="797.2" y2="1578.00" stroke="#3c3c3c" stroke-width="1.3"/>
<line x1="1138.0" y1="1578.00" x2="1135.8" y2="1578.00" stroke="#3c3c3c" stroke-width="1.3"/>
<line x1="795.0" y1="1567.84" x2="797.2" y2="1567.84" stroke="#3c3c3c" stroke-width="1.3"/>
<line x1="1138.0" y1="1567.84" x2="1135.8" y2="1567.84" stroke="#3c3c3c" stroke-width="1.3"/>
<line x1="795.0" y1="1557.68" x2="797.2" y2="1557.68" stroke="#3c3c3c" stroke-width="1.3"/>
<line x1="1138.0" y1="1557.68" x2="1135.8" y2="1557.68" stroke="#3c3c3c" stroke-width="1.3"/>
<line x1="795.0" y1="1547.52" x2="799.0" y2="1547.52" stroke="#3c3c3c" stroke-width="1.3"/>
<line x1="1138.0" y1="1547.52" x2="1134.0" y2="1547.52" stroke="#3c3c3c" stroke-width="1.3"/>
<line x1="795.0" y1="1537.36" x2="797.2" y2="1537.36" stroke="#3c3c3c" stroke-width="1.3"/>
<line x1="1138.0" y1="1537.36" x2="1135.8" y2="1537.36" stroke="#3c3c3c" stroke-width="1.3"/>
<line x1="795.0" y1="1527.20" x2="797.2" y2="1527.20" stroke="#3c3c3c" stroke-width="1.3"/>
<line x1="1138.0" y1="1527.20" x2="1135.8" y2="1527.20" stroke="#3c3c3c" stroke-width="1.3"/>
<line x1="795.0" y1="1517.04" x2="797.2" y2="1517.04" stroke="#3c3c3c" stroke-width="1.3"/>
<line x1="1138.0" y1="1517.04" x2="1135.8" y2="1517.04" stroke="#3c3c3c" stroke-width="1.3"/>
<line x1="795.0" y1="1506.88" x2="799.0" y2="1506.88" stroke="#3c3c3c" stroke-width="1.3"/>
<line x1="1138.0" y1="1506.88" x2="1134.0" y2="1506.88" stroke="#3c3c3c" stroke-width="1.3"/>
<line x1="795.0" y1="1496.72" x2="797.2" y2="1496.72" stroke="#3c3c3c" stroke-width="1.3"/>
<line x1="1138.0" y1="1496.72" x2="1135.8" y2="1496.72" stroke="#3c3c3c" stroke-width="1.3"/>
<line x1="795.0" y1="1486.56" x2="797.2" y2="1486.56" stroke="#3c3c3c" stroke-width="1.3"/>
<line x1="1138.0" y1="1486.56" x2="1135.8" y2="1486.56" stroke="#3c3c3c" stroke-width="1.3"/>
<line x1="795.0" y1="1476.40" x2="797.2" y2="1476.40" stroke="#3c3c3c" stroke-width="1.3"/>
<line x1="1138.0" y1="1476.40" x2="1135.8" y2="1476.40" stroke="#3c3c3c" stroke-width="1.3"/>
<line x1="795.0" y1="1466.24" x2="799.0" y2="1466.24" stroke="#3c3c3c" stroke-width="1.3"/>
<line x1="1138.0" y1="1466.24" x2="1134.0" y2="1466.24" stroke="#3c3c3c" stroke-width="1.3"/>
<line x1="795.0" y1="1456.08" x2="797.2" y2="1456.08" stroke="#3c3c3c" stroke-width="1.3"/>
<line x1="1138.0" y1="1456.08" x2="1135.8" y2="1456.08" stroke="#3c3c3c" stroke-width="1.3"/>
<line x1="795.0" y1="1445.92" x2="797.2" y2="1445.92" stroke="#3c3c3c" stroke-width="1.3"/>
<line x1="1138.0" y1="1445.92" x2="1135.8" y2="1445.92" stroke="#3c3c3c" stroke-width="1.3"/>
<line x1="795.0" y1="1435.76" x2="797.2" y2="1435.76" stroke="#3c3c3c" stroke-width="1.3"/>
<line x1="1138.0" y1="1435.76" x2="1135.8" y2="1435.76" stroke="#3c3c3c" stroke-width="1.3"/>
<line x1="795.0" y1="1425.60" x2="799.0" y2="1425.60" stroke="#3c3c3c" stroke-width="1.3"/>
<line x1="1138.0" y1="1425.60" x2="1134.0" y2="1425.60" stroke="#3c3c3c" stroke-width="1.3"/>
<text x="791.8" y="1636.0" font-family="'Liberation Serif', 'DejaVu Serif', serif" font-size="15" font-weight="normal" text-anchor="end" fill="#000">0</text>
<text x="791.8" y="1595.4" font-family="'Liberation Serif', 'DejaVu Serif', serif" font-size="15" font-weight="normal" text-anchor="end" fill="#000">20</text>
<text x="791.8" y="1554.7" font-family="'Liberation Serif', 'DejaVu Serif', serif" font-size="15" font-weight="normal" text-anchor="end" fill="#000">40</text>
<text x="791.8" y="1514.1" font-family="'Liberation Serif', 'DejaVu Serif', serif" font-size="15" font-weight="normal" text-anchor="end" fill="#000">60</text>
<text x="791.8" y="1473.4" font-family="'Liberation Serif', 'DejaVu Serif', serif" font-size="15" font-weight="normal" text-anchor="end" fill="#000">80</text>
<text x="791.8" y="1432.8" font-family="'Liberation Serif', 'DejaVu Serif', serif" font-size="15" font-weight="normal" text-anchor="end" fill="#000" textLength="23.0" lengthAdjust="spacingAndGlyphs">100</text>
<text x="927.3" y="1417.0" font-family="'Liberation Serif', 'DejaVu Serif', serif" font-size="19.5" font-weight="normal" text-anchor="start" fill="#000" textLength="93.6" lengthAdjust="spacingAndGlyphs">Sequence 8</text>
<text x="924.1" y="1666.3" font-family="'Liberation Serif', 'DejaVu Serif', serif" font-size="18.5" font-weight="normal" text-anchor="start" fill="#000" textLength="104.8" lengthAdjust="spacingAndGlyphs">Conformation</text>
<rect x="1184.93" y="1569.47" width="23.70" height="59.33" fill="#c9c9c9"/>
<rect x="1184.93" y="1545.69" width="23.70" height="23.77" fill="#cddcf5"/>
<rect x="1184.93" y="1459.33" width="23.70" height="86.36" fill="#eec8c4"/>
<rect x="1184.93" y="1425.60" width="23.70" height="33.73" fill="#f1f0ca"/>
<rect x="1184.93" y="1569.47" width="23.70" height="59.33" fill="none" stroke="#3a3a3a" stroke-width="1.4" stroke-dasharray="4,3.2"/>
<rect x="1184.93" y="1545.69" width="23.70" height="23.77" fill="none" stroke="#3a3a3a" stroke-width="1.4" stroke-dasharray="4,3.2"/>
<rect x="1184.93" y="1459.33" width="23.70" height="86.36" fill="none" stroke="#3a3a3a" stroke-width="1.4" stroke-dasharray="4,3.2"/>
<rect x="1184.93" y="1425.60" width="23.70" height="33.73" fill="none" stroke="#3a3a3a" stroke-width="1.4" stroke-dasharray="4,3.2"/>
<rect x="1213.52" y="1574.75" width="23.70" height="54.05" fill="#555555"/>
<rect x="1213.52" y="1546.71" width="23.70" height="28.04" fill="#5d87ee"/>
<rect x="1213.52" y="1461.36" width="23.70" height="85.34" fill="#e24b34"/>
<rect x="1213.52" y="1425.60" width="23.70" height="35.76" fill="#d8d050"/>
<rect x="1213.52" y="1574.75" width="23.70" height="54.05" fill="none" stroke="#000" stroke-opacity="0.72" stroke-width="1.3"/>
<rect x="1213.52" y="1546.71" width="23.70" height="28.04" fill="none" stroke="#000" stroke-opacity="0.72" stroke-width="1.3"/>
<rect x="1213.52" y="1461.36" width="23.70" height="85.34" fill="none" stroke="#000" stroke-opacity="0.72" stroke-width="1.3"/>
<rect x="1213.52" y="1425.60" width="23.70" height="35.76" fill="none" stroke="#000" stroke-opacity="0.72" stroke-width="1.3"/>
<text x="1225.4" y="1646.0" font-family="'Liberation Serif', 'DejaVu Serif', serif" font-size="11.5" font-weight="bold" text-anchor="middle" fill="#000">1</text>
<rect x="1242.10" y="1571.09" width="23.70" height="57.71" fill="#555555"/>
<rect x="1242.10" y="1539.19" width="23.70" height="31.90" fill="#5d87ee"/>
<rect x="1242.10" y="1466.65" width="23.70" height="72.54" fill="#e24b34"/>
<rect x="1242.10" y="1425.60" width="23.70" height="41.05" fill="#d8d050"/>
<rect x="1242.10" y="1571.09" width="23.70" height="57.71" fill="none" stroke="#000" stroke-opacity="0.72" stroke-width="1.3"/>
<rect x="1242.10" y="1539.19" width="23.70" height="31.90" fill="none" stroke="#000" stroke-opacity="0.72" stroke-width="1.3"/>
<rect x="1242.10" y="1466.65" width="23.70" height="72.54" fill="none" stroke="#000" stroke-opacity="0.72" stroke-width="1.3"/>
<rect x="1242.10" y="1425.60" width="23.70" height="41.05" fill="none" stroke="#000" stroke-opacity="0.72" stroke-width="1.3"/>
<text x="1254.0" y="1646.0" font-family="'Liberation Serif', 'DejaVu Serif', serif" font-size="11.5" font-weight="bold" text-anchor="middle" fill="#000">2</text>
<rect x="1270.68" y="1571.09" width="23.70" height="57.71" fill="#555555"/>
<rect x="1270.68" y="1534.52" width="23.70" height="36.58" fill="#5d87ee"/>
<rect x="1270.68" y="1466.65" width="23.70" height="67.87" fill="#e24b34"/>
<rect x="1270.68" y="1425.60" width="23.70" height="41.05" fill="#d8d050"/>
<rect x="1270.68" y="1571.09" width="23.70" height="57.71" fill="none" stroke="#000" stroke-opacity="0.72" stroke-width="1.3"/>
<rect x="1270.68" y="1534.52" width="23.70" height="36.58" fill="none" stroke="#000" stroke-opacity="0.72" stroke-width="1.3"/>
<rect x="1270.68" y="1466.65" width="23.70" height="67.87" fill="none" stroke="#000" stroke-opacity="0.72" stroke-width="1.3"/>
<rect x="1270.68" y="1425.60" width="23.70" height="41.05" fill="none" stroke="#000" stroke-opacity="0.72" stroke-width="1.3"/>
<text x="1282.5" y="1646.0" font-family="'Liberation Serif', 'DejaVu Serif', serif" font-size="11.5" font-weight="bold" text-anchor="middle" fill="#000">3</text>
<rect x="1299.27" y="1573.73" width="23.70" height="55.07" fill="#555555"/>
<rect x="1299.27" y="1542.85" width="23.70" height="30.89" fill="#5d87ee"/>
<rect x="1299.27" y="1464.61" width="23.70" height="78.23" fill="#e24b34"/>
<rect x="1299.27" y="1425.60" width="23.70" height="39.01" fill="#d8d050"/>
<rect x="1299.27" y="1573.73" width="23.70" height="55.07" fill="none" stroke="#000" stroke-opacity="0.72" stroke-width="1.3"/>
<rect x="1299.27" y="1542.85" width="23.70" height="30.89" fill="none" stroke="#000" stroke-opacity="0.72" stroke-width="1.3"/>
<rect x="1299.27" y="1464.61" width="23.70" height="78.23" fill="none" stroke="#000" stroke-opacity="0.72" stroke-width="1.3"/>
<rect x="1299.27" y="1425.60" width="23.70" height="39.01" fill="none" stroke="#000" stroke-opacity="0.72" stroke-width="1.3"/>
<text x="1311.1" y="1646.0" font-family="'Liberation Serif', 'DejaVu Serif', serif" font-size="11.5" font-weight="bold" text-anchor="middle" fill="#000">4</text>
<rect x="1327.85" y="1572.51" width="23.70" height="56.29" fill="#555555"/>
<rect x="1327.85" y="1544.47" width="23.70" height="28.04" fill="#5d87ee"/>
<rect x="1327.85" y="1462.99" width="23.70" height="81.48" fill="#e24b34"/>
<rect x="1327.85" y="1425.60" width="23.70" height="37.39" fill="#d8d050"/>
<rect x="1327.85" y="1572.51" width="23.70" height="56.29" fill="none" stroke="#000" stroke-opacity="0.72" stroke-width="1.3"/>
<rect x="1327.85" y="1544.47" width="23.70" height="28.04" fill="none" stroke="#000" stroke-opacity="0.72" stroke-width="1.3"/>
<rect x="1327.85" y="1462.99" width="23.70" height="81.48" fill="none" stroke="#000" stroke-opacity="0.72" stroke-width="1.3"/>
<rect x="1327.85" y="1425.60" width="23.70" height="37.39" fill="none" stroke="#000" stroke-opacity="0.72" stroke-width="1.3"/>
<text x="1339.7" y="1646.0" font-family="'Liberation Serif', 'DejaVu Serif', serif" font-size="11.5" font-weight="bold" text-anchor="middle" fill="#000">5</text>
<rect x="1356.43" y="1570.38" width="23.70" height="58.42" fill="#555555"/>
<rect x="1356.43" y="1540.41" width="23.70" height="29.97" fill="#5d87ee"/>
<rect x="1356.43" y="1461.97" width="23.70" height="78.44" fill="#e24b34"/>
<rect x="1356.43" y="1425.60" width="23.70" height="36.37" fill="#d8d050"/>
<rect x="1356.43" y="1570.38" width="23.70" height="58.42" fill="none" stroke="#000" stroke-opacity="0.72" stroke-width="1.3"/>
<rect x="1356.43" y="1540.41" width="23.70" height="29.97" fill="none" stroke="#000" stroke-opacity="0.72" stroke-width="1.3"/>
<rect x="1356.43" y="1461.97" width="23.70" height="78.44" fill="none" stroke="#000" stroke-opacity="0.72" stroke-width="1.3"/>
<rect x="1356.43" y="1425.60" width="23.70" height="36.37" fill="none" stroke="#000" stroke-opacity="0.72" stroke-width="1.3"/>
<text x="1368.3" y="1646.0" font-family="'Liberation Serif', 'DejaVu Serif', serif" font-size="11.5" font-weight="bold" text-anchor="middle" fill="#000">6</text>
<rect x="1385.02" y="1575.16" width="23.70" height="53.64" fill="#555555"/>
<rect x="1385.02" y="1542.44" width="23.70" height="32.72" fill="#5d87ee"/>
<rect x="1385.02" y="1463.70" width="23.70" height="78.74" fill="#e24b34"/>
<rect x="1385.02" y="1425.60" width="23.70" height="38.10" fill="#d8d050"/>
<rect x="1385.02" y="1575.16" width="23.70" height="53.64" fill="none" stroke="#000" stroke-opacity="0.72" stroke-width="1.3"/>
<rect x="1385.02" y="1542.44" width="23.70" height="32.72" fill="none" stroke="#000" stroke-opacity="0.72" stroke-width="1.3"/>
<rect x="1385.02" y="1463.70" width="23.70" height="78.74" fill="none" stroke="#000" stroke-opacity="0.72" stroke-width="1.3"/>
<rect x="1385.02" y="1425.60" width="23.70" height="38.10" fill="none" stroke="#000" stroke-opacity="0.72" stroke-width="1.3"/>
<text x="1396.9" y="1646.0" font-family="'Liberation Serif', 'DejaVu Serif', serif" font-size="11.5" font-weight="bold" text-anchor="middle" fill="#000">7</text>
<rect x="1413.60" y="1571.70" width="23.70" height="57.10" fill="#555555"/>
<rect x="1413.60" y="1540.81" width="23.70" height="30.89" fill="#5d87ee"/>
<rect x="1413.60" y="1462.58" width="23.70" height="78.23" fill="#e24b34"/>
<rect x="1413.60" y="1425.60" width="23.70" height="36.98" fill="#d8d050"/>
<rect x="1413.60" y="1571.70" width="23.70" height="57.10" fill="none" stroke="#000" stroke-opacity="0.72" stroke-width="1.3"/>
<rect x="1413.60" y="1540.81" width="23.70" height="30.89" fill="none" stroke="#000" stroke-opacity="0.72" stroke-width="1.3"/>
<rect x="1413.60" y="1462.58" width="23.70" height="78.23" fill="none" stroke="#000" stroke-opacity="0.72" stroke-width="1.3"/>
<rect x="1413.60" y="1425.60" width="23.70" height="36.98" fill="none" stroke="#000" stroke-opacity="0.72" stroke-width="1.3"/>
<text x="1425.5" y="1646.0" font-family="'Liberation Serif', 'DejaVu Serif', serif" font-size="11.5" font-weight="bold" text-anchor="middle" fill="#000">8</text>
<rect x="1442.18" y="1572.72" width="23.70" height="56.08" fill="#555555"/>
<rect x="1442.18" y="1541.02" width="23.70" height="31.70" fill="#5d87ee"/>
<rect x="1442.18" y="1461.97" width="23.70" height="79.04" fill="#e24b34"/>
<rect x="1442.18" y="1425.60" width="23.70" height="36.37" fill="#d8d050"/>
<rect x="1442.18" y="1572.72" width="23.70" height="56.08" fill="none" stroke="#000" stroke-opacity="0.72" stroke-width="1.3"/>
<rect x="1442.18" y="1541.02" width="23.70" height="31.70" fill="none" stroke="#000" stroke-opacity="0.72" stroke-width="1.3"/>
<rect x="1442.18" y="1461.97" width="23.70" height="79.04" fill="none" stroke="#000" stroke-opacity="0.72" stroke-width="1.3"/>
<rect x="1442.18" y="1425.60" width="23.70" height="36.37" fill="none" stroke="#000" stroke-opacity="0.72" stroke-width="1.3"/>
<text x="1454.0" y="1646.0" font-family="'Liberation Serif', 'DejaVu Serif', serif" font-size="11.5" font-weight="bold" text-anchor="middle" fill="#000">9</text>
<rect x="1470.77" y="1569.87" width="23.70" height="58.93" fill="#555555"/>
<rect x="1470.77" y="1542.03" width="23.70" height="27.84" fill="#5d87ee"/>
<rect x="1470.77" y="1461.97" width="23.70" height="80.06" fill="#e24b34"/>
<rect x="1470.77" y="1425.60" width="23.70" height="36.37" fill="#d8d050"/>
<rect x="1470.77" y="1569.87" width="23.70" height="58.93" fill="none" stroke="#000" stroke-opacity="0.72" stroke-width="1.3"/>
<rect x="1470.77" y="1542.03" width="23.70" height="27.84" fill="none" stroke="#000" stroke-opacity="0.72" stroke-width="1.3"/>
<rect x="1470.77" y="1461.97" width="23.70" height="80.06" fill="none" stroke="#000" stroke-opacity="0.72" stroke-width="1.3"/>
<rect x="1470.77" y="1425.60" width="23.70" height="36.37" fill="none" stroke="#000" stroke-opacity="0.72" stroke-width="1.3"/>
<text x="1482.6" y="1646.0" font-family="'Liberation Serif', 'DejaVu Serif', serif" font-size="11.5" font-weight="bold" text-anchor="middle" fill="#000" textLength="11.5" lengthAdjust="spacingAndGlyphs">10</text>
<line x1="1168.2" y1="1423.6" x2="1168.2" y2="1628.8" stroke="#3c3c3c" stroke-width="1.2"/>
<line x1="1511.2" y1="1423.6" x2="1511.2" y2="1628.8" stroke="#3c3c3c" stroke-width="1.2"/>
<line x1="1168.2" y1="1628.8" x2="1511.2" y2="1628.8" stroke="#3c3c3c" stroke-width="1.3"/>
<line x1="1168.2" y1="1628.80" x2="1172.2" y2="1628.80" stroke="#3c3c3c" stroke-width="1.3"/>
<line x1="1511.2" y1="1628.80" x2="1507.2" y2="1628.80" stroke="#3c3c3c" stroke-width="1.3"/>
<line x1="1168.2" y1="1618.64" x2="1170.4" y2="1618.64" stroke="#3c3c3c" stroke-width="1.3"/>
<line x1="1511.2" y1="1618.64" x2="1509.0" y2="1618.64" stroke="#3c3c3c" stroke-width="1.3"/>
<line x1="1168.2" y1="1608.48" x2="1170.4" y2="1608.48" stroke="#3c3c3c" stroke-width="1.3"/>
<line x1="1511.2" y1="1608.48" x2="1509.0" y2="1608.48" stroke="#3c3c3c" stroke-width="1.3"/>
<line x1="1168.2" y1="1598.32" x2="1170.4" y2="1598.32" stroke="#3c3c3c" stroke-width="1.3"/>
<line x1="1511.2" y1="1598.32" x2="1509.0" y2="1598.32" stroke="#3c3c3c" stroke-width="1.3"/>
<line x1="1168.2" y1="1588.16" x2="1172.2" y2="1588.16" stroke="#3c3c3c" stroke-width="1.3"/>
<line x1="1511.2" y1="1588.16" x2="1507.2" y2="1588.16" stroke="#3c3c3c" stroke-width="1.3"/>
<line x1="1168.2" y1="1578.00" x2="1170.4" y2="1578.00" stroke="#3c3c3c" stroke-width="1.3"/>
<line x1="1511.2" y1="1578.00" x2="1509.0" y2="1578.00" stroke="#3c3c3c" stroke-width="1.3"/>
<line x1="1168.2" y1="1567.84" x2="1170.4" y2="1567.84" stroke="#3c3c3c" stroke-width="1.3"/>
<line x1="1511.2" y1="1567.84" x2="1509.0" y2="1567.84" stroke="#3c3c3c" stroke-width="1.3"/>
<line x1="1168.2" y1="1557.68" x2="1170.4" y2="1557.68" stroke="#3c3c3c" stroke-width="1.3"/>
<line x1="1511.2" y1="1557.68" x2="1509.0" y2="1557.68" stroke="#3c3c3c" stroke-width="1.3"/>
<line x1="1168.2" y1="1547.52" x2="1172.2" y2="1547.52" stroke="#3c3c3c" stroke-width="1.3"/>
<line x1="1511.2" y1="1547.52" x2="1507.2" y2="1547.52" stroke="#3c3c3c" stroke-width="1.3"/>
<line x1="1168.2" y1="1537.36" x2="1170.4" y2="1537.36" stroke="#3c3c3c" stroke-width="1.3"/>
<line x1="1511.2" y1="1537.36" x2="1509.0" y2="1537.36" stroke="#3c3c3c" stroke-width="1.3"/>
<line x1="1168.2" y1="1527.20" x2="1170.4" y2="1527.20" stroke="#3c3c3c" stroke-width="1.3"/>
<line x1="1511.2" y1="1527.20" x2="1509.0" y2="1527.20" stroke="#3c3c3c" stroke-width="1.3"/>
<line x1="1168.2" y1="1517.04" x2="1170.4" y2="1517.04" stroke="#3c3c3c" stroke-width="1.3"/>
<line x1="1511.2" y1="1517.04" x2="1509.0" y2="1517.04" stroke="#3c3c3c" stroke-width="1.3"/>
<line x1="1168.2" y1="1506.88" x2="1172.2" y2="1506.88" stroke="#3c3c3c" stroke-width="1.3"/>
<line x1="1511.2" y1="1506.88" x2="1507.2" y2="1506.88" stroke="#3c3c3c" stroke-width="1.3"/>
<line x1="1168.2" y1="1496.72" x2="1170.4" y2="1496.72" stroke="#3c3c3c" stroke-width="1.3"/>
<line x1="1511.2" y1="1496.72" x2="1509.0" y2="1496.72" stroke="#3c3c3c" stroke-width="1.3"/>
<line x1="1168.2" y1="1486.56" x2="1170.4" y2="1486.56" stroke="#3c3c3c" stroke-width="1.3"/>
<line x1="1511.2" y1="1486.56" x2="1509.0" y2="1486.56" stroke="#3c3c3c" stroke-width="1.3"/>
<line x1="1168.2" y1="1476.40" x2="1170.4" y2="1476.40" stroke="#3c3c3c" stroke-width="1.3"/>
<line x1="1511.2" y1="1476.40" x2="1509.0" y2="1476.40" stroke="#3c3c3c" stroke-width="1.3"/>
<line x1="1168.2" y1="1466.24" x2="1172.2" y2="1466.24" stroke="#3c3c3c" stroke-width="1.3"/>
<line x1="1511.2" y1="1466.24" x2="1507.2" y2="1466.24" stroke="#3c3c3c" stroke-width="1.3"/>
<line x1="1168.2" y1="1456.08" x2="1170.4" y2="1456.08" stroke="#3c3c3c" stroke-width="1.3"/>
<line x1="1511.2" y1="1456.08" x2="1509.0" y2="1456.08" stroke="#3c3c3c" stroke-width="1.3"/>
<line x1="1168.2" y1="1445.92" x2="1170.4" y2="1445.92" stroke="#3c3c3c" stroke-width="1.3"/>
<line x1="1511.2" y1="1445.92" x2="1509.0" y2="1445.92" stroke="#3c3c3c" stroke-width="1.3"/>
<line x1="1168.2" y1="1435.76" x2="1170.4" y2="1435.76" stroke="#3c3c3c" stroke-width="1.3"/>
<line x1="1511.2" y1="1435.76" x2="1509.0" y2="1435.76" stroke="#3c3c3c" stroke-width="1.3"/>
<line x1="1168.2" y1="1425.60" x2="1172.2" y2="1425.60" stroke="#3c3c3c" stroke-width="1.3"/>
<line x1="1511.2" y1="1425.60" x2="1507.2" y2="1425.60" stroke="#3c3c3c" stroke-width="1.3"/>
<text x="1165.0" y="1636.0" font-family="'Liberation Serif', 'DejaVu Serif', serif" font-size="15" font-weight="normal" text-anchor="end" fill="#000">0</text>
<text x="1165.0" y="1595.4" font-family="'Liberation Serif', 'DejaVu Serif', serif" font-size="15" font-weight="normal" text-anchor="end" fill="#000">20</text>
<text x="1165.0" y="1554.7" font-family="'Liberation Serif', 'DejaVu Serif', serif" font-size="15" font-weight="normal" text-anchor="end" fill="#000">40</text>
<text x="1165.0" y="1514.1" font-family="'Liberation Serif', 'DejaVu Serif', serif" font-size="15" font-weight="normal" text-anchor="end" fill="#000">60</text>
<text x="1165.0" y="1473.4" font-family="'Liberation Serif', 'DejaVu Serif', serif" font-size="15" font-weight="normal" text-anchor="end" fill="#000">80</text>
<text x="1165.0" y="1432.8" font-family="'Liberation Serif', 'DejaVu Serif', serif" font-size="15" font-weight="normal" text-anchor="end" fill="#000" textLength="23.0" lengthAdjust="spacingAndGlyphs">100</text>
<text x="1311.4" y="1417.0" font-family="'Liberation Serif', 'DejaVu Serif', serif" font-size="19.5" font-weight="normal" text-anchor="start" fill="#000" textLength="94.2" lengthAdjust="spacingAndGlyphs">Sequence 9</text>
<text x="1299.7" y="1666.3" font-family="'Liberation Serif', 'DejaVu Serif', serif" font-size="18.5" font-weight="normal" text-anchor="start" fill="#000" textLength="104.6" lengthAdjust="spacingAndGlyphs">Conformation</text>
<rect x="1557.63" y="1580.03" width="23.70" height="48.77" fill="#c9c9c9"/>
<rect x="1557.63" y="1530.45" width="23.70" height="49.58" fill="#cddcf5"/>
<rect x="1557.63" y="1446.53" width="23.70" height="83.92" fill="#eec8c4"/>
<rect x="1557.63" y="1425.60" width="23.70" height="20.93" fill="#f1f0ca"/>
<rect x="1557.63" y="1580.03" width="23.70" height="48.77" fill="none" stroke="#3a3a3a" stroke-width="1.4" stroke-dasharray="4,3.2"/>
<rect x="1557.63" y="1530.45" width="23.70" height="49.58" fill="none" stroke="#3a3a3a" stroke-width="1.4" stroke-dasharray="4,3.2"/>
<rect x="1557.63" y="1446.53" width="23.70" height="83.92" fill="none" stroke="#3a3a3a" stroke-width="1.4" stroke-dasharray="4,3.2"/>
<rect x="1557.63" y="1425.60" width="23.70" height="20.93" fill="none" stroke="#3a3a3a" stroke-width="1.4" stroke-dasharray="4,3.2"/>
<rect x="1586.22" y="1582.06" width="23.70" height="46.74" fill="#555555"/>
<rect x="1586.22" y="1520.70" width="23.70" height="61.37" fill="#5d87ee"/>
<rect x="1586.22" y="1447.75" width="23.70" height="72.95" fill="#e24b34"/>
<rect x="1586.22" y="1425.60" width="23.70" height="22.15" fill="#d8d050"/>
<rect x="1586.22" y="1582.06" width="23.70" height="46.74" fill="none" stroke="#000" stroke-opacity="0.72" stroke-width="1.3"/>
<rect x="1586.22" y="1520.70" width="23.70" height="61.37" fill="none" stroke="#000" stroke-opacity="0.72" stroke-width="1.3"/>
<rect x="1586.22" y="1447.75" width="23.70" height="72.95" fill="none" stroke="#000" stroke-opacity="0.72" stroke-width="1.3"/>
<rect x="1586.22" y="1425.60" width="23.70" height="22.15" fill="none" stroke="#000" stroke-opacity="0.72" stroke-width="1.3"/>
<text x="1598.1" y="1646.0" font-family="'Liberation Serif', 'DejaVu Serif', serif" font-size="11.5" font-weight="bold" text-anchor="middle" fill="#000">1</text>
<rect x="1614.80" y="1585.92" width="23.70" height="42.88" fill="#555555"/>
<rect x="1614.80" y="1522.32" width="23.70" height="63.60" fill="#5d87ee"/>
<rect x="1614.80" y="1451.41" width="23.70" height="70.92" fill="#e24b34"/>
<rect x="1614.80" y="1425.60" width="23.70" height="25.81" fill="#d8d050"/>
<rect x="1614.80" y="1585.92" width="23.70" height="42.88" fill="none" stroke="#000" stroke-opacity="0.72" stroke-width="1.3"/>
<rect x="1614.80" y="1522.32" width="23.70" height="63.60" fill="none" stroke="#000" stroke-opacity="0.72" stroke-width="1.3"/>
<rect x="1614.80" y="1451.41" width="23.70" height="70.92" fill="none" stroke="#000" stroke-opacity="0.72" stroke-width="1.3"/>
<rect x="1614.80" y="1425.60" width="23.70" height="25.81" fill="none" stroke="#000" stroke-opacity="0.72" stroke-width="1.3"/>
<text x="1626.7" y="1646.0" font-family="'Liberation Serif', 'DejaVu Serif', serif" font-size="11.5" font-weight="bold" text-anchor="middle" fill="#000">2</text>
<rect x="1643.38" y="1583.69" width="23.70" height="45.11" fill="#555555"/>
<rect x="1643.38" y="1523.34" width="23.70" height="60.35" fill="#5d87ee"/>
<rect x="1643.38" y="1447.14" width="23.70" height="76.20" fill="#e24b34"/>
<rect x="1643.38" y="1425.60" width="23.70" height="21.54" fill="#d8d050"/>
<rect x="1643.38" y="1583.69" width="23.70" height="45.11" fill="none" stroke="#000" stroke-opacity="0.72" stroke-width="1.3"/>
<rect x="1643.38" y="1523.34" width="23.70" height="60.35" fill="none" stroke="#000" stroke-opacity="0.72" stroke-width="1.3"/>
<rect x="1643.38" y="1447.14" width="23.70" height="76.20" fill="none" stroke="#000" stroke-opacity="0.72" stroke-width="1.3"/>
<rect x="1643.38" y="1425.60" width="23.70" height="21.54" fill="none" stroke="#000" stroke-opacity="0.72" stroke-width="1.3"/>
<text x="1655.2" y="1646.0" font-family="'Liberation Serif', 'DejaVu Serif', serif" font-size="11.5" font-weight="bold" text-anchor="middle" fill="#000">3</text>
<rect x="1671.97" y="1584.30" width="23.70" height="44.50" fill="#555555"/>
<rect x="1671.97" y="1524.36" width="23.70" height="59.94" fill="#5d87ee"/>
<rect x="1671.97" y="1448.16" width="23.70" height="76.20" fill="#e24b34"/>
<rect x="1671.97" y="1425.60" width="23.70" height="22.56" fill="#d8d050"/>
<rect x="1671.97" y="1584.30" width="23.70" height="44.50" fill="none" stroke="#000" stroke-opacity="0.72" stroke-width="1.3"/>
<rect x="1671.97" y="1524.36" width="23.70" height="59.94" fill="none" stroke="#000" stroke-opacity="0.72" stroke-width="1.3"/>
<rect x="1671.97" y="1448.16" width="23.70" height="76.20" fill="none" stroke="#000" stroke-opacity="0.72" stroke-width="1.3"/>
<rect x="1671.97" y="1425.60" width="23.70" height="22.56" fill="none" stroke="#000" stroke-opacity="0.72" stroke-width="1.3"/>
<text x="1683.8" y="1646.0" font-family="'Liberation Serif', 'DejaVu Serif', serif" font-size="11.5" font-weight="bold" text-anchor="middle" fill="#000">4</text>
<rect x="1700.55" y="1576.78" width="23.70" height="52.02" fill="#555555"/>
<rect x="1700.55" y="1520.90" width="23.70" height="55.88" fill="#5d87ee"/>
<rect x="1700.55" y="1454.66" width="23.70" height="66.24" fill="#e24b34"/>
<rect x="1700.55" y="1425.60" width="23.70" height="29.06" fill="#d8d050"/>
<rect x="1700.55" y="1576.78" width="23.70" height="52.02" fill="none" stroke="#000" stroke-opacity="0.72" stroke-width="1.3"/>
<rect x="1700.55" y="1520.90" width="23.70" height="55.88" fill="none" stroke="#000" stroke-opacity="0.72" stroke-width="1.3"/>
<rect x="1700.55" y="1454.66" width="23.70" height="66.24" fill="none" stroke="#000" stroke-opacity="0.72" stroke-width="1.3"/>
<rect x="1700.55" y="1425.60" width="23.70" height="29.06" fill="none" stroke="#000" stroke-opacity="0.72" stroke-width="1.3"/>
<text x="1712.4" y="1646.0" font-family="'Liberation Serif', 'DejaVu Serif', serif" font-size="11.5" font-weight="bold" text-anchor="middle" fill="#000">5</text>
<rect x="1729.13" y="1582.27" width="23.70" height="46.53" fill="#555555"/>
<rect x="1729.13" y="1519.07" width="23.70" height="63.20" fill="#5d87ee"/>
<rect x="1729.13" y="1448.16" width="23.70" height="70.92" fill="#e24b34"/>
<rect x="1729.13" y="1425.60" width="23.70" height="22.56" fill="#d8d050"/>
<rect x="1729.13" y="1582.27" width="23.70" height="46.53" fill="none" stroke="#000" stroke-opacity="0.72" stroke-width="1.3"/>
<rect x="1729.13" y="1519.07" width="23.70" height="63.20" fill="none" stroke="#000" stroke-opacity="0.72" stroke-width="1.3"/>
<rect x="1729.13" y="1448.16" width="23.70" height="70.92" fill="none" stroke="#000" stroke-opacity="0.72" stroke-width="1.3"/>
<rect x="1729.13" y="1425.60" width="23.70" height="22.56" fill="none" stroke="#000" stroke-opacity="0.72" stroke-width="1.3"/>
<text x="1741.0" y="1646.0" font-family="'Liberation Serif', 'DejaVu Serif', serif" font-size="11.5" font-weight="bold" text-anchor="middle" fill="#000">6</text>
<rect x="1757.72" y="1584.30" width="23.70" height="44.50" fill="#555555"/>
<rect x="1757.72" y="1526.59" width="23.70" height="57.71" fill="#5d87ee"/>
<rect x="1757.72" y="1447.75" width="23.70" height="78.84" fill="#e24b34"/>
<rect x="1757.72" y="1425.60" width="23.70" height="22.15" fill="#d8d050"/>
<rect x="1757.72" y="1584.30" width="23.70" height="44.50" fill="none" stroke="#000" stroke-opacity="0.72" stroke-width="1.3"/>
<rect x="1757.72" y="1526.59" width="23.70" height="57.71" fill="none" stroke="#000" stroke-opacity="0.72" stroke-width="1.3"/>
<rect x="1757.72" y="1447.75" width="23.70" height="78.84" fill="none" stroke="#000" stroke-opacity="0.72" stroke-width="1.3"/>
<rect x="1757.72" y="1425.60" width="23.70" height="22.15" fill="none" stroke="#000" stroke-opacity="0.72" stroke-width="1.3"/>
<text x="1769.6" y="1646.0" font-family="'Liberation Serif', 'DejaVu Serif', serif" font-size="11.5" font-weight="bold" text-anchor="middle" fill="#000">7</text>
<rect x="1786.30" y="1582.27" width="23.70" height="46.53" fill="#555555"/>
<rect x="1786.30" y="1529.74" width="23.70" height="52.53" fill="#5d87ee"/>
<rect x="1786.30" y="1449.37" width="23.70" height="80.37" fill="#e24b34"/>
<rect x="1786.30" y="1425.60" width="23.70" height="23.77" fill="#d8d050"/>
<rect x="1786.30" y="1582.27" width="23.70" height="46.53" fill="none" stroke="#000" stroke-opacity="0.72" stroke-width="1.3"/>
<rect x="1786.30" y="1529.74" width="23.70" height="52.53" fill="none" stroke="#000" stroke-opacity="0.72" stroke-width="1.3"/>
<rect x="1786.30" y="1449.37" width="23.70" height="80.37" fill="none" stroke="#000" stroke-opacity="0.72" stroke-width="1.3"/>
<rect x="1786.30" y="1425.60" width="23.70" height="23.77" fill="none" stroke="#000" stroke-opacity="0.72" stroke-width="1.3"/>
<text x="1798.2" y="1646.0" font-family="'Liberation Serif', 'DejaVu Serif', serif" font-size="11.5" font-weight="bold" text-anchor="middle" fill="#000">8</text>
<rect x="1814.88" y="1584.71" width="23.70" height="44.09" fill="#555555"/>
<rect x="1814.88" y="1526.18" width="23.70" height="58.52" fill="#5d87ee"/>
<rect x="1814.88" y="1452.02" width="23.70" height="74.17" fill="#e24b34"/>
<rect x="1814.88" y="1425.60" width="23.70" height="26.42" fill="#d8d050"/>
<rect x="1814.88" y="1584.71" width="23.70" height="44.09" fill="none" stroke="#000" stroke-opacity="0.72" stroke-width="1.3"/>
<rect x="1814.88" y="1526.18" width="23.70" height="58.52" fill="none" stroke="#000" stroke-opacity="0.72" stroke-width="1.3"/>
<rect x="1814.88" y="1452.02" width="23.70" height="74.17" fill="none" stroke="#000" stroke-opacity="0.72" stroke-width="1.3"/>
<rect x="1814.88" y="1425.60" width="23.70" height="26.42" fill="none" stroke="#000" stroke-opacity="0.72" stroke-width="1.3"/>
<text x="1826.7" y="1646.0" font-family="'Liberation Serif', 'DejaVu Serif', serif" font-size="11.5" font-weight="bold" text-anchor="middle" fill="#000">9</text>
<rect x="1843.47" y="1582.06" width="23.70" height="46.74" fill="#555555"/>
<rect x="1843.47" y="1522.73" width="23.70" height="59.33" fill="#5d87ee"/>
<rect x="1843.47" y="1452.02" width="23.70" height="70.71" fill="#e24b34"/>
<rect x="1843.47" y="1425.60" width="23.70" height="26.42" fill="#d8d050"/>
<rect x="1843.47" y="1582.06" width="23.70" height="46.74" fill="none" stroke="#000" stroke-opacity="0.72" stroke-width="1.3"/>
<rect x="1843.47" y="1522.73" width="23.70" height="59.33" fill="none" stroke="#000" stroke-opacity="0.72" stroke-width="1.3"/>
<rect x="1843.47" y="1452.02" width="23.70" height="70.71" fill="none" stroke="#000" stroke-opacity="0.72" stroke-width="1.3"/>
<rect x="1843.47" y="1425.60" width="23.70" height="26.42" fill="none" stroke="#000" stroke-opacity="0.72" stroke-width="1.3"/>
<text x="1855.3" y="1646.0" font-family="'Liberation Serif', 'DejaVu Serif', serif" font-size="11.5" font-weight="bold" text-anchor="middle" fill="#000" textLength="11.5" lengthAdjust="spacingAndGlyphs">10</text>
<line x1="1540.9" y1="1423.6" x2="1540.9" y2="1628.8" stroke="#3c3c3c" stroke-width="1.2"/>
<line x1="1883.9" y1="1423.6" x2="1883.9" y2="1628.8" stroke="#3c3c3c" stroke-width="1.2"/>
<line x1="1540.9" y1="1628.8" x2="1883.9" y2="1628.8" stroke="#3c3c3c" stroke-width="1.3"/>
<line x1="1540.9" y1="1628.80" x2="1544.9" y2="1628.80" stroke="#3c3c3c" stroke-width="1.3"/>
<line x1="1883.9" y1="1628.80" x2="1879.9" y2="1628.80" stroke="#3c3c3c" stroke-width="1.3"/>
<line x1="1540.9" y1="1618.64" x2="1543.1000000000001" y2="1618.64" stroke="#3c3c3c" stroke-width="1.3"/>
<line x1="1883.9" y1="1618.64" x2="1881.7" y2="1618.64" stroke="#3c3c3c" stroke-width="1.3"/>
<line x1="1540.9" y1="1608.48" x2="1543.1000000000001" y2="1608.48" stroke="#3c3c3c" stroke-width="1.3"/>
<line x1="1883.9" y1="1608.48" x2="1881.7" y2="1608.48" stroke="#3c3c3c" stroke-width="1.3"/>
<line x1="1540.9" y1="1598.32" x2="1543.1000000000001" y2="1598.32" stroke="#3c3c3c" stroke-width="1.3"/>
<line x1="1883.9" y1="1598.32" x2="1881.7" y2="1598.32" stroke="#3c3c3c" stroke-width="1.3"/>
<line x1="1540.9" y1="1588.16" x2="1544.9" y2="1588.16" stroke="#3c3c3c" stroke-width="1.3"/>
<line x1="1883.9" y1="1588.16" x2="1879.9" y2="1588.16" stroke="#3c3c3c" stroke-width="1.3"/>
<line x1="1540.9" y1="1578.00" x2="1543.1000000000001" y2="1578.00" stroke="#3c3c3c" stroke-width="1.3"/>
<line x1="1883.9" y1="1578.00" x2="1881.7" y2="1578.00" stroke="#3c3c3c" stroke-width="1.3"/>
<line x1="1540.9" y1="1567.84" x2="1543.1000000000001" y2="1567.84" stroke="#3c3c3c" stroke-width="1.3"/>
<line x1="1883.9" y1="1567.84" x2="1881.7" y2="1567.84" stroke="#3c3c3c" stroke-width="1.3"/>
<line x1="1540.9" y1="1557.68" x2="1543.1000000000001" y2="1557.68" stroke="#3c3c3c" stroke-width="1.3"/>
<line x1="1883.9" y1="1557.68" x2="1881.7" y2="1557.68" stroke="#3c3c3c" stroke-width="1.3"/>
<line x1="1540.9" y1="1547.52" x2="1544.9" y2="1547.52" stroke="#3c3c3c" stroke-width="1.3"/>
<line x1="1883.9" y1="1547.52" x2="1879.9" y2="1547.52" stroke="#3c3c3c" stroke-width="1.3"/>
<line x1="1540.9" y1="1537.36" x2="1543.1000000000001" y2="1537.36" stroke="#3c3c3c" stroke-width="1.3"/>
<line x1="1883.9" y1="1537.36" x2="1881.7" y2="1537.36" stroke="#3c3c3c" stroke-width="1.3"/>
<line x1="1540.9" y1="1527.20" x2="1543.1000000000001" y2="1527.20" stroke="#3c3c3c" stroke-width="1.3"/>
<line x1="1883.9" y1="1527.20" x2="1881.7" y2="1527.20" stroke="#3c3c3c" stroke-width="1.3"/>
<line x1="1540.9" y1="1517.04" x2="1543.1000000000001" y2="1517.04" stroke="#3c3c3c" stroke-width="1.3"/>
<line x1="1883.9" y1="1517.04" x2="1881.7" y2="1517.04" stroke="#3c3c3c" stroke-width="1.3"/>
<line x1="1540.9" y1="1506.88" x2="1544.9" y2="1506.88" stroke="#3c3c3c" stroke-width="1.3"/>
<line x1="1883.9" y1="1506.88" x2="1879.9" y2="1506.88" stroke="#3c3c3c" stroke-width="1.3"/>
<line x1="1540.9" y1="1496.72" x2="1543.1000000000001" y2="1496.72" stroke="#3c3c3c" stroke-width="1.3"/>
<line x1="1883.9" y1="1496.72" x2="1881.7" y2="1496.72" stroke="#3c3c3c" stroke-width="1.3"/>
<line x1="1540.9" y1="1486.56" x2="1543.1000000000001" y2="1486.56" stroke="#3c3c3c" stroke-width="1.3"/>
<line x1="1883.9" y1="1486.56" x2="1881.7" y2="1486.56" stroke="#3c3c3c" stroke-width="1.3"/>
<line x1="1540.9" y1="1476.40" x2="1543.1000000000001" y2="1476.40" stroke="#3c3c3c" stroke-width="1.3"/>
<line x1="1883.9" y1="1476.40" x2="1881.7" y2="1476.40" stroke="#3c3c3c" stroke-width="1.3"/>
<line x1="1540.9" y1="1466.24" x2="1544.9" y2="1466.24" stroke="#3c3c3c" stroke-width="1.3"/>
<line x1="1883.9" y1="1466.24" x2="1879.9" y2="1466.24" stroke="#3c3c3c" stroke-width="1.3"/>
<line x1="1540.9" y1="1456.08" x2="1543.1000000000001" y2="1456.08" stroke="#3c3c3c" stroke-width="1.3"/>
<line x1="1883.9" y1="1456.08" x2="1881.7" y2="1456.08" stroke="#3c3c3c" stroke-width="1.3"/>
<line x1="1540.9" y1="1445.92" x2="1543.1000000000001" y2="1445.92" stroke="#3c3c3c" stroke-width="1.3"/>
<line x1="1883.9" y1="1445.92" x2="1881.7" y2="1445.92" stroke="#3c3c3c" stroke-width="1.3"/>
<line x1="1540.9" y1="1435.76" x2="1543.1000000000001" y2="1435.76" stroke="#3c3c3c" stroke-width="1.3"/>
<line x1="1883.9" y1="1435.76" x2="1881.7" y2="1435.76" stroke="#3c3c3c" stroke-width="1.3"/>
<line x1="1540.9" y1="1425.60" x2="1544.9" y2="1425.60" stroke="#3c3c3c" stroke-width="1.3"/>
<line x1="1883.9" y1="1425.60" x2="1879.9" y2="1425.60" stroke="#3c3c3c" stroke-width="1.3"/>
<text x="1537.7" y="1636.0" font-family="'Liberation Serif', 'DejaVu Serif', serif" font-size="15" font-weight="normal" text-anchor="end" fill="#000">0</text>
<text x="1537.7" y="1595.4" font-family="'Liberation Serif', 'DejaVu Serif', serif" font-size="15" font-weight="normal" text-anchor="end" fill="#000">20</text>
<text x="1537.7" y="1554.7" font-family="'Liberation Serif', 'DejaVu Serif', serif" font-size="15" font-weight="normal" text-anchor="end" fill="#000">40</text>
<text x="1537.7" y="1514.1" font-family="'Liberation Serif', 'DejaVu Serif', serif" font-size="15" font-weight="normal" text-anchor="end" fill="#000">60</text>
<text x="1537.7" y="1473.4" font-family="'Liberation Serif', 'DejaVu Serif', serif" font-size="15" font-weight="normal" text-anchor="end" fill="#000">80</text>
<text x="1537.7" y="1432.8" font-family="'Liberation Serif', 'DejaVu Serif', serif" font-size="15" font-weight="normal" text-anchor="end" fill="#000" textLength="23.0" lengthAdjust="spacingAndGlyphs">100</text>
<text x="1680.6" y="1417.0" font-family="'Liberation Serif', 'DejaVu Serif', serif" font-size="19.5" font-weight="normal" text-anchor="start" fill="#000" textLength="103.8" lengthAdjust="spacingAndGlyphs">Sequence 10</text>
<text x="1672.2" y="1666.3" font-family="'Liberation Serif', 'DejaVu Serif', serif" font-size="18.5" font-weight="normal" text-anchor="start" fill="#000" textLength="105.2" lengthAdjust="spacingAndGlyphs">Conformation</text>
<rect x="756" y="1701.8" width="20" height="17" fill="none" stroke="#222" stroke-width="1.4" stroke-dasharray="4,2.6"/>
<rect x="756" y="1737.3" width="20" height="16.5" fill="none" stroke="#222" stroke-width="1.5"/>
<text x="787.1" y="1719.4" font-family="'Liberation Serif', 'DejaVu Serif', serif" font-size="26" font-weight="normal" text-anchor="start" fill="#000" textLength="357.6" lengthAdjust="spacingAndGlyphs">Sequence Composition by Mass</text>
<text x="787.1" y="1753.8" font-family="'Liberation Serif', 'DejaVu Serif', serif" font-size="26" font-weight="normal" text-anchor="start" fill="#000" textLength="336.4" lengthAdjust="spacingAndGlyphs">Surface Composition by Mass</text>
</svg></body></html>
